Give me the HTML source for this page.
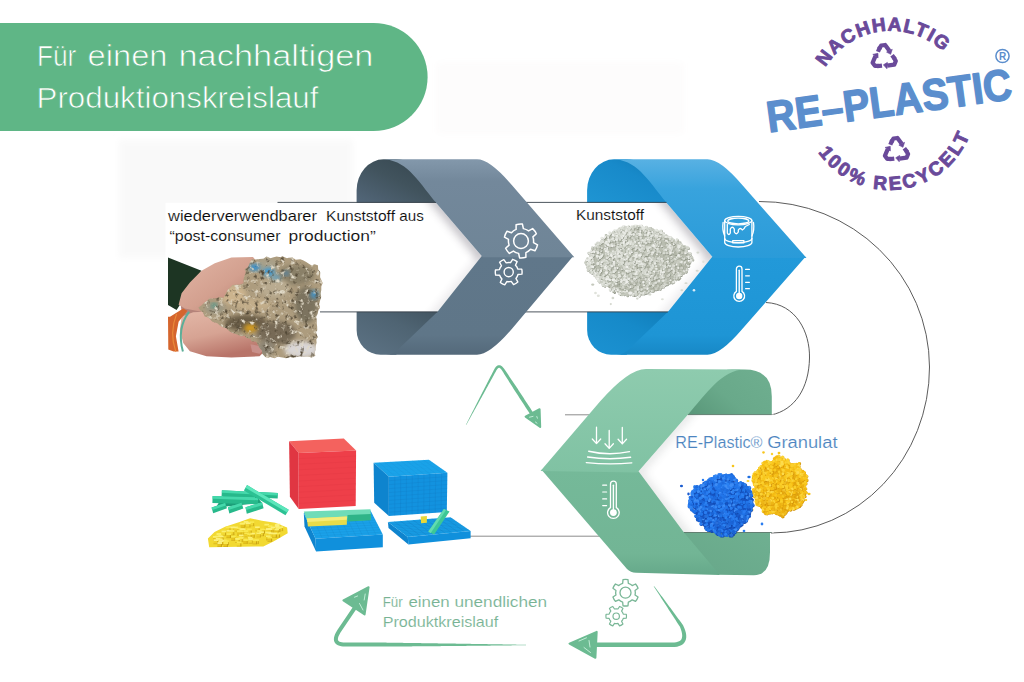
<!DOCTYPE html>
<html><head><meta charset="utf-8"><title>RE-Plastic Produktionskreislauf</title>
<style>
html,body{margin:0;padding:0;background:#fff;}
body{width:1024px;height:682px;overflow:hidden;font-family:"Liberation Sans",sans-serif;}
svg{display:block;font-family:"Liberation Sans",sans-serif;}
</style></head><body>
<svg width="1024" height="682" viewBox="0 0 1024 682">
<rect width="1024" height="682" fill="#fff"/>

<defs>
  <linearGradient id="gUp" x1="0" y1="0" x2="0" y2="1">
    <stop offset="0" stop-color="#8398ab"/><stop offset="0.22" stop-color="#73889b"/><stop offset="1" stop-color="#6f8597"/>
  </linearGradient>
  <linearGradient id="gLo" x1="0" y1="0" x2="0" y2="1">
    <stop offset="0" stop-color="#60778a"/><stop offset="0.8" stop-color="#5f7688"/><stop offset="1" stop-color="#54697a"/>
  </linearGradient>
  <linearGradient id="gBackU" x1="0" y1="1" x2="1" y2="0">
    <stop offset="0" stop-color="#53677a"/><stop offset="0.5" stop-color="#41535d"/><stop offset="1" stop-color="#33434c"/>
  </linearGradient>
  <linearGradient id="gBackL" x1="0" y1="1" x2="1" y2="0">
    <stop offset="0" stop-color="#5d7385"/><stop offset="0.6" stop-color="#4f6473"/><stop offset="1" stop-color="#41535f"/>
  </linearGradient>

  <linearGradient id="bUp" x1="0" y1="0" x2="0" y2="1">
    <stop offset="0" stop-color="#58b1e3"/><stop offset="0.3" stop-color="#38a3dd"/><stop offset="1" stop-color="#2a9bd9"/>
  </linearGradient>
  <linearGradient id="bLo" x1="0" y1="0" x2="0" y2="1">
    <stop offset="0" stop-color="#2299d9"/><stop offset="0.8" stop-color="#1e95d5"/><stop offset="1" stop-color="#1788c6"/>
  </linearGradient>
  <linearGradient id="bBackU" x1="0" y1="1" x2="1" y2="0">
    <stop offset="0" stop-color="#1f95d3"/><stop offset="0.6" stop-color="#188aca"/><stop offset="1" stop-color="#0f78b2"/>
  </linearGradient>
  <linearGradient id="bBackL" x1="0" y1="1" x2="1" y2="0">
    <stop offset="0" stop-color="#1c92d2"/><stop offset="0.6" stop-color="#168ac9"/><stop offset="1" stop-color="#107cb8"/>
  </linearGradient>

  <linearGradient id="nUp" x1="0" y1="0" x2="0" y2="1">
    <stop offset="0" stop-color="#8ecbae"/><stop offset="1" stop-color="#80c2a3"/>
  </linearGradient>
  <linearGradient id="nLo" x1="0" y1="0" x2="0" y2="1">
    <stop offset="0" stop-color="#75b999"/><stop offset="0.8" stop-color="#72b595"/><stop offset="1" stop-color="#66a98a"/>
  </linearGradient>
  <linearGradient id="nBackU" x1="1" y1="0.2" x2="0" y2="0.8">
    <stop offset="0" stop-color="#6eae8f"/><stop offset="0.55" stop-color="#69a98a"/><stop offset="1" stop-color="#5a987a"/>
  </linearGradient>
  <linearGradient id="nBackL" x1="1" y1="0" x2="0" y2="1">
    <stop offset="0" stop-color="#6fb091"/><stop offset="1" stop-color="#67a789"/>
  </linearGradient>

  <linearGradient id="shadR" x1="0" y1="0" x2="1" y2="0">
    <stop offset="0" stop-color="#000" stop-opacity="0"/><stop offset="1" stop-color="#2a2030" stop-opacity="0.55"/>
  </linearGradient>
  <filter id="blur3" x="-30%" y="-30%" width="160%" height="160%"><feGaussianBlur stdDeviation="5"/></filter>
  <filter id="blurG" filterUnits="userSpaceOnUse" x="0" y="0" width="1024" height="682"><feGaussianBlur stdDeviation="3.5"/></filter>
  <filter id="blur1" x="-30%" y="-30%" width="160%" height="160%"><feGaussianBlur stdDeviation="1.2"/></filter>
</defs>

<path d="M0,23 H373.6 A54,54 0 0 1 373.6,131 H0 Z" fill="#5fb686"/>
<text x="37" y="66" font-size="29.5" fill="#fff" stroke="#5fb686" stroke-width="0.7" textLength="39.3" lengthAdjust="spacingAndGlyphs">Für</text>
<text x="87.5" y="66" font-size="29.5" fill="#fff" stroke="#5fb686" stroke-width="0.7" textLength="80" lengthAdjust="spacingAndGlyphs">einen</text>
<text x="178.5" y="66" font-size="29.5" fill="#fff" stroke="#5fb686" stroke-width="0.7" textLength="195" lengthAdjust="spacingAndGlyphs">nachhaltigen</text>
<text x="36.5" y="107.5" font-size="30" fill="#fff" stroke="#5fb686" stroke-width="0.7" textLength="282" lengthAdjust="spacingAndGlyphs">Produktionskreislauf</text>
<rect x="119" y="140" width="234" height="118" fill="#f9f9f9" filter="url(#blurG)"/><rect x="436" y="62" width="248" height="72" fill="#fdfcfc" filter="url(#blurG)"/>
<path d="M759,201.5 A169.5,166 0 0 1 929.5,367 A158.5,166 0 0 1 771,533" fill="none" stroke="#4a4a4a" stroke-width="0.9"/>
<path d="M766,302.5 C796,304 810,332 809.5,358 C809,388 795,410 771,415" fill="none" stroke="#4a4a4a" stroke-width="0.9"/>
<path d="M565,414.8 H600" fill="none" stroke="#707070" stroke-width="0.8"/>
<path d="M470,536.2 H600" fill="none" stroke="#707070" stroke-width="0.8"/>
<path d="M587.1,203.3 V190.3 A27,31 0 0 1 614.1,159.3 H626.5 C646.5,159.3 652.5,178.3 671.5,203.3 Z" fill="url(#bBackU)"/>
<path d="M587.1,311.3 V329.7 A24,25 0 0 0 611.1,354.7 H626.5 L673.5,311.3 Z" fill="url(#bBackL)"/>
<path d="M520,202.8 H666.5 L713.3,257.90000000000003 L668.0,311.8 H520 Z" fill="#fff"/>
<clipPath id="clipband230.5"><path d="M546.5,202.8 H666.5 L713.3,257.90000000000003 L668.0,311.8 H546.5 Z"/></clipPath>
<g clip-path="url(#clipband230.5)"><path d="M657.5,190.8 L714.3,258.90000000000003" fill="none" stroke="#40384a" stroke-width="9" opacity="0.36" filter="url(#blur3)"/><path d="M713.3,257.90000000000003 L660.0,321.8" fill="none" stroke="#40384a" stroke-width="6" opacity="0.16" filter="url(#blur3)"/></g>
<path d="M712.3,256.70000000000005 H805.5 L742.5,328.7 Q720.4,354.7 707.5,354.7 H616.5 Q624.5,354.7 631.5,346.7 L668.0,311.8 Z" fill="url(#bLo)"/>
<path d="M611.5,159.3 H707.5 Q720.4,159.3 742.5,185.3 L806.5,257.90000000000003 H713.3 L666.5,202.8 C646.5,178.3 636.5,159.3 611.5,159.3 Z" fill="url(#bUp)"/>
<path d="M520,202.4 H666.5" stroke="#39434c" stroke-width="0.9" fill="none"/>
<path d="M520,311.90000000000003 H668.0" stroke="#39434c" stroke-width="0.9" fill="none"/>
<path d="M356.6,203.3 V190.3 A27,31 0 0 1 383.6,159.3 H396 C416,159.3 422,178.3 441,203.3 Z" fill="url(#gBackU)"/>
<path d="M356.6,311.3 V329.7 A24,25 0 0 0 380.6,354.7 H396 L443,311.3 Z" fill="url(#gBackL)"/>
<path d="M165.5,202.8 H436 L482.8,257.3 L437.5,311.8 H165.5 Z" fill="#fff"/>
<clipPath id="clipband0"><path d="M316,202.8 H436 L482.8,257.3 L437.5,311.8 H316 Z"/></clipPath>
<g clip-path="url(#clipband0)"><path d="M427,190.8 L483.8,258.3" fill="none" stroke="#40384a" stroke-width="9" opacity="0.36" filter="url(#blur3)"/><path d="M482.8,257.3 L429.5,321.8" fill="none" stroke="#40384a" stroke-width="6" opacity="0.16" filter="url(#blur3)"/></g>
<path d="M481.8,256.1 H573.3 L512,328.7 Q489.9,354.7 477,354.7 H386 Q394,354.7 401,346.7 L437.5,311.8 Z" fill="url(#gLo)"/>
<path d="M381,159.3 H477 Q489.9,159.3 512,185.3 L574.3,257.3 H482.8 L436,202.8 C416,178.3 406,159.3 381,159.3 Z" fill="url(#gUp)"/>
<path d="M277.5,202.4 H436" stroke="#39434c" stroke-width="0.9" fill="none"/>
<path d="M277.5,311.90000000000003 H437.5" stroke="#39434c" stroke-width="0.9" fill="none"/>
<rect x="270" y="310" width="50" height="4" fill="#fff"/>
<path d="M771.8,415.1 V396.6 Q771.8,369.6 744.8,369.6 H731.8 C709.8,369.6 699.8,391.6 683,415.1 Z" fill="url(#nBackU)"/>
<path d="M770.0,532.0 V552.5 Q770.0,575.3 753.8,575.3 L717.8,574.8 L679,532.0 Z" fill="url(#nBackL)"/>
<path d="M773.8,414.6 H688 L637.5,472.5 L684,532.5 H773.8 Z" fill="#fff"/>
<clipPath id="clipbandN"><path d="M773.8,414.6 H688 L637.5,472.5 L684,532.5 H773.8 Z"/></clipPath>
<g clip-path="url(#clipbandN)"><path d="M696,404.6 L637.5,472.5 L692,542.5" fill="none" stroke="#40484a" stroke-width="7" opacity="0.17" filter="url(#blur3)"/></g>
<path d="M541.5,469.7 L638.5,471.3 L684,532.5 L719.8,575.0 L636,572.7 Q630.5,572.5 627,569.0 Z" fill="url(#nLo)"/>
<path d="M744.8,369.6 C721.8,369.6 705.8,394.6 688,414.6 L637.5,472.5 L540.5,470.9 L600,401.6 Q628.5,369.0 646,369.0 Z" fill="url(#nUp)"/>
<path d="M688,414.6 H771.8" stroke="#4c6a5c" stroke-width="0.8" fill="none"/>
<path d="M684,532.5 H771.8" stroke="#4c6a5c" stroke-width="0.8" fill="none"/>
<text x="168" y="220.5" font-size="14" fill="#0a0a0a" stroke="#fff" stroke-width="0.12" textLength="149" lengthAdjust="spacingAndGlyphs">wiederverwendbarer</text>
<text x="326" y="220.5" font-size="14" fill="#0a0a0a" stroke="#fff" stroke-width="0.12" textLength="69" lengthAdjust="spacingAndGlyphs">Kunststoff</text>
<text x="399.3" y="220.5" font-size="14" fill="#0a0a0a" stroke="#fff" stroke-width="0.12" textLength="24.5" lengthAdjust="spacingAndGlyphs">aus</text>
<text x="169.5" y="241.2" font-size="14" fill="#0a0a0a" stroke="#fff" stroke-width="0.12" textLength="111" lengthAdjust="spacingAndGlyphs">“post-consumer</text>
<text x="288.5" y="241.2" font-size="14" fill="#0a0a0a" stroke="#fff" stroke-width="0.12" textLength="87.2" lengthAdjust="spacingAndGlyphs">production”</text>
<text x="576" y="220" font-size="14.5" fill="#0a0a0a" stroke="#fff" stroke-width="0.12" textLength="68" lengthAdjust="spacingAndGlyphs">Kunststoff</text>
<text x="675.3" y="448.4" font-size="16" fill="#4d85c0" stroke="#fff" stroke-width="0.15" textLength="87.2" lengthAdjust="spacingAndGlyphs">RE-Plastic®</text>
<text x="767.2" y="448.4" font-size="16" fill="#4d85c0" stroke="#fff" stroke-width="0.15" textLength="70.3" lengthAdjust="spacingAndGlyphs">Granulat</text>
<text x="382.7" y="606.6" font-size="14.5" fill="#78b394" stroke="#fff" stroke-width="0.12" textLength="20" lengthAdjust="spacingAndGlyphs">Für</text>
<text x="408.4" y="606.6" font-size="14.5" fill="#78b394" stroke="#fff" stroke-width="0.12" textLength="41.3" lengthAdjust="spacingAndGlyphs">einen</text>
<text x="454.4" y="606.6" font-size="14.5" fill="#78b394" stroke="#fff" stroke-width="0.12" textLength="92.8" lengthAdjust="spacingAndGlyphs">unendlichen</text>
<text x="382.7" y="627.2" font-size="14.5" fill="#78b394" stroke="#fff" stroke-width="0.12" textLength="115.6" lengthAdjust="spacingAndGlyphs">Produktkreislauf</text>
<path d="M533.50,242.58L537.55,244.88A17.00,17.00 0 0 1 534.96,250.70L530.54,249.23A12.60,12.60 0 0 1 525.88,252.62L525.91,257.27A17.00,17.00 0 0 1 519.58,257.94L518.64,253.38A12.60,12.60 0 0 1 513.38,251.04L509.36,253.39A17.00,17.00 0 0 1 505.62,248.24L509.10,245.14A12.60,12.60 0 0 1 508.50,239.42L504.45,237.12A17.00,17.00 0 0 1 507.04,231.30L511.46,232.77A12.60,12.60 0 0 1 516.12,229.38L516.09,224.73A17.00,17.00 0 0 1 522.42,224.06L523.36,228.62A12.60,12.60 0 0 1 528.62,230.96L532.64,228.61A17.00,17.00 0 0 1 536.38,233.76L532.90,236.86A12.60,12.60 0 0 1 533.50,242.58Z" fill="none" stroke="#ffffff" stroke-width="1.5" stroke-linejoin="round"/><circle cx="521" cy="241" r="7.4" fill="none" stroke="#ffffff" stroke-width="1.5"/>
<path d="M517.79,269.01L521.77,269.13A13.40,13.40 0 0 1 521.94,274.15L517.98,274.55A9.60,9.60 0 0 1 515.92,278.42L517.80,281.93A13.40,13.40 0 0 1 513.55,284.59L511.22,281.36A9.60,9.60 0 0 1 506.84,281.52L504.74,284.90A13.40,13.40 0 0 1 500.30,282.54L501.94,278.91A9.60,9.60 0 0 1 499.61,275.19L495.63,275.07A13.40,13.40 0 0 1 495.46,270.05L499.42,269.65A9.60,9.60 0 0 1 501.48,265.78L499.60,262.27A13.40,13.40 0 0 1 503.85,259.61L506.18,262.84A9.60,9.60 0 0 1 510.56,262.68L512.66,259.30A13.40,13.40 0 0 1 517.10,261.66L515.46,265.29A9.60,9.60 0 0 1 517.79,269.01Z" fill="none" stroke="#ffffff" stroke-width="1.4" stroke-linejoin="round"/><circle cx="508.7" cy="272.1" r="4.6" fill="none" stroke="#ffffff" stroke-width="1.4"/>
<g fill="none" stroke="#ffffff" stroke-width="1.3" stroke-linejoin="round" stroke-linecap="round"><ellipse cx="738.3" cy="220.6" rx="13.6" ry="4.2"/><ellipse cx="738.3" cy="221" rx="10.6" ry="2.8"/><path d="M724.6999999999999,220.6 V242.6 A13.6,4.4 0 0 0 751.9,242.6 V220.6"/><path d="M724.6999999999999,238.4 A13.6,4.2 0 0 0 751.9,238.4"/><path d="M727.3,224.5 V233 Q728.8,236 730.3,233 V229 Q732.3,225.5 734.3,229 V232 Q736.3,235.5 738.3,232 V230 Q740.3,227 742.3,230 Q744.3,229 745.3,226.5 L749.3,224.5"/><path d="M723.0999999999999,222.5 Q722.0,230 724.6999999999999,236"/><path d="M753.5,222.5 Q754.5999999999999,230 751.9,236"/><rect x="732.6999999999999" y="240.6" width="11.2" height="2.2"/></g>
<path d="M736.4000000000001,291.38 V269.0 A2.8,2.8 0 0 1 742.0,269.0 V291.38 A5.4,5.4 0 1 1 736.4000000000001,291.38 Z" fill="none" stroke="#ffffff" stroke-width="1.3"/><circle cx="739.2" cy="296" r="3.2" fill="#ffffff"/><path d="M739.2,296 V270.2" stroke="#ffffff" stroke-width="1.4" stroke-linecap="round"/>
<path d="M745.6,269.4 H749.4" stroke="#ffffff" stroke-width="1.2" stroke-linecap="round"/><path d="M745.6,275.8 H749.4" stroke="#ffffff" stroke-width="1.2" stroke-linecap="round"/><path d="M745.6,282.3 H749.4" stroke="#ffffff" stroke-width="1.2" stroke-linecap="round"/><path d="M745.6,288.7 H749.4" stroke="#ffffff" stroke-width="1.2" stroke-linecap="round"/>
<path d="M610.5,507.58 V484.09999999999997 A2.9,2.9 0 0 1 616.3,484.09999999999997 V507.58 A5.8,5.8 0 1 1 610.5,507.58 Z" fill="none" stroke="#ffffff" stroke-width="1.3"/><circle cx="613.4" cy="512.6" r="3.4" fill="#ffffff"/><path d="M613.4,512.6 V485.2" stroke="#ffffff" stroke-width="1.4" stroke-linecap="round"/>
<path d="M602.7,485.2 H606.6" stroke="#ffffff" stroke-width="1.2" stroke-linecap="round"/><path d="M602.7,492 H606.6" stroke="#ffffff" stroke-width="1.2" stroke-linecap="round"/><path d="M602.7,498.9 H606.6" stroke="#ffffff" stroke-width="1.2" stroke-linecap="round"/><path d="M602.7,505.6 H606.6" stroke="#ffffff" stroke-width="1.2" stroke-linecap="round"/>
<path d="M596.5,427.2 V443.6 M592.3,439.0 L596.5,443.6 L600.7,439.0" fill="none" stroke="#ffffff" stroke-width="1.3" stroke-linecap="round" stroke-linejoin="round"/>
<path d="M609.2,430.4 V448.4 M605.0,443.79999999999995 L609.2,448.4 L613.4000000000001,443.79999999999995" fill="none" stroke="#ffffff" stroke-width="1.3" stroke-linecap="round" stroke-linejoin="round"/>
<path d="M622.3,427.4 V443.9 M618.0999999999999,439.29999999999995 L622.3,443.9 L626.5,439.29999999999995" fill="none" stroke="#ffffff" stroke-width="1.3" stroke-linecap="round" stroke-linejoin="round"/>
<g fill="none" stroke="#ffffff" stroke-width="1.4" stroke-linecap="round"><path d="M588.7,451.2 Q609,456 629.5,451.6"/><path d="M587.6,457 Q609,460.2 630.6,457.3"/><path d="M586.3,462.6 Q609,464.9 631.8,462.9"/></g>
<path d="M622.67,583.32L623.01,579.64A13.30,13.30 0 0 1 627.99,579.64L628.33,583.32A9.80,9.80 0 0 1 632.21,585.56L635.57,584.01A13.30,13.30 0 0 1 638.06,588.33L635.04,590.46A9.80,9.80 0 0 1 635.04,594.94L638.06,597.07A13.30,13.30 0 0 1 635.57,601.39L632.21,599.84A9.80,9.80 0 0 1 628.33,602.08L627.99,605.76A13.30,13.30 0 0 1 623.01,605.76L622.67,602.08A9.80,9.80 0 0 1 618.79,599.84L615.43,601.39A13.30,13.30 0 0 1 612.94,597.07L615.96,594.94A9.80,9.80 0 0 1 615.96,590.46L612.94,588.33A13.30,13.30 0 0 1 615.43,584.01L618.79,585.56A9.80,9.80 0 0 1 622.67,583.32Z" fill="none" stroke="#7ab797" stroke-width="1.3" stroke-linejoin="round"/><circle cx="625.5" cy="592.7" r="5.5" fill="none" stroke="#7ab797" stroke-width="1.3"/>
<path d="M623.28,614.06L626.32,614.27A10.30,10.30 0 0 1 626.32,618.13L623.28,618.34A7.40,7.40 0 0 1 621.59,621.27L622.93,624.00A10.30,10.30 0 0 1 619.59,625.93L617.89,623.40A7.40,7.40 0 0 1 614.51,623.40L612.81,625.93A10.30,10.30 0 0 1 609.47,624.00L610.81,621.27A7.40,7.40 0 0 1 609.12,618.34L606.08,618.13A10.30,10.30 0 0 1 606.08,614.27L609.12,614.06A7.40,7.40 0 0 1 610.81,611.13L609.47,608.40A10.30,10.30 0 0 1 612.81,606.47L614.51,609.00A7.40,7.40 0 0 1 617.89,609.00L619.59,606.47A10.30,10.30 0 0 1 622.93,608.40L621.59,611.13A7.40,7.40 0 0 1 623.28,614.06Z" fill="none" stroke="#7ab797" stroke-width="1.2" stroke-linejoin="round"/><circle cx="616.2" cy="616.2" r="3.2" fill="none" stroke="#7ab797" stroke-width="1.2"/>
<path d="M466.13,425.07L466.89,423.74L467.64,422.40L468.39,421.06L469.14,419.73L469.89,418.39L470.63,417.05L471.38,415.71L472.12,414.37L472.87,413.03L473.61,411.69L474.36,410.34L475.10,409.00L475.84,407.66L476.58,406.32L477.33,404.98L478.07,403.64L478.81,402.30L479.55,400.95L480.29,399.61L481.04,398.27L481.78,396.93L482.52,395.59L483.26,394.24L484.00,392.90L484.74,391.56L485.48,390.22L486.22,388.87L486.96,387.53L487.70,386.19L488.44,384.85L489.18,383.50L489.92,382.16L490.66,380.82L491.40,379.47L492.14,378.13L492.88,376.79L493.62,375.45L494.36,374.10L495.10,372.76L495.84,371.42L496.56,370.10L497.02,369.40L497.47,368.83L497.89,368.39L498.27,368.09L498.60,367.90L498.88,367.81L499.12,367.79L499.38,367.83L499.67,367.94L500.03,368.15L500.43,368.47L500.88,368.93L501.36,369.53L501.87,370.26L502.68,371.54L503.50,372.84L504.32,374.13L505.14,375.43L505.96,376.72L506.78,378.02L507.60,379.31L508.42,380.61L509.24,381.90L510.06,383.20L510.88,384.50L511.70,385.79L512.52,387.09L513.34,388.38L514.16,389.68L514.98,390.97L515.82,392.25L516.66,393.54L517.50,394.82L518.33,396.10L519.17,397.39L520.01,398.67L520.85,399.96L521.68,401.24L522.52,402.52L523.36,403.81L524.20,405.09L525.04,406.38L525.87,407.66L526.71,408.94L527.55,410.23L528.39,411.51L529.23,412.79L530.06,414.08L530.90,415.36L531.74,416.65L532.58,417.93L535.42,416.07L534.59,414.79L533.75,413.50L532.91,412.22L532.07,410.94L531.23,409.65L530.40,408.37L529.56,407.08L528.72,405.80L527.88,404.52L527.05,403.23L526.21,401.95L525.37,400.67L524.53,399.38L523.69,398.10L522.86,396.81L522.02,395.53L521.18,394.25L520.34,392.96L519.50,391.68L518.67,390.40L517.83,389.11L516.98,387.84L516.12,386.57L515.27,385.29L514.41,384.02L513.55,382.75L512.70,381.48L511.84,380.20L510.99,378.93L510.13,377.66L509.28,376.39L508.42,375.11L507.57,373.84L506.71,372.57L505.85,371.30L505.00,370.03L504.13,368.74L503.50,367.88L502.85,367.13L502.18,366.48L501.48,365.96L500.74,365.55L499.95,365.29L499.13,365.21L498.30,365.31L497.53,365.59L496.81,366.02L496.16,366.57L495.55,367.23L494.99,368.01L494.44,368.90L493.72,370.29L493.02,371.66L492.32,373.02L491.62,374.38L490.92,375.75L490.22,377.11L489.52,378.48L488.83,379.84L488.13,381.21L487.43,382.57L486.73,383.93L486.03,385.30L485.33,386.66L484.63,388.03L483.93,389.39L483.23,390.76L482.54,392.12L481.84,393.49L481.14,394.85L480.44,396.22L479.74,397.58L479.05,398.95L478.35,400.31L477.65,401.68L476.96,403.05L476.26,404.41L475.56,405.78L474.87,407.14L474.17,408.51L473.47,409.88L472.78,411.24L472.08,412.61L471.39,413.98L470.69,415.34L470.00,416.71L469.31,418.08L468.61,419.45L467.92,420.81L467.23,422.18L466.55,423.55L465.87,424.93Z" fill="#6cbb92"/>
<path d="M525.6,416.6 L539.6,409.2 L540.2,427 Z" fill="#6cbb92" stroke="#6cbb92" stroke-width="2" stroke-linejoin="round"/>
<path d="M529.5,417.2 L533,416.4 M536.8,416.5 L537.4,418.2 M535.4,422 L537,423.2" stroke="#c9f0dc" stroke-width="0.9" stroke-linecap="round" fill="none"/>
<path d="M653.68,586.09L654.47,587.38L655.28,588.67L656.10,589.96L656.91,591.24L657.73,592.52L658.55,593.80L659.38,595.09L660.20,596.37L661.02,597.64L661.84,598.92L662.67,600.20L663.49,601.48L664.32,602.76L665.14,604.04L665.97,605.31L666.80,606.59L667.62,607.87L668.45,609.14L669.28,610.42L670.11,611.70L670.94,612.97L671.76,614.25L672.59,615.52L673.42,616.80L674.25,618.07L675.08,619.35L675.91,620.62L676.74,621.90L677.57,623.17L678.40,624.45L679.23,625.72L679.94,626.79L680.87,629.24L681.57,631.52L682.00,633.56L682.18,635.35L682.13,636.87L681.88,638.12L681.46,639.13L680.87,639.95L680.10,640.65L679.08,641.25L677.78,641.75L676.18,642.16L674.25,642.41L671.94,642.50L670.49,642.50L668.98,642.50L667.47,642.50L665.96,642.50L664.45,642.50L662.94,642.50L661.43,642.50L659.92,642.50L658.41,642.50L656.90,642.50L655.39,642.50L653.88,642.50L652.37,642.50L650.86,642.50L649.35,642.50L647.84,642.50L646.33,642.50L644.82,642.50L643.31,642.50L641.80,642.50L640.29,642.50L638.78,642.50L637.27,642.50L635.76,642.50L634.25,642.50L632.75,642.50L631.24,642.50L629.73,642.50L628.22,642.50L626.71,642.50L625.20,642.50L623.69,642.50L622.18,642.50L620.67,642.50L619.16,642.50L617.65,642.50L616.14,642.50L614.63,642.50L613.12,642.50L611.61,642.50L610.10,642.50L608.59,642.50L607.08,642.50L605.57,642.50L604.06,642.50L602.55,642.50L601.04,642.50L599.53,642.50L598.02,642.50L596.51,642.50L595.00,642.50L595.00,647.10L596.51,647.10L598.02,647.10L599.53,647.10L601.04,647.10L602.55,647.10L604.06,647.10L605.57,647.10L607.08,647.10L608.59,647.10L610.10,647.10L611.61,647.10L613.12,647.10L614.63,647.10L616.14,647.10L617.65,647.10L619.16,647.10L620.67,647.10L622.18,647.10L623.69,647.10L625.20,647.10L626.71,647.10L628.22,647.10L629.73,647.10L631.24,647.10L632.75,647.10L634.25,647.10L635.76,647.10L637.27,647.10L638.78,647.10L640.29,647.10L641.80,647.10L643.31,647.10L644.82,647.10L646.33,647.10L647.84,647.10L649.35,647.10L650.86,647.10L652.37,647.10L653.88,647.10L655.39,647.10L656.90,647.10L658.41,647.10L659.92,647.10L661.43,647.10L662.94,647.10L664.45,647.10L665.96,647.10L667.47,647.10L668.98,647.10L670.49,647.10L672.06,647.10L674.63,647.00L677.03,646.68L679.21,646.12L681.16,645.29L682.86,644.15L684.25,642.74L685.29,641.07L685.96,639.20L686.25,637.19L686.20,635.07L685.85,632.83L685.21,630.46L684.29,627.94L683.06,625.21L682.04,623.78L681.14,622.55L680.23,621.33L679.33,620.10L678.43,618.88L677.53,617.65L676.63,616.43L675.73,615.20L674.83,613.98L673.92,612.75L673.02,611.53L672.12,610.30L671.21,609.08L670.31,607.86L669.41,606.63L668.50,605.41L667.60,604.19L666.69,602.96L665.79,601.74L664.88,600.52L663.98,599.30L663.07,598.08L662.16,596.86L661.25,595.63L660.34,594.41L659.43,593.20L658.52,591.98L657.61,590.76L656.70,589.54L655.78,588.33L654.86,587.12L653.92,585.91Z" fill="#6cbb92"/>
<path d="M569.5,643.6 L596.7,631.8 L595.4,657.8 Z" fill="#6cbb92" stroke="#6cbb92" stroke-width="2" stroke-linejoin="round"/>
<path d="M579,641 L586.5,637.8 M589,640.5 L590,647 M584,647.5 L590.5,652.5" stroke="#c9f0dc" stroke-width="0.9" stroke-linecap="round" fill="none"/>
<path d="M526.00,644.85L524.49,644.81L522.98,644.77L521.48,644.74L519.97,644.71L518.46,644.68L516.95,644.65L515.44,644.62L513.93,644.59L512.43,644.56L510.92,644.53L509.41,644.50L507.90,644.48L506.39,644.45L504.88,644.42L503.38,644.40L501.87,644.37L500.36,644.35L498.85,644.32L497.34,644.29L495.84,644.27L494.33,644.24L492.82,644.22L491.31,644.19L489.80,644.17L488.29,644.14L486.79,644.12L485.28,644.09L483.77,644.07L482.26,644.05L480.75,644.02L479.24,644.00L477.74,643.97L476.23,643.95L474.72,643.93L473.21,643.90L471.70,643.88L470.19,643.86L468.69,643.83L467.18,643.81L465.67,643.79L464.16,643.76L462.65,643.74L461.14,643.72L459.64,643.69L458.13,643.67L456.62,643.65L455.11,643.62L453.60,643.60L452.10,643.58L450.59,643.56L449.08,643.53L447.57,643.51L446.06,643.49L444.55,643.47L443.05,643.44L441.54,643.42L440.03,643.40L438.52,643.38L437.01,643.36L435.50,643.33L434.00,643.31L432.49,643.29L430.98,643.27L429.47,643.25L427.96,643.22L426.45,643.20L424.95,643.18L423.44,643.16L421.93,643.14L420.42,643.11L418.91,643.09L417.40,643.07L415.90,643.05L414.39,643.03L412.88,643.01L411.37,642.98L409.86,642.96L408.35,642.94L406.85,642.92L405.34,642.90L403.83,642.88L402.32,642.86L400.81,642.84L399.31,642.81L397.80,642.79L396.29,642.77L394.78,642.75L393.27,642.73L391.76,642.71L390.26,642.69L388.75,642.67L387.24,642.65L385.73,642.62L384.22,642.61L382.71,642.60L381.21,642.60L379.70,642.60L378.19,642.59L376.68,642.59L375.17,642.58L373.66,642.58L372.16,642.58L370.65,642.57L369.14,642.57L367.63,642.56L366.12,642.56L364.61,642.55L363.11,642.55L361.60,642.55L360.09,642.54L358.58,642.54L357.07,642.53L355.56,642.53L354.06,642.53L352.55,642.52L351.04,642.52L349.53,642.51L348.02,642.51L346.51,642.50L345.04,642.50L343.25,642.44L341.76,642.27L340.54,642.00L339.58,641.66L338.90,641.27L338.44,640.87L338.15,640.45L337.97,639.95L337.88,639.29L337.95,638.42L338.19,637.35L338.64,636.08L339.32,634.64L340.21,633.04L341.01,631.86L341.86,630.59L342.70,629.33L343.55,628.07L344.40,626.81L345.25,625.55L346.09,624.29L346.94,623.03L347.79,621.77L348.64,620.51L349.49,619.25L350.33,617.99L351.18,616.72L352.03,615.46L352.88,614.20L353.72,612.94L354.57,611.68L355.42,610.42L356.27,609.16L357.12,607.90L357.96,606.64L358.81,605.38L359.66,604.12L356.34,601.88L355.49,603.14L354.64,604.41L353.80,605.67L352.95,606.93L352.10,608.19L351.25,609.45L350.41,610.71L349.56,611.97L348.71,613.23L347.86,614.49L347.01,615.75L346.17,617.01L345.32,618.28L344.47,619.54L343.62,620.80L342.78,622.06L341.93,623.32L341.08,624.58L340.23,625.84L339.38,627.10L338.54,628.36L337.69,629.62L336.79,630.96L335.76,632.81L334.95,634.55L334.35,636.22L333.99,637.82L333.89,639.38L334.08,640.89L334.60,642.30L335.46,643.54L336.59,644.54L337.93,645.30L339.44,645.85L341.12,646.22L342.97,646.43L344.96,646.50L346.50,646.50L348.01,646.51L349.52,646.51L351.03,646.52L352.54,646.52L354.04,646.52L355.55,646.53L357.06,646.53L358.57,646.54L360.08,646.54L361.59,646.55L363.09,646.55L364.60,646.55L366.11,646.56L367.62,646.56L369.13,646.57L370.64,646.57L372.14,646.57L373.65,646.58L375.16,646.58L376.67,646.59L378.18,646.59L379.69,646.60L381.19,646.60L382.70,646.60L384.21,646.61L385.72,646.60L387.23,646.59L388.74,646.58L390.24,646.56L391.75,646.55L393.26,646.54L394.77,646.52L396.28,646.51L397.79,646.50L399.29,646.49L400.80,646.47L402.31,646.46L403.82,646.45L405.33,646.43L406.84,646.42L408.35,646.41L409.85,646.39L411.36,646.38L412.87,646.37L414.38,646.36L415.89,646.34L417.40,646.33L418.90,646.32L420.41,646.30L421.92,646.29L423.43,646.28L424.94,646.26L426.45,646.25L427.95,646.23L429.46,646.22L430.97,646.21L432.48,646.19L433.99,646.18L435.50,646.17L437.00,646.15L438.51,646.14L440.02,646.13L441.53,646.11L443.04,646.10L444.55,646.08L446.05,646.07L447.56,646.05L449.07,646.04L450.58,646.03L452.09,646.01L453.60,646.00L455.11,645.98L456.61,645.97L458.12,645.95L459.63,645.94L461.14,645.93L462.65,645.91L464.16,645.90L465.66,645.88L467.17,645.87L468.68,645.85L470.19,645.84L471.70,645.82L473.21,645.81L474.71,645.79L476.22,645.77L477.73,645.76L479.24,645.74L480.75,645.73L482.26,645.71L483.76,645.70L485.27,645.68L486.78,645.66L488.29,645.65L489.80,645.63L491.31,645.61L492.81,645.60L494.32,645.58L495.83,645.56L497.34,645.55L498.85,645.53L500.36,645.51L501.87,645.50L503.37,645.48L504.88,645.46L506.39,645.44L507.90,645.42L509.41,645.40L510.92,645.38L512.42,645.37L513.93,645.35L515.44,645.32L516.95,645.30L518.46,645.28L519.97,645.26L521.47,645.24L522.98,645.21L524.49,645.18L526.00,645.15Z" fill="#6cbb92"/>
<path d="M343.4,600.4 L368.6,587.2 L364.6,614.4 Z" fill="#6cbb92" stroke="#6cbb92" stroke-width="2" stroke-linejoin="round"/>
<path d="M354.5,597.2 L357.6,596 M365.2,594 L364.2,600 M359.5,603.5 L363,610" stroke="#c9f0dc" stroke-width="0.9" stroke-linecap="round" fill="none"/>
<path id="arcTop" d="M813.86,110.65 A76.9,76.9 0 0 1 965.86,91.45" fill="none"/>
<path id="arcBot" d="M805.15,121.92 A86.2,86.2 0 0 0 975.54,100.39" fill="none"/>
<text font-size="19" font-weight="bold" fill="#6a4a9a" stroke="#6a4a9a" stroke-width="0.9" stroke-linejoin="round" letter-spacing="1.3" text-anchor="middle"><textPath href="#arcTop" startOffset="50%">NACHHALTIG</textPath></text>
<text font-size="19" font-weight="bold" fill="#6a4a9a" stroke="#6a4a9a" stroke-width="0.9" stroke-linejoin="round" letter-spacing="2.6" text-anchor="middle"><textPath href="#arcBot" startOffset="50%">100% RECYCELT</textPath></text>
<g transform="translate(768.75,132.5) rotate(-7.8)"><text x="0" y="0" font-size="44" font-weight="bold" fill="#5b8ecd" stroke="#5b8ecd" stroke-width="1.4" stroke-linejoin="round" textLength="247" lengthAdjust="spacingAndGlyphs">RE–PLASTIC</text></g>
<circle cx="1002.5" cy="56" r="6.6" fill="none" stroke="#5b8ecd" stroke-width="1.5"/><text x="1002.5" y="59.6" font-size="10" font-weight="bold" fill="#5b8ecd" text-anchor="middle">R</text>
<g transform="translate(884,57.5) rotate(-7.5)" fill="none" stroke="#6a4a9a" stroke-width="4.25" stroke-linejoin="round"><g transform="rotate(0)"><path d="M-3.75,-9.00 L-1.25,-12.25 L2.75,-12.25 L6.25,-6.00"/><path d="M3.25,-5.00 L7.00,-2.25 L9.25,-7.00 Z" fill="#6a4a9a" stroke-width="0.6"/><path d="M8.25,-1.25 L10.75,3.12"/></g><g transform="rotate(120)"><path d="M-3.75,-9.00 L-1.25,-12.25 L2.75,-12.25 L6.25,-6.00"/><path d="M3.25,-5.00 L7.00,-2.25 L9.25,-7.00 Z" fill="#6a4a9a" stroke-width="0.6"/><path d="M8.25,-1.25 L10.75,3.12"/></g><g transform="rotate(240)"><path d="M-3.75,-9.00 L-1.25,-12.25 L2.75,-12.25 L6.25,-6.00"/><path d="M3.25,-5.00 L7.00,-2.25 L9.25,-7.00 Z" fill="#6a4a9a" stroke-width="0.6"/><path d="M8.25,-1.25 L10.75,3.12"/></g></g>
<g transform="translate(896.3,150.5) rotate(-7.5)" fill="none" stroke="#6a4a9a" stroke-width="4.25" stroke-linejoin="round"><g transform="rotate(0)"><path d="M-3.75,-9.00 L-1.25,-12.25 L2.75,-12.25 L6.25,-6.00"/><path d="M3.25,-5.00 L7.00,-2.25 L9.25,-7.00 Z" fill="#6a4a9a" stroke-width="0.6"/><path d="M8.25,-1.25 L10.75,3.12"/></g><g transform="rotate(120)"><path d="M-3.75,-9.00 L-1.25,-12.25 L2.75,-12.25 L6.25,-6.00"/><path d="M3.25,-5.00 L7.00,-2.25 L9.25,-7.00 Z" fill="#6a4a9a" stroke-width="0.6"/><path d="M8.25,-1.25 L10.75,3.12"/></g><g transform="rotate(240)"><path d="M-3.75,-9.00 L-1.25,-12.25 L2.75,-12.25 L6.25,-6.00"/><path d="M3.25,-5.00 L7.00,-2.25 L9.25,-7.00 Z" fill="#6a4a9a" stroke-width="0.6"/><path d="M8.25,-1.25 L10.75,3.12"/></g></g>
<g stroke-linecap="round" fill="none"><polygon points="588.3,262.2 594.2,249.2 605.9,237.4 621.7,229.5 641.3,227.6 658.3,232.1 674.0,241.3 684.5,249.2 689.1,258.3 683.2,270.1 671.4,280.6 655.7,288.4 636.1,293.7 619.0,291.1 605.9,283.2 594.2,274.0" fill="#b9bdb0" />
<path d="M640.3 226.2h0M641.9 226.3h0M635.4 226.3h0M637.1 226.4h0M635.7 226.8h0M638.7 226.8h0M623.8 226.8h0M628.9 226.9h0M637.7 227h0M634.8 227h0M636.3 227.2h0M632.3 227.3h0M633.8 227.4h0M632.2 227.4h0M647 227.6h0M626.1 227.6h0M646.3 227.9h0M643.2 227.9h0M634.1 228.2h0M627.3 228.2h0M622.8 228.3h0M621 228.4h0M631 228.5h0M651.2 228.7h0M637.9 228.7h0M646.5 228.8h0M643.3 228.8h0M650.6 228.8h0M649.9 228.8h0M629.7 228.9h0M643.5 229h0M619.6 229h0M626.4 229h0M624.9 229.1h0M629.6 229.2h0M644.8 229.2h0M623.8 229.2h0M629 229.2h0M621.7 229.3h0M633.2 229.4h0M628.2 229.5h0M648 229.6h0M624.1 229.6h0M628.5 229.6h0M641.2 229.9h0M619.4 229.9h0M653 230h0M651.2 230.1h0M629.6 230.2h0M618.4 230.2h0M633.3 230.2h0M648.7 230.4h0M651.6 230.5h0M657 230.8h0M657.3 230.9h0M616.9 230.9h0M626.8 230.9h0M626 231h0M621.9 231h0M654.3 231h0M629.1 231.1h0M654.2 231.2h0M654.5 231.2h0M615.1 231.3h0M661.7 231.3h0M659.7 231.3h0M644.3 231.4h0M628.2 231.4h0M632.3 231.5h0M649.4 231.5h0M633.2 231.6h0M616.7 231.6h0M655.8 231.6h0M619.5 231.7h0M615 231.7h0M656.5 231.7h0M657.5 231.8h0M660.2 231.8h0M626.7 231.8h0M640.9 231.9h0M620.2 232h0M646.2 232h0M632.4 232h0M623.3 232h0M617 232h0M615.9 232h0M630.4 232h0M626.4 232.1h0M645.1 232.1h0M629.2 232.2h0" stroke="#8f9486" stroke-width="2.40"/>
<path d="M639.8 225.7h0M635.8 226.6h0M630.5 227.9h0M621.2 228.8h0M650.8 229.6h0" stroke="#dcdfd7" stroke-width="2.11"/>
<path d="M641.4 225.7h0M635 225.8h0M636.6 225.9h0M623.4 226.3h0M626.9 227.7h0M642.8 228.3h0M629.3 228.4h0M628.5 228.7h0M627.7 229h0M629.2 229.6h0M616.4 230.4h0" stroke="#eeefeb" stroke-width="2.69"/>
<path d="M635.3 226.2h0M642.7 227.4h0M646.1 228.2h0M619 229.3h0M614.6 231.1h0M659.8 231.3h0M628.8 231.6h0" stroke="#e9ebe5" stroke-width="2.69"/>
<path d="M638.3 226.2h0M620.5 227.8h0M621.4 230.5h0M653.7 230.6h0M643.8 230.8h0M615.4 231.5h0" stroke="#e6e8e2" stroke-width="2.11"/>
<path d="M628.5 226.3h0M626 228.5h0M632.7 228.9h0M617.9 229.7h0M616.3 231h0M656.1 231.2h0M622.9 231.5h0" stroke="#dee0d9" stroke-width="2.11"/>
<path d="M637.2 226.4h0M650.8 228.1h0M653.9 230.5h0M632 231.4h0M644.6 231.6h0" stroke="#c6cabe" stroke-width="2.11"/>
<path d="M634.3 226.5h0M637.4 228.2h0M619.2 228.5h0M624.5 228.6h0M632.9 229.7h0M648.2 229.8h0M651.2 229.9h0M654 230.6h0" stroke="#d2d5cc" stroke-width="2.11"/>
<path d="M631.9 226.7h0M631.8 230.9h0M655.3 231.1h0M626.3 231.3h0" stroke="#d3d6cd" stroke-width="2.11"/>
<path d="M633.4 226.8h0M645.9 227.3h0M650.1 228.3h0M623.3 228.7h0M652.6 229.5h0M625.5 230.5h0M632.8 231h0M629.9 231.5h0" stroke="#c6cabe" stroke-width="2.69"/>
<path d="M631.8 226.9h0M646.5 227h0M619.1 231.1h0" stroke="#dee0d9" stroke-width="2.69"/>
<path d="M625.6 227.1h0M647.5 229h0M640.7 229.3h0M628.7 230.6h0M627.8 230.9h0M657.1 231.2h0M619.8 231.4h0M616.5 231.5h0" stroke="#d3d6cd" stroke-width="2.69"/>
<path d="M633.6 227.6h0M649.5 228.3h0M623.7 229.1h0M628 229.1h0" stroke="#d2d5cc" stroke-width="2.69"/>
<path d="M622.4 227.7h0M629.1 228.6h0M656.9 230.4h0M661.2 230.8h0" stroke="#dcdfd7" stroke-width="2.69"/>
<path d="M643.1 228.4h0M644.3 228.6h0M656.5 230.2h0M626.3 230.4h0M614.6 230.7h0M625.9 231.5h0" stroke="#e6e8e2" stroke-width="2.69"/>
<path d="M659.2 230.8h0M645.8 231.4h0" stroke="#e9ebe5" stroke-width="2.11"/>
<path d="M648.9 231h0M640.4 231.4h0" stroke="#eeefeb" stroke-width="2.11"/>
<path d="M652.8 232.2h0M613.8 232.3h0M648.7 232.3h0M635.9 232.4h0M660.2 232.8h0M652.8 232.8h0M655.6 232.8h0M623.9 232.9h0M623.7 233h0M661 233.1h0M610 233.1h0M645.4 233.1h0M631 233.2h0M623.6 233.2h0M650.5 233.3h0M630.7 233.3h0M649.1 233.4h0M613.7 233.4h0M662 233.5h0M663.8 233.8h0M654.1 233.8h0M640.9 233.9h0M625.4 233.9h0M614.3 233.9h0M613.2 234h0M617 234h0M611.1 234h0M618.6 234.1h0M619.8 234.1h0M624.8 234.3h0M630.2 234.3h0M613.2 234.3h0M623 234.3h0M618.8 234.4h0M615.5 234.4h0M637.4 234.5h0M640.5 234.5h0M657.2 234.5h0M648.6 234.6h0M663.9 234.6h0M658 234.7h0M654 234.7h0M639.5 234.9h0M650.4 235h0M622.3 235.1h0M634.1 235.1h0M639.7 235.1h0M664.6 235.1h0M628.4 235.1h0M610 235.2h0M634 235.2h0M664 235.2h0M638.8 235.2h0M629.6 235.3h0M631.7 235.3h0M641 235.4h0M653.2 235.5h0M645.7 235.5h0M606.2 235.5h0M666.3 235.6h0M656 235.6h0M613.6 235.7h0M623.5 235.8h0M624.5 235.8h0M648.2 235.9h0M657 235.9h0M642.4 235.9h0M657.3 236.1h0M640.8 236.1h0M615.1 236.1h0M621.5 236.1h0M664.5 236.2h0M608.9 236.2h0M617.2 236.4h0M607.5 236.4h0M620.9 236.4h0M617.3 236.6h0M627.3 236.6h0M623.5 236.6h0M635.9 236.6h0M614.7 236.6h0M608.9 236.7h0M651.9 236.8h0M618.3 236.9h0M659.2 236.9h0M664 236.9h0M662.3 237h0M607.5 237h0M666.8 237h0M651.5 237.1h0" stroke="#8f9486" stroke-width="2.40"/>
<path d="M652.4 231.7h0M663.3 233.2h0M610.6 233.5h0M612.8 233.8h0M663.4 234.1h0M627.9 234.6h0M656.5 235.4h0" stroke="#dee0d9" stroke-width="2.11"/>
<path d="M613.3 231.7h0M623.5 232.3h0M613.9 233.4h0M612.7 233.4h0M615 233.9h0M665.8 235h0M664 235.6h0" stroke="#dcdfd7" stroke-width="2.11"/>
<path d="M648.3 231.7h0M645 232.6h0M650.1 232.7h0M626.9 236h0M614.3 236.1h0" stroke="#d2d5cc" stroke-width="2.11"/>
<path d="M635.5 231.8h0M648.1 234h0M629.2 234.7h0M645.3 234.9h0" stroke="#dee0d9" stroke-width="2.69"/>
<path d="M659.7 232.2h0M605.7 235h0M623.1 235.3h0" stroke="#c6cabe" stroke-width="2.11"/>
<path d="M652.4 232.3h0M640.1 233.9h0M656.9 235.5h0M608.5 235.7h0" stroke="#eeefeb" stroke-width="2.11"/>
<path d="M655.1 232.3h0M637 233.9h0M621.9 234.5h0M639.2 234.5h0M663.5 234.7h0M624 235.3h0M640.3 235.5h0M614.7 235.5h0M663.5 236.4h0" stroke="#d3d6cd" stroke-width="2.69"/>
<path d="M623.3 232.4h0M630.5 232.6h0M641.9 235.4h0M635.5 236.1h0M617.8 236.4h0" stroke="#c6cabe" stroke-width="2.69"/>
<path d="M660.5 232.5h0M630.3 232.7h0M661.5 232.9h0M625 233.4h0M619.3 233.5h0M629.8 233.7h0M633.6 234.6h0M655.6 235.1h0M647.7 235.3h0M651.5 236.3h0M651.1 236.5h0" stroke="#e6e8e2" stroke-width="2.69"/>
<path d="M609.6 232.5h0M618.4 233.9h0M652.8 234.9h0M616.8 236h0" stroke="#e9ebe5" stroke-width="2.69"/>
<path d="M623.2 232.7h0M648.7 232.8h0M657.6 234.1h0M639 234.4h0M613.1 235.2h0M623.1 236.1h0" stroke="#eeefeb" stroke-width="2.69"/>
<path d="M613.2 232.9h0M618.1 233.5h0M622.6 233.8h0M656.8 233.9h0M653.6 234.2h0M620.4 235.9h0M607.1 236.4h0" stroke="#d2d5cc" stroke-width="2.69"/>
<path d="M653.6 233.2h0M650 234.5h0M638.3 234.7h0M607.1 235.9h0M608.5 236.1h0M661.8 236.4h0" stroke="#d3d6cd" stroke-width="2.11"/>
<path d="M640.4 233.4h0M624.3 233.7h0M609.6 234.6h0M631.3 234.8h0M640.6 234.8h0M616.7 235.8h0M658.8 236.4h0" stroke="#e9ebe5" stroke-width="2.11"/>
<path d="M616.5 233.4h0M633.6 234.5h0M664.2 234.6h0" stroke="#e6e8e2" stroke-width="2.11"/>
<path d="M621 235.6h0" stroke="#dcdfd7" stroke-width="2.69"/>
<path d="M666.4 236.5h0" stroke="#b0b4a6" stroke-width="2.69"/>
<path d="M667.4 237.1h0M630.2 237.2h0M626.2 237.2h0M665.2 237.3h0M656.8 237.3h0M655 237.3h0M660.8 237.3h0M657.5 237.4h0M605.7 237.4h0M666.4 237.4h0M668.6 237.5h0M622.2 237.7h0M637.1 237.7h0M670.7 237.7h0M649.4 237.8h0M608.7 238h0M636.2 238.1h0M619.2 238.1h0M663.3 238.2h0M671.3 238.2h0M622.7 238.2h0M617 238.3h0M648.8 238.4h0M641.4 238.4h0M660.2 238.4h0M620.9 238.4h0M633.1 238.5h0M637.6 238.5h0M641.1 238.5h0M626.2 238.5h0M646.8 238.5h0M604.7 238.6h0M656.4 238.6h0M620.8 238.6h0M622.4 238.7h0M669.6 238.7h0M602.2 238.8h0M625.5 238.8h0M651.5 238.9h0M613.5 239h0M646.6 239h0M612.9 239.2h0M646.4 239.3h0M659.9 239.3h0M620.3 239.4h0M617.7 239.4h0M620.5 239.5h0M668.1 239.6h0M670.3 239.7h0M658.6 239.8h0M663.8 239.8h0M672.3 239.9h0M612.3 240h0M658.9 240h0M624.8 240.1h0M673.7 240.1h0M672.1 240.2h0M677.5 240.2h0M648.3 240.2h0M634.4 240.3h0M609 240.3h0M650.1 240.4h0M616.7 240.4h0M641.1 240.5h0M654.1 240.5h0M638.2 240.6h0M651.9 240.6h0M642.3 240.6h0M674.1 240.7h0M656.1 240.7h0M620.3 240.7h0M645.8 240.7h0M623.5 240.8h0M673.7 240.8h0M645.4 240.9h0M629.6 240.9h0M602.8 241h0M611.6 241h0M641.4 241h0M613.9 241h0M625 241h0M638.1 241.1h0M624.7 241.1h0M624.5 241.2h0M617.6 241.2h0M643.2 241.3h0M612.2 241.3h0M611.7 241.3h0M626.6 241.3h0M642.8 241.4h0" stroke="#8f9486" stroke-width="2.40"/>
<path d="M666.9 236.6h0M664.7 236.7h0M620.3 238.1h0M663.4 239.3h0M634 239.7h0M673.7 240.1h0M611.3 240.8h0" stroke="#d3d6cd" stroke-width="2.69"/>
<path d="M629.7 236.6h0M622.3 237.6h0M671.8 239.4h0M624.3 239.5h0M611.1 240.5h0" stroke="#dcdfd7" stroke-width="2.11"/>
<path d="M625.8 236.6h0M605.2 236.9h0M666 236.9h0M658.5 239.5h0M637.7 240.5h0" stroke="#e9ebe5" stroke-width="2.11"/>
<path d="M656.3 236.7h0M660.3 236.8h0M636.6 237.1h0M611.8 239.5h0M608.5 239.7h0" stroke="#eeefeb" stroke-width="2.69"/>
<path d="M654.5 236.7h0M618.7 237.6h0M612.4 238.7h0M637.7 240.1h0M629.2 240.4h0M617.1 240.6h0" stroke="#d3d6cd" stroke-width="2.11"/>
<path d="M657 236.9h0M668.2 236.9h0M617.2 238.8h0M649.7 239.9h0M645.3 240.2h0M624.5 240.5h0" stroke="#dee0d9" stroke-width="2.69"/>
<path d="M621.7 237.1h0M670.2 237.2h0M608.2 237.4h0M640.9 237.8h0M669.2 238.1h0M625 238.3h0M619.9 238.8h0M658.1 239.3h0" stroke="#e6e8e2" stroke-width="2.11"/>
<path d="M649 237.3h0M662.9 237.6h0M637.1 237.9h0M646.4 238h0M602.4 240.4h0M624.2 240.6h0M611.8 240.7h0M642.3 240.8h0" stroke="#c6cabe" stroke-width="2.11"/>
<path d="M635.7 237.5h0M671.7 239.6h0M640.6 240h0M651.4 240.1h0M641.9 240.1h0M655.6 240.1h0M619.9 240.1h0" stroke="#c6cabe" stroke-width="2.69"/>
<path d="M670.8 237.6h0M604.2 238h0M621.9 238.1h0M647.9 239.7h0M623.1 240.2h0" stroke="#eeefeb" stroke-width="2.11"/>
<path d="M616.5 237.8h0M648.4 237.8h0M625.8 238h0M620 238.9h0M669.9 239.2h0M677 239.7h0M644.9 240.3h0" stroke="#dcdfd7" stroke-width="2.69"/>
<path d="M659.8 237.9h0" stroke="#b0b4a6" stroke-width="2.11"/>
<path d="M620.5 237.9h0M656 238h0M646.2 238.5h0M673.3 239.5h0M653.7 240h0M640.9 240.5h0M613.4 240.5h0" stroke="#d2d5cc" stroke-width="2.11"/>
<path d="M632.6 237.9h0M673.2 240.2h0" stroke="#d2d5cc" stroke-width="2.69"/>
<path d="M640.7 237.9h0M651 238.4h0M645.9 238.7h0M659.5 238.8h0M624 240.6h0M626.1 240.8h0" stroke="#dee0d9" stroke-width="2.11"/>
<path d="M601.7 238.2h0" stroke="#e9ebe5" stroke-width="2.69"/>
<path d="M613.1 238.5h0M616.2 239.9h0M642.7 240.7h0" stroke="#e6e8e2" stroke-width="2.69"/>
<path d="M667.6 239h0" stroke="#b0b4a6" stroke-width="2.69"/>
<path d="M614.7 241.4h0M603 241.5h0M672.6 241.6h0M671.9 241.6h0M609.5 241.7h0M660 241.7h0M666.5 241.8h0M601.5 241.9h0M666.9 242h0M674.4 242.1h0M603 242.1h0M624.6 242.1h0M609.8 242.1h0M649.1 242.2h0M667.6 242.2h0M631.5 242.2h0M603.1 242.3h0M655 242.3h0M660.8 242.3h0M677.4 242.4h0M680.2 242.4h0M629.7 242.4h0M635.5 242.4h0M678.6 242.5h0M602.8 242.5h0M608.8 242.6h0M644.8 242.6h0M674.3 242.6h0M676.2 242.6h0M679.1 242.7h0M606.8 242.7h0M601.3 242.7h0M641.9 242.8h0M631.5 242.8h0M657.7 242.9h0M650.3 243.1h0M618 243.1h0M676.1 243.2h0M657.4 243.2h0M669.7 243.2h0M598.7 243.2h0M623.9 243.3h0M660.3 243.3h0M609.2 243.3h0M666.4 243.3h0M628.8 243.3h0M598.2 243.3h0M647.3 243.3h0M633.8 243.3h0M678.1 243.4h0M601.2 243.4h0M669.8 243.5h0M605.9 243.5h0M639.6 243.6h0M646.4 243.6h0M622.2 243.7h0M615.3 243.7h0M606.3 243.8h0M601.6 243.8h0M627.3 243.9h0M621.4 243.9h0M628.3 243.9h0M598.3 244h0M597.9 244.1h0M624.1 244.1h0M658.4 244.3h0M596 244.3h0M634.7 244.3h0M598.3 244.4h0M600.1 244.4h0M606.4 244.5h0M680.6 244.5h0M633.2 244.5h0M655.5 244.6h0M680.2 244.6h0M630.9 244.7h0M674.2 244.8h0M641.9 244.8h0M627.3 244.8h0M633.6 244.9h0M659.6 244.9h0M678 245h0M598.8 245h0M608.3 245h0M681.8 245h0M612.5 245h0M618.5 245h0M607.3 245h0M635.6 245.1h0M624 245.1h0" stroke="#8f9486" stroke-width="2.40"/>
<path d="M614.2 240.8h0M672.1 241h0M666.5 241.5h0M624.1 241.5h0M623.7 243.6h0M633.2 244.3h0" stroke="#e6e8e2" stroke-width="2.11"/>
<path d="M602.5 241h0M667.1 241.7h0M631 241.7h0M602.7 241.7h0M644.3 242h0M597.7 242.8h0M669.3 242.9h0M599.7 243.9h0" stroke="#dcdfd7" stroke-width="2.69"/>
<path d="M671.4 241h0M598.2 242.7h0M621 243.4h0M657.9 243.7h0M634.2 243.8h0" stroke="#d3d6cd" stroke-width="2.11"/>
<path d="M609 241.1h0M673.8 242.1h0M678.6 242.1h0M657.3 242.3h0M673.7 244.2h0" stroke="#eeefeb" stroke-width="2.11"/>
<path d="M659.5 241.2h0M656.9 242.6h0M669.2 242.7h0M646.9 242.8h0M614.8 243.2h0M623.6 244.5h0" stroke="#c6cabe" stroke-width="2.11"/>
<path d="M666.1 241.3h0M676.9 241.8h0M602.3 242h0M606.3 242.2h0M623.5 242.7h0" stroke="#eeefeb" stroke-width="2.69"/>
<path d="M601.1 241.4h0M602.5 241.5h0M631.1 242.3h0M645.9 243.1h0M607.9 244.4h0" stroke="#dee0d9" stroke-width="2.69"/>
<path d="M674 241.5h0" stroke="#bbbfb2" stroke-width="2.69"/>
<path d="M609.4 241.5h0M654.6 241.8h0M601.1 243.3h0M595.6 243.8h0M606 243.9h0" stroke="#e9ebe5" stroke-width="2.11"/>
<path d="M648.6 241.6h0M617.5 242.5h0M600.8 242.8h0M627.9 243.4h0M597.8 243.5h0M677.6 244.4h0" stroke="#d2d5cc" stroke-width="2.69"/>
<path d="M660.3 241.8h0M605.4 243h0M659.2 244.4h0M598.3 244.4h0M635.2 244.5h0" stroke="#c6cabe" stroke-width="2.69"/>
<path d="M679.8 241.8h0M600.8 242.2h0M641.5 242.3h0M649.8 242.5h0M659.8 242.7h0M626.9 243.3h0M655.1 244h0M679.8 244.1h0M618 244.5h0" stroke="#dee0d9" stroke-width="2.11"/>
<path d="M629.2 241.8h0M675.7 242.1h0M621.7 243.1h0M632.8 244h0M641.5 244.2h0M606.9 244.5h0" stroke="#dcdfd7" stroke-width="2.11"/>
<path d="M635.1 241.9h0M639.1 243.1h0M605.8 243.2h0M630.5 244.2h0M626.8 244.3h0" stroke="#e6e8e2" stroke-width="2.69"/>
<path d="M678.2 241.9h0M665.9 242.8h0" stroke="#b0b4a6" stroke-width="2.69"/>
<path d="M608.4 242h0M628.4 242.8h0M597.8 243.8h0" stroke="#e9ebe5" stroke-width="2.69"/>
<path d="M675.7 242.6h0M633.3 242.8h0M597.4 243.5h0M680.1 243.9h0M612.1 244.4h0" stroke="#d3d6cd" stroke-width="2.69"/>
<path d="M608.7 242.8h0" stroke="#d2d5cc" stroke-width="2.11"/>
<path d="M677.6 242.8h0" stroke="#c1c4b9" stroke-width="2.69"/>
<path d="M681.3 244.4h0" stroke="#cccfc5" stroke-width="2.11"/>
<path d="M640.6 245.2h0M633.3 245.2h0M671.9 245.2h0M608.7 245.3h0M653.8 245.3h0M620.7 245.4h0M657.8 245.4h0M667.5 245.4h0M680.4 245.5h0M624.8 245.6h0M682.2 245.6h0M611.9 245.6h0M670.3 245.7h0M605.3 245.8h0M667.7 245.9h0M654.3 245.9h0M614.7 246h0M624.7 246.1h0M625.1 246.1h0M640.5 246.1h0M679.1 246.1h0M626.2 246.2h0M682.4 246.3h0M610.1 246.3h0M656.6 246.3h0M654.2 246.4h0M643.1 246.4h0M652.8 246.4h0M641.3 246.4h0M637.2 246.4h0M612.6 246.4h0M597.1 246.5h0M597.8 246.5h0M644.4 246.5h0M680.3 246.6h0M635.7 246.6h0M672.7 246.7h0M671.9 246.8h0M621.3 246.8h0M662.4 246.8h0M685.2 246.8h0M679 247h0M669.4 247h0M610.8 247h0M632.8 247h0M658.9 247h0M598.2 247.1h0M665 247.1h0M684.6 247.1h0M606 247.1h0M670.3 247.1h0M620.8 247.1h0M597.8 247.1h0M617.9 247.1h0M599.7 247.2h0M664.9 247.2h0M623.8 247.3h0M595.9 247.3h0M678.6 247.3h0M595.6 247.3h0M598.1 247.4h0M671.9 247.5h0M655.2 247.5h0M633.7 247.6h0M681.9 247.6h0M687.5 247.7h0M683.5 247.7h0M622 247.7h0M592.6 247.7h0M680.5 247.8h0M681.9 247.8h0M674.7 247.9h0M600.2 247.9h0M627.5 247.9h0M623.8 247.9h0M636.3 247.9h0M650.1 248h0M620.7 248h0M668.7 248h0M685.6 248h0M655.4 248.1h0M629.7 248.2h0M619.1 248.2h0M648.5 248.2h0M623.7 248.2h0M646.6 248.2h0M648 248.3h0M679 248.3h0M636.6 248.3h0M630.6 248.3h0" stroke="#8f9486" stroke-width="2.40"/>
<path d="M640.1 244.6h0M624.7 245.6h0M625.7 245.6h0M596.6 245.9h0M672.3 246.2h0M617.4 246.6h0M595.4 246.7h0M595.1 246.8h0" stroke="#dcdfd7" stroke-width="2.11"/>
<path d="M632.8 244.7h0M624.3 245h0M678.6 245.6h0M609.7 245.8h0M652.4 245.8h0M620.9 246.2h0M664.5 246.7h0M683 247.2h0M648.1 247.6h0M646.2 247.7h0" stroke="#dcdfd7" stroke-width="2.69"/>
<path d="M671.4 244.7h0M664.5 246.5h0M681.5 247.3h0" stroke="#b0b4a6" stroke-width="2.69"/>
<path d="M608.2 244.8h0M612.2 245.9h0M597.4 245.9h0M654.8 247h0" stroke="#eeefeb" stroke-width="2.69"/>
<path d="M653.3 244.8h0M642.7 245.8h0M597.4 246.6h0M674.3 247.3h0M627 247.4h0M654.9 247.5h0" stroke="#dee0d9" stroke-width="2.11"/>
<path d="M620.3 244.8h0M611.4 245.1h0M644 246h0M671.4 246.2h0M661.9 246.3h0M658.5 246.5h0M605.5 246.5h0M592.1 247.2h0M623.4 247.4h0" stroke="#e6e8e2" stroke-width="2.11"/>
<path d="M657.3 244.9h0M610.3 246.5h0M678.1 246.8h0M621.5 247.2h0M623.3 247.7h0M630.2 247.8h0" stroke="#d3d6cd" stroke-width="2.11"/>
<path d="M667 244.9h0M604.9 245.2h0M669.9 246.5h0M633.3 247h0M599.7 247.4h0M649.6 247.4h0" stroke="#d2d5cc" stroke-width="2.11"/>
<path d="M680 245h0M597.8 246.5h0M623.3 246.7h0M636.2 247.8h0" stroke="#c6cabe" stroke-width="2.69"/>
<path d="M681.7 245h0M614.3 245.5h0M624.3 245.5h0M635.3 246.1h0M684.8 246.3h0M687 247.1h0" stroke="#dee0d9" stroke-width="2.69"/>
<path d="M669.9 245.1h0M653.7 245.8h0M679.9 246h0M678.6 246.4h0M618.7 247.6h0M678.5 247.7h0" stroke="#e6e8e2" stroke-width="2.69"/>
<path d="M667.2 245.4h0M656.2 245.8h0M640.9 245.9h0M632.3 246.5h0M597.7 246.8h0" stroke="#d3d6cd" stroke-width="2.69"/>
<path d="M653.8 245.4h0M640.1 245.6h0M636.8 245.9h0" stroke="#eeefeb" stroke-width="2.11"/>
<path d="M681.9 245.7h0M599.3 246.7h0M620.2 247.5h0" stroke="#c6cabe" stroke-width="2.11"/>
<path d="M668.9 246.4h0M680 247.3h0" stroke="#e9ebe5" stroke-width="2.11"/>
<path d="M684.1 246.5h0" stroke="#b0b4a6" stroke-width="2.11"/>
<path d="M620.4 246.6h0M635.8 247.4h0M668.3 247.5h0M629.3 247.6h0M647.6 247.7h0" stroke="#d2d5cc" stroke-width="2.69"/>
<path d="M671.5 246.9h0M681.4 247.1h0" stroke="#cccfc5" stroke-width="2.11"/>
<path d="M685.2 247.5h0" stroke="#c1c5b9" stroke-width="2.69"/>
<path d="M644.9 248.4h0M668.7 248.4h0M650.9 248.4h0M638.7 248.5h0M670.3 248.5h0M683.1 248.6h0M681.7 248.6h0M672.8 248.6h0M687.4 248.6h0M628.8 248.6h0M602.3 248.6h0M607.6 248.7h0M592.9 248.7h0M655.9 248.8h0M688.7 248.8h0M617.6 248.8h0M642.5 248.9h0M673.1 249h0M648.7 249.1h0M643.1 249.1h0M674.7 249.1h0M631.8 249.1h0M623.5 249.1h0M595.2 249.2h0M592.6 249.2h0M636.8 249.2h0M668 249.3h0M676.9 249.4h0M644.6 249.4h0M668.5 249.4h0M629.2 249.6h0M657.8 249.6h0M628.5 249.7h0M651.5 249.8h0M629.7 249.8h0M664.1 249.8h0M605.4 249.9h0M663.9 249.9h0M658.5 250h0M648.2 250h0M677.2 250h0M598.8 250h0M595.5 250h0M683.4 250h0M598.4 250h0M640.1 250.2h0M675.6 250.2h0M641.7 250.2h0M636 250.4h0M621.3 250.4h0M624.3 250.4h0M666.7 250.4h0M678.1 250.4h0M686.7 250.4h0M643.2 250.5h0M618.1 250.5h0M624.4 250.5h0M606 250.7h0M607.5 250.7h0M664.9 250.7h0M592 250.7h0M599.2 250.8h0M671.5 250.9h0M630.7 250.9h0M670.8 250.9h0M653.9 250.9h0M686.9 251h0M624.6 251h0M607.6 251h0M654.1 251.1h0M641.8 251.1h0M664.8 251.1h0M659.8 251.2h0M670.5 251.2h0M653.1 251.3h0M679.2 251.3h0M685.9 251.3h0M627.1 251.3h0M679.8 251.3h0M618.6 251.3h0M631.2 251.4h0M648.6 251.4h0M630.2 251.5h0M613.3 251.5h0M618.8 251.5h0M659 251.6h0M641.2 251.6h0M627.5 251.6h0M601.8 251.7h0M618 251.8h0" stroke="#8f9486" stroke-width="2.40"/>
<path d="M644.4 247.8h0" stroke="#c6c9be" stroke-width="2.69"/>
<path d="M668.2 247.8h0M607 250.1h0M671 250.3h0M648.2 250.9h0M658.5 251h0" stroke="#eeefeb" stroke-width="2.69"/>
<path d="M650.4 247.9h0M657.4 249.1h0M605 249.3h0M678.7 250.7h0M679.3 250.8h0" stroke="#e9ebe5" stroke-width="2.69"/>
<path d="M638.3 247.9h0M672.6 248.5h0M629.3 249.2h0M664.4 250.2h0M617.5 251.2h0" stroke="#d2d5cc" stroke-width="2.69"/>
<path d="M669.9 248h0M639.7 249.6h0M666.2 249.8h0M617.6 250h0M686.4 250.4h0M653.7 250.5h0M618.1 250.8h0" stroke="#e6e8e2" stroke-width="2.69"/>
<path d="M682.6 248h0M642 248.3h0M648.2 248.5h0M641.2 249.7h0M635.5 249.8h0" stroke="#e9ebe5" stroke-width="2.11"/>
<path d="M681.3 248h0M675.1 249.7h0" stroke="#c1c5b9" stroke-width="2.69"/>
<path d="M672.4 248.1h0M617.1 248.3h0M628.1 249.1h0M607.1 250.5h0M627 251.1h0" stroke="#dcdfd7" stroke-width="2.69"/>
<path d="M686.9 248.1h0M631.3 248.5h0M667.6 248.7h0M626.6 250.8h0" stroke="#d3d6cd" stroke-width="2.11"/>
<path d="M628.3 248.1h0M651 249.2h0" stroke="#c6cabe" stroke-width="2.69"/>
<path d="M601.9 248.1h0M655.5 248.2h0M636.3 248.6h0M658 249.4h0M623.9 250h0" stroke="#dee0d9" stroke-width="2.11"/>
<path d="M607.2 248.1h0M628.8 249h0M630.8 250.9h0" stroke="#eeefeb" stroke-width="2.11"/>
<path d="M592.5 248.2h0M663.7 249.3h0M598.3 249.5h0M620.8 249.8h0M591.5 250.2h0M664.3 250.6h0M640.8 251.1h0" stroke="#e6e8e2" stroke-width="2.11"/>
<path d="M688.2 248.2h0M595 249.5h0M623.9 249.8h0M677.6 249.9h0M641.4 250.5h0M629.8 250.9h0M612.9 251h0" stroke="#d3d6cd" stroke-width="2.69"/>
<path d="M642.6 248.5h0M647.7 249.4h0M670 250.7h0" stroke="#dee0d9" stroke-width="2.69"/>
<path d="M674.2 248.5h0" stroke="#b0b4a6" stroke-width="2.69"/>
<path d="M623 248.6h0M601.3 251.2h0" stroke="#dcdfd7" stroke-width="2.11"/>
<path d="M594.8 248.6h0M592.1 248.6h0M663.5 249.4h0M598 249.5h0M598.7 250.2h0M624.1 250.4h0M685.5 250.7h0" stroke="#c6cabe" stroke-width="2.11"/>
<path d="M676.5 248.8h0" stroke="#cfd1c8" stroke-width="2.11"/>
<path d="M644.2 248.9h0M686.2 249.9h0M605.5 250.1h0M630.2 250.3h0M670.4 250.3h0M618.3 251h0" stroke="#d2d5cc" stroke-width="2.11"/>
<path d="M668.1 248.9h0" stroke="#c7cabf" stroke-width="2.69"/>
<path d="M676.7 249.5h0" stroke="#cbcec4" stroke-width="2.69"/>
<path d="M682.9 249.5h0M652.7 250.7h0" stroke="#b0b4a6" stroke-width="2.11"/>
<path d="M642.7 249.9h0" stroke="#cccfc5" stroke-width="2.11"/>
<path d="M653.5 250.3h0" stroke="#c7cabf" stroke-width="2.11"/>
<path d="M659.4 250.6h0" stroke="#bbbfb2" stroke-width="2.69"/>
<path d="M606.4 251.8h0M674.4 251.9h0M619.5 251.9h0M649.6 251.9h0M597.3 252h0M643.3 252h0M655.2 252.1h0M660.1 252.2h0M608.2 252.3h0M609.6 252.3h0M658.2 252.3h0M619.1 252.3h0M614 252.3h0M594.8 252.4h0M664.8 252.4h0M610.4 252.5h0M616.2 252.6h0M613.6 252.6h0M593.1 252.6h0M618 252.6h0M608.4 252.6h0M620.2 252.7h0M686.9 252.7h0M632.3 252.7h0M624.7 252.8h0M598.5 252.8h0M679.8 252.9h0M645.9 252.9h0M591.9 253h0M590.5 253h0M671 253h0M676.9 253.1h0M671.4 253.1h0M678.1 253.1h0M650 253.1h0M687.5 253.1h0M660.7 253.1h0M676 253.1h0M598.9 253.2h0M635.6 253.2h0M637 253.2h0M685.6 253.3h0M653.3 253.3h0M652.5 253.3h0M598.4 253.3h0M673.5 253.4h0M621.3 253.4h0M646.9 253.4h0M629.8 253.4h0M611.5 253.4h0M614.4 253.5h0M670.9 253.5h0M667.2 253.5h0M588.9 253.5h0M664.8 253.5h0M613.8 253.6h0M612.2 253.7h0M682.4 253.7h0M618.3 253.8h0M638.1 253.8h0M690.4 253.8h0M668.2 253.8h0M686 254.1h0M648.2 254.1h0M664.4 254.1h0M627.6 254.1h0M615.5 254.1h0M622.9 254.2h0M616.3 254.2h0M635.1 254.2h0M630.5 254.3h0M641.6 254.3h0M589.8 254.3h0M600.9 254.4h0M671 254.4h0M677.2 254.5h0M613.8 254.5h0M629.3 254.5h0M618.5 254.7h0M606.3 254.7h0M609.1 254.7h0M675.6 254.7h0M653.4 254.7h0M628.9 254.8h0M677.2 254.8h0M623.1 254.8h0M612.9 254.8h0M670.4 254.8h0M625.7 254.9h0M609.2 254.9h0" stroke="#8f9486" stroke-width="2.40"/>
<path d="M606 251.3h0M594.3 251.8h0M622.4 253.6h0M613.3 253.9h0M625.2 254.3h0" stroke="#eeefeb" stroke-width="2.69"/>
<path d="M674 251.3h0" stroke="#c1c4b9" stroke-width="2.11"/>
<path d="M619 251.4h0M670.6 252.5h0M676.5 252.5h0M671 252.5h0M620.9 252.9h0M612.5 254.2h0" stroke="#dee0d9" stroke-width="2.69"/>
<path d="M649.2 251.4h0M615.7 252h0M619.8 252.1h0M645.4 252.4h0M687 252.6h0M660.3 252.6h0M635.2 252.7h0M652.1 252.8h0M629.4 252.9h0M605.9 254.1h0" stroke="#dee0d9" stroke-width="2.11"/>
<path d="M596.9 251.4h0M617.5 252.1h0M598 252.3h0M636.6 252.7h0M673.1 252.8h0M611 252.9h0M617.8 253.2h0M637.6 253.2h0M600.5 253.8h0" stroke="#dcdfd7" stroke-width="2.11"/>
<path d="M642.8 251.5h0M657.8 251.7h0M613.6 251.8h0M686.4 252.1h0M649.5 252.5h0M685.2 252.7h0M666.7 252.9h0" stroke="#d3d6cd" stroke-width="2.69"/>
<path d="M654.7 251.6h0M590 252.5h0M664.4 253h0M667.7 253.3h0M615.8 253.7h0M628.8 254h0M669.9 254.3h0" stroke="#d3d6cd" stroke-width="2.11"/>
<path d="M659.6 251.6h0M588.4 252.9h0M670.5 253.9h0M676.8 253.9h0" stroke="#d2d5cc" stroke-width="2.11"/>
<path d="M607.7 251.7h0M631.9 252.2h0M591.5 252.4h0M670.4 252.9h0M685.5 253.5h0M647.8 253.5h0M615 253.6h0" stroke="#eeefeb" stroke-width="2.11"/>
<path d="M609.1 251.7h0M610 252h0M634.6 253.7h0M622.6 254.2h0" stroke="#c6cabe" stroke-width="2.11"/>
<path d="M618.7 251.8h0M613.4 253h0M589.3 253.8h0" stroke="#e6e8e2" stroke-width="2.11"/>
<path d="M664.3 251.8h0M624.2 252.2h0M677.7 252.5h0M646.4 252.9h0M641.1 253.8h0" stroke="#c6cabe" stroke-width="2.69"/>
<path d="M613.1 252h0M607.9 252.1h0M627.1 253.5h0M618 254.1h0" stroke="#e6e8e2" stroke-width="2.69"/>
<path d="M592.6 252h0M598.5 252.6h0" stroke="#e9ebe5" stroke-width="2.11"/>
<path d="M679.4 252.3h0M628.5 254.2h0M676.8 254.2h0" stroke="#b0b4a6" stroke-width="2.11"/>
<path d="M675.5 252.6h0M675.1 254.2h0M652.9 254.2h0" stroke="#b0b4a6" stroke-width="2.69"/>
<path d="M652.8 252.7h0M597.9 252.8h0M630 253.7h0" stroke="#e9ebe5" stroke-width="2.69"/>
<path d="M614 252.9h0M611.8 253.1h0M608.6 254.2h0" stroke="#d2d5cc" stroke-width="2.69"/>
<path d="M682 253.2h0" stroke="#c7cabf" stroke-width="2.69"/>
<path d="M690 253.3h0M663.9 253.5h0M608.8 254.3h0" stroke="#dcdfd7" stroke-width="2.69"/>
<path d="M652.4 254.9h0M635.9 254.9h0M609.1 255h0M647.6 255.1h0M612 255.1h0M657.5 255.2h0M637.4 255.2h0M616.4 255.3h0M603.1 255.3h0M618.3 255.3h0M636.8 255.4h0M640.6 255.4h0M593.9 255.4h0M590.9 255.4h0M664.5 255.4h0M592.4 255.5h0M654.8 255.5h0M647.9 255.5h0M646.4 255.6h0M611.6 255.6h0M622.3 255.6h0M641.8 255.6h0M689.2 255.7h0M690.6 255.7h0M687.6 255.8h0M679 255.8h0M646 255.9h0M616.4 255.9h0M629 255.9h0M679.1 255.9h0M639.5 256h0M630 256.1h0M634.4 256.1h0M621.6 256.1h0M636.3 256.1h0M594 256.2h0M602.6 256.2h0M606.8 256.3h0M601.9 256.3h0M621.1 256.4h0M612.1 256.5h0M658.4 256.5h0M627.1 256.6h0M644.1 256.6h0M640.3 256.6h0M619.5 256.6h0M597.5 256.6h0M609.7 256.7h0M597.5 256.7h0M643.7 256.7h0M618.7 256.9h0M679.1 256.9h0M590.8 256.9h0M622.1 256.9h0M636.4 256.9h0M634.6 257h0M656.3 257.1h0M666.2 257.1h0M616 257.2h0M668.1 257.3h0M681.3 257.3h0M628.2 257.3h0M652.2 257.3h0M598.6 257.3h0M688.9 257.3h0M636.8 257.4h0M635 257.4h0M659.5 257.4h0M636.9 257.4h0M591.1 257.5h0M616.4 257.6h0M679.7 257.7h0M600.3 257.7h0M621.2 257.7h0M592.2 257.7h0M692.1 257.7h0M615.4 257.8h0M619.2 257.8h0M608.6 257.8h0M656 257.9h0M599.4 257.9h0M687.3 257.9h0M601.3 257.9h0M672.1 257.9h0M600.1 258h0M629.2 258h0M616.6 258h0M683.1 258.1h0M677.8 258.1h0M678.5 258.1h0" stroke="#8f9486" stroke-width="2.40"/>
<path d="M652 254.4h0" stroke="#dee0d9" stroke-width="2.69"/>
<path d="M635.4 254.4h0M637 254.6h0M590.4 254.8h0M628.5 255.3h0M621.6 256.4h0M598.1 256.8h0M618.7 257.2h0M616.2 257.5h0" stroke="#d3d6cd" stroke-width="2.69"/>
<path d="M608.6 254.5h0M611.5 254.6h0M602.7 254.7h0M621.9 255.1h0M621.2 255.6h0M635.9 255.6h0M597.1 256.1h0M635.9 256.4h0M599 257.3h0" stroke="#e6e8e2" stroke-width="2.11"/>
<path d="M647.1 254.5h0M591.9 254.9h0M602.1 255.7h0M620.6 255.8h0M680.9 256.7h0M659 256.8h0" stroke="#dee0d9" stroke-width="2.11"/>
<path d="M657.1 254.6h0M636.3 254.8h0M643.7 256h0M634.6 256.8h0M599.9 257.1h0M608.1 257.2h0M686.9 257.4h0M600.9 257.4h0" stroke="#eeefeb" stroke-width="2.11"/>
<path d="M616 254.7h0M690.1 255.2h0M633.9 255.6h0M626.7 256h0M609.2 256.1h0M616 257.1h0" stroke="#d3d6cd" stroke-width="2.11"/>
<path d="M617.8 254.8h0M678.5 255.3h0M593.5 255.6h0M618.3 256.3h0M615.5 256.7h0" stroke="#e9ebe5" stroke-width="2.11"/>
<path d="M640.2 254.8h0M611.2 255.1h0M678.6 255.3h0M601.5 255.8h0M597.1 256.1h0M636.4 256.8h0" stroke="#e9ebe5" stroke-width="2.69"/>
<path d="M593.4 254.8h0M641.3 255.1h0M620.8 257.1h0" stroke="#dcdfd7" stroke-width="2.11"/>
<path d="M664.1 254.9h0M687.1 255.2h0M682.6 257.5h0" stroke="#b0b4a6" stroke-width="2.11"/>
<path d="M654.4 254.9h0M657.9 256h0M679.2 257.1h0M655.6 257.3h0" stroke="#b0b4a6" stroke-width="2.69"/>
<path d="M647.5 255h0M645.9 255h0M590.7 257h0" stroke="#d2d5cc" stroke-width="2.11"/>
<path d="M688.8 255.1h0" stroke="#bbbfb2" stroke-width="2.69"/>
<path d="M645.6 255.3h0M655.8 256.5h0M651.8 256.7h0M628.7 257.5h0" stroke="#c6cabe" stroke-width="2.11"/>
<path d="M616 255.3h0M590.4 256.4h0" stroke="#d2d5cc" stroke-width="2.69"/>
<path d="M639.1 255.4h0M619.1 256h0M634.1 256.5h0M627.8 256.7h0M688.5 256.8h0M636.4 256.9h0M615 257.2h0M671.6 257.4h0M599.6 257.4h0M677.3 257.5h0" stroke="#e6e8e2" stroke-width="2.69"/>
<path d="M629.5 255.5h0M606.3 255.8h0M591.8 257.1h0" stroke="#c6cabe" stroke-width="2.69"/>
<path d="M611.6 256h0M639.8 256h0M678.6 256.4h0" stroke="#eeefeb" stroke-width="2.69"/>
<path d="M643.2 256.2h0" stroke="#c1c4b9" stroke-width="2.11"/>
<path d="M665.8 256.6h0" stroke="#c1c5b9" stroke-width="2.69"/>
<path d="M667.7 256.7h0" stroke="#c1c5b9" stroke-width="2.11"/>
<path d="M691.6 257.2h0" stroke="#cccfc5" stroke-width="2.69"/>
<path d="M678 257.5h0" stroke="#c6c9be" stroke-width="2.11"/>
<path d="M633.2 258.3h0M592.2 258.3h0M597.7 258.3h0M589.1 258.3h0M640 258.3h0M643.5 258.5h0M671.6 258.5h0M607.3 258.5h0M592 258.5h0M653.2 258.5h0M590.7 258.5h0M624.2 258.6h0M632.5 258.6h0M649.9 258.6h0M686.8 258.6h0M633.9 258.6h0M613.3 258.6h0M659.9 258.8h0M590.5 258.8h0M591.1 258.8h0M632.3 258.9h0M600.3 258.9h0M689.3 258.9h0M668.5 258.9h0M671.7 259h0M622.1 259h0M587.8 259h0M658.4 259h0M683.1 259.1h0M655.4 259.1h0M682.3 259.1h0M656.1 259.1h0M684.9 259.1h0M662.4 259.2h0M593.2 259.3h0M635.1 259.3h0M627.1 259.4h0M660.3 259.4h0M646 259.4h0M617.1 259.5h0M675.2 259.6h0M631.2 259.8h0M666.6 259.8h0M623.6 259.8h0M588.9 259.9h0M610.4 259.9h0M609.9 259.9h0M611.4 259.9h0M654 259.9h0M680.5 260h0M651.1 260h0M684.2 260h0M646 260.1h0M643.9 260.2h0M693.1 260.3h0M598.8 260.3h0M630.9 260.3h0M676.1 260.3h0M612.5 260.3h0M649.9 260.4h0M635.4 260.4h0M673.9 260.4h0M590 260.4h0M587.7 260.4h0M651.5 260.5h0M652.2 260.5h0M619.3 260.5h0M654 260.6h0M662.1 260.6h0M602.6 260.7h0M641.2 260.7h0M622.4 260.7h0M647.1 260.7h0M625 260.8h0M621.8 260.8h0M654.8 260.8h0M631.6 260.8h0M604.6 260.8h0M604.4 260.8h0M668.5 260.8h0M631.3 260.9h0M593.2 260.9h0M628.5 261h0M622.3 261h0M659.3 261.1h0M647.7 261.1h0M587 261.1h0M611.5 261.1h0M617.7 261.1h0M680.3 261.2h0" stroke="#8f9486" stroke-width="2.40"/>
<path d="M632.8 257.7h0M591.7 257.7h0M645.5 258.9h0M622 260.2h0M603.9 260.3h0" stroke="#e9ebe5" stroke-width="2.69"/>
<path d="M597.2 257.7h0M631.1 260.2h0M617.2 260.6h0" stroke="#dee0d9" stroke-width="2.11"/>
<path d="M588.6 257.8h0M612.9 258.1h0M661.9 258.7h0M609.5 259.4h0" stroke="#eeefeb" stroke-width="2.11"/>
<path d="M639.6 257.8h0M659.5 258.3h0M623.2 259.2h0M589.6 259.9h0M621.3 260.2h0M658.9 260.5h0" stroke="#d2d5cc" stroke-width="2.69"/>
<path d="M643 257.9h0M652.7 258h0M631.8 258.3h0M659.8 258.9h0M616.6 258.9h0M675.6 259.8h0M653.6 260h0M586.5 260.5h0" stroke="#d3d6cd" stroke-width="2.69"/>
<path d="M671.1 258h0M681.9 258.6h0M680 259.4h0M628 260.5h0" stroke="#b0b4a6" stroke-width="2.11"/>
<path d="M606.9 258h0M650.6 259.4h0M651.7 260h0M661.6 260h0M604.2 260.2h0" stroke="#dee0d9" stroke-width="2.69"/>
<path d="M591.6 258h0M590.2 258h0M590.7 258.3h0M599.9 258.3h0M588.5 259.3h0M610 259.3h0M645.6 259.5h0M611 260.6h0" stroke="#e9ebe5" stroke-width="2.11"/>
<path d="M623.8 258h0M684.4 258.6h0M630.7 259.2h0M612 259.8h0M630.8 260.4h0" stroke="#dcdfd7" stroke-width="2.11"/>
<path d="M632.1 258h0M682.7 258.5h0M655.6 258.6h0M592.8 258.8h0M683.8 259.5h0M598.3 259.7h0M621.9 260.5h0" stroke="#d3d6cd" stroke-width="2.11"/>
<path d="M649.5 258.1h0M634.7 258.8h0M626.7 258.8h0M651 259.9h0" stroke="#e6e8e2" stroke-width="2.69"/>
<path d="M686.3 258.1h0" stroke="#bbbfb2" stroke-width="2.11"/>
<path d="M633.4 258.1h0M668 260.3h0" stroke="#b0b4a6" stroke-width="2.69"/>
<path d="M590 258.3h0M587.2 259.9h0M624.5 260.2h0" stroke="#eeefeb" stroke-width="2.69"/>
<path d="M688.8 258.3h0M668.1 258.4h0M621.7 258.4h0M674.8 259.1h0M646.6 260.2h0M592.8 260.4h0M647.3 260.5h0" stroke="#e6e8e2" stroke-width="2.11"/>
<path d="M671.2 258.4h0" stroke="#cbcec4" stroke-width="2.11"/>
<path d="M587.3 258.4h0M643.5 259.7h0" stroke="#d2d5cc" stroke-width="2.11"/>
<path d="M658 258.5h0M630.4 259.7h0M635 259.9h0" stroke="#dcdfd7" stroke-width="2.69"/>
<path d="M655 258.5h0M666.1 259.2h0M653.6 259.4h0M618.8 260h0" stroke="#c6cabe" stroke-width="2.11"/>
<path d="M610.9 259.4h0M673.4 259.9h0M602.2 260.1h0M640.8 260.2h0" stroke="#c6cabe" stroke-width="2.69"/>
<path d="M692.7 259.7h0" stroke="#c6c9be" stroke-width="2.69"/>
<path d="M649.4 259.8h0" stroke="#c1c4b9" stroke-width="2.69"/>
<path d="M654.4 260.2h0" stroke="#c6c9be" stroke-width="2.11"/>
<path d="M679.8 260.6h0" stroke="#bbbfb2" stroke-width="2.69"/>
<path d="M658.4 261.2h0M633.1 261.2h0M589.4 261.3h0M657.3 261.4h0M606.5 261.4h0M623.8 261.4h0M643 261.4h0M637.7 261.4h0M589.7 261.4h0M672.3 261.4h0M655.9 261.4h0M659.9 261.5h0M643.8 261.6h0M663.2 261.6h0M645.7 261.6h0M639.7 261.6h0M612.7 261.7h0M644.5 261.7h0M607.6 261.7h0M656.6 261.8h0M690.3 261.8h0M678.3 261.9h0M655.2 261.9h0M637.4 261.9h0M651 261.9h0M627.7 262h0M676.1 262h0M668.4 262.1h0M679.1 262.1h0M605.6 262.1h0M603.1 262.2h0M618.7 262.2h0M641.1 262.2h0M591.3 262.2h0M643.8 262.2h0M676 262.2h0M643.2 262.3h0M622.3 262.3h0M678.7 262.3h0M658.4 262.3h0M679.7 262.3h0M682.1 262.4h0M639.6 262.5h0M600.4 262.5h0M614.4 262.5h0M687.4 262.6h0M660.3 262.6h0M620.9 262.6h0M619.8 262.6h0M690.2 262.6h0M667.6 262.7h0M634.4 262.7h0M643.1 262.7h0M654.9 262.8h0M620.3 262.8h0M637.9 262.8h0M585.9 262.9h0M640.7 262.9h0M585.8 262.9h0M614.6 262.9h0M602 263h0M609.2 263h0M623.6 263.1h0M662.4 263.1h0M676.1 263.1h0M681.6 263.1h0M593.7 263.1h0M685.8 263.1h0M632.7 263.2h0M627.3 263.2h0M687.2 263.3h0M606.3 263.3h0M622.3 263.3h0M667.1 263.3h0M631.8 263.4h0M687.9 263.4h0M661.7 263.4h0M665.7 263.5h0M637.5 263.5h0M611.3 263.5h0M660.7 263.5h0M598.2 263.5h0M665.8 263.6h0M664.2 263.6h0M666.5 263.6h0M606.9 263.6h0M677.6 263.7h0M623.2 263.7h0M630 263.7h0M593.8 263.7h0" stroke="#8f9486" stroke-width="2.40"/>
<path d="M657.9 260.7h0" stroke="#c1c4b9" stroke-width="2.11"/>
<path d="M632.6 260.7h0M665.4 263h0" stroke="#c6cabe" stroke-width="2.69"/>
<path d="M589 260.8h0M606 260.8h0M667.9 261.5h0" stroke="#e9ebe5" stroke-width="2.11"/>
<path d="M656.8 260.8h0M659.5 260.9h0M639.3 261.1h0M612.3 261.1h0M658 261.7h0M623.2 262.5h0" stroke="#d3d6cd" stroke-width="2.11"/>
<path d="M623.4 260.8h0M671.9 260.9h0M642.7 261.7h0M599.9 261.9h0M659.8 262h0M640.3 262.4h0M660.3 263h0" stroke="#d2d5cc" stroke-width="2.11"/>
<path d="M642.5 260.8h0" stroke="#c1c5b9" stroke-width="2.11"/>
<path d="M637.2 260.9h0M607.2 261.2h0M656.1 261.3h0M621.8 261.7h0M608.8 262.5h0" stroke="#dee0d9" stroke-width="2.11"/>
<path d="M589.2 260.9h0M681.6 261.9h0M667.1 262.1h0M666.7 262.8h0M637 262.9h0" stroke="#e9ebe5" stroke-width="2.69"/>
<path d="M655.4 260.9h0M605.2 261.6h0M590.9 261.7h0M654.5 262.2h0" stroke="#d2d5cc" stroke-width="2.69"/>
<path d="M643.3 261h0M618.3 261.6h0M642.7 262.2h0M662 262.5h0M681.1 262.5h0M593.2 262.5h0M685.3 262.6h0" stroke="#e6e8e2" stroke-width="2.69"/>
<path d="M662.7 261h0M645.2 261h0M650.5 261.4h0M602.7 261.6h0M640.7 261.6h0M637.4 262.3h0M626.8 262.7h0M597.7 263h0" stroke="#dee0d9" stroke-width="2.69"/>
<path d="M644 261.2h0M621.9 262.8h0" stroke="#dcdfd7" stroke-width="2.11"/>
<path d="M689.9 261.3h0M639.1 261.9h0M614.1 262.4h0" stroke="#eeefeb" stroke-width="2.69"/>
<path d="M677.9 261.3h0M632.3 262.6h0" stroke="#cbcec4" stroke-width="2.11"/>
<path d="M654.8 261.4h0M678.7 261.5h0M679.2 261.8h0M620.5 262.1h0M619.3 262.1h0M619.8 262.3h0M631.3 262.8h0" stroke="#d3d6cd" stroke-width="2.69"/>
<path d="M636.9 261.4h0M585.4 262.3h0M677.1 263.1h0M593.4 263.2h0" stroke="#e6e8e2" stroke-width="2.11"/>
<path d="M627.2 261.4h0M689.8 262.1h0" stroke="#cccfc5" stroke-width="2.11"/>
<path d="M675.7 261.5h0M643.3 261.7h0M687.5 262.9h0M666 263.1h0" stroke="#b0b4a6" stroke-width="2.69"/>
<path d="M675.6 261.7h0M678.2 261.7h0M661.2 262.9h0" stroke="#c7cabf" stroke-width="2.69"/>
<path d="M614 262h0M634 262.1h0M601.6 262.4h0M606.4 263.1h0" stroke="#eeefeb" stroke-width="2.11"/>
<path d="M687 262h0" stroke="#bbbfb2" stroke-width="2.11"/>
<path d="M585.4 262.4h0M605.9 262.8h0M610.8 262.9h0" stroke="#c6cabe" stroke-width="2.11"/>
<path d="M675.7 262.5h0" stroke="#c1c4b9" stroke-width="2.69"/>
<path d="M686.8 262.7h0M663.8 263h0" stroke="#b0b4a6" stroke-width="2.11"/>
<path d="M665.3 262.9h0" stroke="#cfd1c8" stroke-width="2.11"/>
<path d="M622.7 263.1h0M629.5 263.2h0" stroke="#dcdfd7" stroke-width="2.69"/>
<path d="M608.5 263.7h0M617.1 263.8h0M638.4 263.8h0M598.8 263.8h0M590.7 263.8h0M669.3 263.9h0M588.4 263.9h0M592.6 263.9h0M614 263.9h0M640.6 263.9h0M642 264h0M633.7 264h0M684.5 264.1h0M620.7 264.1h0M678.9 264.1h0M629.5 264.1h0M650.3 264.1h0M677.8 264.1h0M655.4 264.2h0M590.1 264.2h0M631 264.3h0M620.5 264.3h0M683.6 264.3h0M646.7 264.3h0M689.3 264.3h0M644.1 264.4h0M587.8 264.4h0M586.6 264.4h0M622.2 264.5h0M614.6 264.5h0M642.1 264.5h0M679.3 264.5h0M620.4 264.6h0M589.5 264.6h0M598.2 264.6h0M605.2 264.6h0M628.5 264.7h0M645.9 264.7h0M680 264.7h0M632.8 264.7h0M629.1 264.8h0M659.5 264.8h0M674.5 264.9h0M626.3 264.9h0M688.5 264.9h0M678.5 264.9h0M665.8 265h0M601.3 265h0M681 265.2h0M632.8 265.2h0M677 265.3h0M643.1 265.3h0M661.1 265.3h0M634 265.4h0M640.9 265.4h0M683.9 265.4h0M619.6 265.4h0M635.4 265.4h0M675.2 265.6h0M640.8 265.6h0M589.8 265.6h0M589.6 265.8h0M653.1 265.8h0M639.7 265.8h0M589.1 265.8h0M632.1 265.8h0M664.2 265.8h0M673.6 265.9h0M606.6 265.9h0M630.9 266h0M669 266h0M614.5 266h0M611.1 266h0M665.2 266h0M626.9 266.1h0M683.7 266.1h0M620.1 266.1h0M613 266.1h0M592.9 266.1h0M645.1 266.1h0M685.2 266.2h0M619.7 266.2h0M595.1 266.2h0M663.9 266.3h0M605.8 266.3h0M648.1 266.4h0M639.8 266.4h0M678.6 266.4h0M644.5 266.4h0M674.9 266.4h0" stroke="#8f9486" stroke-width="2.40"/>
<path d="M608.1 263.2h0M640.1 263.4h0M643.6 263.8h0" stroke="#d3d6cd" stroke-width="2.69"/>
<path d="M616.7 263.2h0M587.4 263.8h0M659.1 264.3h0M674 264.3h0M612.5 265.5h0" stroke="#c6cabe" stroke-width="2.69"/>
<path d="M638 263.2h0M633.2 263.4h0M640.4 265h0M673.1 265.3h0M594.7 265.7h0" stroke="#dcdfd7" stroke-width="2.11"/>
<path d="M598.3 263.3h0M655 263.6h0M683.4 264.9h0M619.1 264.9h0" stroke="#e9ebe5" stroke-width="2.69"/>
<path d="M590.3 263.3h0M639.3 265.3h0M588.6 265.3h0M663.4 265.7h0" stroke="#eeefeb" stroke-width="2.69"/>
<path d="M668.9 263.3h0M629.1 263.6h0M630.5 263.7h0M678 264.4h0M589.2 265.2h0M630.5 265.4h0M592.4 265.6h0" stroke="#d2d5cc" stroke-width="2.11"/>
<path d="M588 263.3h0M684.1 263.5h0M668.6 265.4h0" stroke="#e6e8e2" stroke-width="2.11"/>
<path d="M592.1 263.3h0M677.3 263.6h0M586.1 263.8h0M641.7 264h0" stroke="#d3d6cd" stroke-width="2.11"/>
<path d="M613.6 263.4h0M676.5 264.7h0M640.4 264.9h0M619.7 265.5h0" stroke="#eeefeb" stroke-width="2.11"/>
<path d="M641.6 263.4h0M620.3 263.5h0M620.1 263.7h0M678.8 264h0M645.4 264.1h0M633.6 264.8h0" stroke="#e9ebe5" stroke-width="2.11"/>
<path d="M678.5 263.5h0" stroke="#c7cabf" stroke-width="2.69"/>
<path d="M649.9 263.6h0M621.7 263.9h0M628.7 264.2h0M660.6 264.8h0M610.6 265.5h0M644 265.9h0" stroke="#dcdfd7" stroke-width="2.69"/>
<path d="M589.7 263.6h0M614.1 264h0M597.7 264.1h0M600.8 264.5h0M642.6 264.7h0M664.8 265.5h0" stroke="#e6e8e2" stroke-width="2.69"/>
<path d="M683.2 263.8h0M678.1 265.8h0" stroke="#c1c4b9" stroke-width="2.69"/>
<path d="M646.3 263.8h0M688.9 263.8h0M688 264.4h0M674.7 265h0M663.7 265.3h0" stroke="#b0b4a6" stroke-width="2.11"/>
<path d="M619.9 264h0M604.7 264.1h0M589.4 265.1h0M626.5 265.5h0M605.4 265.8h0" stroke="#d2d5cc" stroke-width="2.69"/>
<path d="M589.1 264.1h0M632.3 264.2h0M625.9 264.3h0M652.7 265.3h0M614 265.5h0M639.3 265.8h0" stroke="#dee0d9" stroke-width="2.69"/>
<path d="M628.1 264.1h0M635 264.9h0M606.1 265.4h0M644.7 265.6h0M674.4 265.9h0" stroke="#dee0d9" stroke-width="2.11"/>
<path d="M679.5 264.1h0" stroke="#c1c5b9" stroke-width="2.69"/>
<path d="M665.3 264.4h0M632.4 264.6h0M631.6 265.3h0M619.3 265.7h0M647.7 265.8h0" stroke="#c6cabe" stroke-width="2.11"/>
<path d="M680.5 264.6h0M683.2 265.5h0" stroke="#b0b4a6" stroke-width="2.69"/>
<path d="M684.8 265.7h0" stroke="#cbcec4" stroke-width="2.11"/>
<path d="M600.7 266.5h0M612.4 266.6h0M650.1 266.6h0M689.1 266.6h0M628.5 266.6h0M685.8 266.6h0M621.4 266.7h0M640.6 266.7h0M670.7 266.7h0M642.7 266.7h0M603.8 266.8h0M623.2 266.8h0M602.6 266.9h0M664.3 266.9h0M591.7 266.9h0M687.8 266.9h0M602.2 266.9h0M591.7 267h0M612.3 267h0M591.9 267h0M643.5 267h0M608.3 267h0M649.6 267.2h0M656.4 267.2h0M605.7 267.3h0M593.6 267.3h0M653.7 267.3h0M665.3 267.4h0M592.6 267.4h0M590 267.5h0M632.5 267.5h0M665.7 267.5h0M667.9 267.6h0M673.5 267.6h0M643.8 267.6h0M686.7 267.6h0M644.3 267.6h0M625.9 267.6h0M587.6 267.6h0M626 267.6h0M629.8 267.7h0M627.5 267.8h0M661.9 267.8h0M685.7 267.8h0M607.4 267.8h0M621.8 267.8h0M633.9 267.8h0M590.1 267.8h0M653.5 267.9h0M626.5 267.9h0M673.6 267.9h0M644.3 267.9h0M637.1 267.9h0M632 268h0M593.7 268h0M625.5 268.2h0M652.2 268.3h0M664.1 268.3h0M630.8 268.3h0M673.2 268.3h0M654.5 268.4h0M673.3 268.4h0M665.1 268.5h0M609 268.5h0M678.6 268.5h0M605.2 268.5h0M682.9 268.5h0M626.9 268.6h0M624.3 268.6h0M686.1 268.6h0M615.5 268.7h0M617.9 268.7h0M590 268.7h0M682.3 268.8h0M655.3 268.8h0M656.3 268.8h0M678.5 268.8h0M652.9 268.9h0M610 268.9h0M606.7 269h0M658.4 269h0M674 269h0M605.6 269h0M610.6 269h0M659.3 269h0M629.1 269.1h0M643.7 269.1h0M677.8 269.2h0M588.5 269.2h0M635.4 269.3h0" stroke="#8f9486" stroke-width="2.40"/>
<path d="M600.3 266h0M620.9 266.1h0M625.5 267.1h0M608.6 267.9h0M682.4 268h0M609.5 268.4h0M605.1 268.5h0" stroke="#c6cabe" stroke-width="2.11"/>
<path d="M612 266h0M687.4 266.4h0M591.2 266.4h0M664.9 266.8h0M685.7 268.1h0M615.1 268.1h0M678.1 268.3h0" stroke="#dee0d9" stroke-width="2.69"/>
<path d="M649.6 266h0M656 266.6h0M633.5 267.3h0M625 267.7h0M604.8 267.9h0" stroke="#e6e8e2" stroke-width="2.69"/>
<path d="M688.7 266h0M607.9 266.5h0M630.3 267.7h0M623.9 268h0" stroke="#dee0d9" stroke-width="2.11"/>
<path d="M628.1 266.1h0M602.2 266.3h0M643.3 267h0M643.8 267h0M587.2 267.1h0M606.9 267.3h0M653.1 267.3h0" stroke="#d3d6cd" stroke-width="2.11"/>
<path d="M685.3 266.1h0M649.1 266.6h0M686.2 267h0M631.5 267.4h0M672.9 267.9h0M655.9 268.3h0M658.9 268.5h0M677.4 268.6h0" stroke="#b0b4a6" stroke-width="2.69"/>
<path d="M640.2 266.1h0M591.5 266.4h0M643.1 266.5h0M589.6 266.9h0M589.7 267.3h0M654.1 267.9h0" stroke="#c6cabe" stroke-width="2.69"/>
<path d="M670.2 266.1h0M591.2 266.3h0M665.2 267h0M626 267.3h0M673.1 267.4h0M651.7 267.7h0M672.7 267.8h0M589.6 268.2h0M628.6 268.5h0" stroke="#dcdfd7" stroke-width="2.69"/>
<path d="M642.3 266.2h0M601.8 266.4h0M593.2 267.5h0" stroke="#e6e8e2" stroke-width="2.11"/>
<path d="M603.4 266.2h0M625.5 267h0" stroke="#d3d6cd" stroke-width="2.69"/>
<path d="M622.8 266.3h0M673 267h0M610.1 268.5h0M588 268.6h0M634.9 268.7h0" stroke="#d2d5cc" stroke-width="2.69"/>
<path d="M663.9 266.3h0M611.9 266.4h0M678.2 267.9h0" stroke="#e9ebe5" stroke-width="2.11"/>
<path d="M605.3 266.7h0M593.1 266.7h0M592.2 266.9h0M664.6 267.9h0M617.5 268.1h0" stroke="#eeefeb" stroke-width="2.11"/>
<path d="M653.3 266.8h0M652.4 268.3h0M643.3 268.5h0" stroke="#dcdfd7" stroke-width="2.11"/>
<path d="M632.1 267h0M667.5 267h0M626.5 268h0" stroke="#d2d5cc" stroke-width="2.11"/>
<path d="M629.4 267.1h0" stroke="#c6c9be" stroke-width="2.69"/>
<path d="M627 267.2h0" stroke="#eeefeb" stroke-width="2.69"/>
<path d="M661.4 267.2h0M621.4 267.3h0M654.9 268.2h0" stroke="#bbbfb2" stroke-width="2.69"/>
<path d="M685.3 267.2h0M636.7 267.4h0M657.9 268.4h0" stroke="#b0b4a6" stroke-width="2.11"/>
<path d="M643.8 267.4h0" stroke="#cccfc5" stroke-width="2.11"/>
<path d="M663.6 267.7h0" stroke="#cccfc5" stroke-width="2.69"/>
<path d="M681.8 268.2h0" stroke="#cfd1c8" stroke-width="2.69"/>
<path d="M606.2 268.4h0" stroke="#e9ebe5" stroke-width="2.69"/>
<path d="M673.5 268.5h0" stroke="#c1c4b9" stroke-width="2.69"/>
<path d="M635.8 269.3h0M655.6 269.3h0M672.4 269.4h0M661.9 269.5h0M659.1 269.5h0M596.1 269.5h0M626.8 269.6h0M687 269.6h0M656.8 269.7h0M687.2 269.7h0M685.5 269.7h0M589.8 269.7h0M625 269.8h0M676.2 269.8h0M650.7 269.8h0M622.4 269.8h0M631.1 269.8h0M609.4 269.9h0M674.6 269.9h0M646.9 270h0M664.3 270h0M668.7 270h0M601.8 270.1h0M607 270.2h0M626.7 270.2h0M667.3 270.2h0M677.3 270.2h0M592.2 270.2h0M651.7 270.2h0M642.4 270.3h0M638.9 270.3h0M682.2 270.4h0M675.8 270.5h0M654.1 270.5h0M598.4 270.6h0M638.7 270.6h0M610.3 270.6h0M669.4 270.6h0M670.3 270.6h0M635.2 270.7h0M616.3 270.8h0M633.6 270.8h0M588.5 270.9h0M635.9 271h0M604.6 271h0M627.2 271h0M665.6 271h0M641.2 271h0M607 271h0M631.1 271h0M637.2 271.1h0M645 271.1h0M615.9 271.1h0M643.5 271.1h0M591.4 271.1h0M615.5 271.3h0M656.1 271.3h0M686.9 271.4h0M682 271.4h0M594.6 271.4h0M646 271.4h0M666.8 271.4h0M615.5 271.6h0M667.1 271.6h0M628.6 271.6h0M675.6 271.6h0M647.2 271.6h0M626.8 271.6h0M661.3 271.6h0M601.5 271.6h0M646.3 271.7h0M601.4 271.7h0M674.4 271.7h0M668.9 271.8h0M613.9 271.8h0M659.6 271.9h0M639.8 271.9h0M629.7 272h0M677.6 272h0M643.9 272h0M657.2 272h0M640.1 272h0M647.7 272h0M630 272.1h0M660.9 272.2h0M650 272.2h0M590.5 272.2h0M606.8 272.3h0M667.7 272.4h0M654.5 272.4h0" stroke="#8f9486" stroke-width="2.40"/>
<path d="M635.4 268.7h0" stroke="#cfd1c8" stroke-width="2.69"/>
<path d="M655.1 268.8h0M630.6 270.5h0" stroke="#c6c9be" stroke-width="2.69"/>
<path d="M671.9 268.9h0M674.1 269.4h0M663.9 269.4h0M633.1 270.3h0M591 270.6h0M613.4 271.3h0" stroke="#e9ebe5" stroke-width="2.11"/>
<path d="M661.4 268.9h0M624.6 269.2h0M675.3 269.9h0M588 270.4h0M615.4 270.6h0M668.5 271.2h0M677.2 271.4h0" stroke="#d2d5cc" stroke-width="2.69"/>
<path d="M658.7 268.9h0M675.7 269.2h0M668.3 269.5h0M666.8 269.6h0M653.7 270h0M634.7 270.1h0M666.3 270.9h0M645.9 271.1h0M660.5 271.6h0" stroke="#b0b4a6" stroke-width="2.69"/>
<path d="M595.6 269h0M636.8 270.5h0" stroke="#c6cabe" stroke-width="2.11"/>
<path d="M626.3 269.1h0M589.4 269.2h0M650.2 269.2h0M646.5 269.4h0M597.9 270h0M638.3 270h0M643.4 271.4h0M649.6 271.7h0" stroke="#d3d6cd" stroke-width="2.69"/>
<path d="M686.5 269.1h0M606.6 269.6h0" stroke="#e6e8e2" stroke-width="2.11"/>
<path d="M656.4 269.1h0M626.8 270.5h0M628.1 271h0M646.7 271h0M660.8 271.1h0M606.4 271.7h0" stroke="#e9ebe5" stroke-width="2.69"/>
<path d="M686.8 269.1h0M669 270.1h0M669.9 270.1h0M615.9 270.2h0M606.6 270.5h0M615 271h0M629.2 271.4h0M656.8 271.4h0" stroke="#d2d5cc" stroke-width="2.11"/>
<path d="M685 269.1h0M681.8 269.9h0M640.7 270.5h0M666.7 271h0M675.2 271h0M647.3 271.5h0" stroke="#b0b4a6" stroke-width="2.11"/>
<path d="M621.9 269.3h0M609 269.3h0M601.4 269.6h0M591.7 269.7h0M609.9 270h0M600.9 271.1h0" stroke="#dee0d9" stroke-width="2.11"/>
<path d="M630.7 269.3h0M651.3 269.7h0M635.5 270.4h0M615 270.7h0M594.2 270.8h0M673.9 271.2h0M659.2 271.4h0" stroke="#dcdfd7" stroke-width="2.69"/>
<path d="M626.2 269.6h0M604.2 270.5h0M655.6 270.8h0M681.5 270.8h0" stroke="#c6cabe" stroke-width="2.69"/>
<path d="M676.9 269.7h0M639.6 271.4h0M667.2 271.8h0" stroke="#c6c9be" stroke-width="2.11"/>
<path d="M642 269.7h0M644.6 270.5h0" stroke="#dee0d9" stroke-width="2.69"/>
<path d="M638.4 269.8h0M639.3 271.4h0" stroke="#dcdfd7" stroke-width="2.11"/>
<path d="M665.1 270.5h0" stroke="#c1c5b9" stroke-width="2.69"/>
<path d="M643.1 270.6h0M645.5 270.9h0M590.1 271.7h0" stroke="#d3d6cd" stroke-width="2.11"/>
<path d="M686.5 270.8h0M629.6 271.5h0" stroke="#e6e8e2" stroke-width="2.69"/>
<path d="M626.3 271.1h0M654 271.9h0" stroke="#eeefeb" stroke-width="2.69"/>
<path d="M601 271.1h0" stroke="#eeefeb" stroke-width="2.11"/>
<path d="M649.3 272.5h0M628.3 272.5h0M658.9 272.5h0M614.2 272.5h0M607.7 272.6h0M664.2 272.6h0M686.3 272.6h0M611.1 272.8h0M612.5 272.8h0M592.4 272.9h0M600.6 273h0M680.9 273h0M679.1 273h0M637.3 273h0M597.9 273h0M681.5 273h0M645.6 273.1h0M663 273.1h0M625.9 273.1h0M607.5 273.1h0M667.1 273.1h0M682.8 273.2h0M619.4 273.2h0M673.7 273.4h0M683.9 273.4h0M643.3 273.5h0M651 273.5h0M606.8 273.5h0M595.2 273.5h0M592.3 273.5h0M683.3 273.5h0M661.2 273.6h0M678.1 273.6h0M644.9 273.6h0M638.2 273.7h0M605.3 273.7h0M650.7 273.7h0M653.2 273.7h0M599.5 273.8h0M610 273.8h0M644.1 273.8h0M667.7 273.8h0M674.2 273.9h0M611.9 273.9h0M659.8 273.9h0M604.6 273.9h0M643.4 273.9h0M678.5 273.9h0M637.7 274h0M672 274h0M672.4 274h0M624.9 274h0M681 274.1h0M623.2 274.2h0M649.7 274.2h0M639.4 274.2h0M655 274.3h0M660.1 274.3h0M598.7 274.3h0M644.9 274.3h0M595.9 274.3h0M639.7 274.4h0M645.8 274.4h0M680.1 274.4h0M640.7 274.4h0M635.3 274.4h0M636.1 274.4h0M633.8 274.5h0M594.7 274.6h0M658.8 274.6h0M677.6 274.7h0M663.3 274.7h0M654.3 274.7h0M606.2 274.8h0M636.8 274.8h0M636.1 274.8h0M645.7 274.8h0M625.6 274.9h0M631.1 274.9h0M648.8 275h0M631.5 275h0M620.7 275h0M599.6 275.1h0M610.2 275.1h0M660.9 275.2h0M669.6 275.2h0M604.2 275.2h0M597.2 275.2h0M598.5 275.3h0M654.4 275.3h0" stroke="#8f9486" stroke-width="2.40"/>
<path d="M648.8 271.9h0M600.1 272.4h0M609.7 274.6h0" stroke="#e9ebe5" stroke-width="2.11"/>
<path d="M627.9 271.9h0M682.4 272.6h0M618.9 272.6h0M594.8 272.9h0M662.9 274.2h0M605.7 274.2h0" stroke="#e6e8e2" stroke-width="2.11"/>
<path d="M658.4 272h0M597.4 272.5h0M642.9 272.9h0M604.9 273.1h0M679.7 273.9h0" stroke="#dee0d9" stroke-width="2.11"/>
<path d="M613.8 272h0M663.8 272.1h0" stroke="#e6e8e2" stroke-width="2.69"/>
<path d="M607.3 272.1h0M681 272.5h0M611.4 273.3h0M637.3 273.4h0M639 273.7h0M659.6 273.7h0M634.8 273.9h0M653.9 274.2h0M620.2 274.5h0M599.1 274.5h0" stroke="#c6cabe" stroke-width="2.69"/>
<path d="M685.8 272.1h0" stroke="#c1c4b9" stroke-width="2.69"/>
<path d="M610.7 272.2h0M599.1 273.2h0M642.9 273.4h0M645.2 274.3h0" stroke="#dcdfd7" stroke-width="2.11"/>
<path d="M612.1 272.3h0M650.5 272.9h0M644.5 273.8h0" stroke="#d3d6cd" stroke-width="2.11"/>
<path d="M592 272.4h0M591.8 273h0M622.8 273.6h0M596.8 274.7h0" stroke="#dcdfd7" stroke-width="2.69"/>
<path d="M680.4 272.4h0M678.7 272.4h0M644.5 273.1h0M667.3 273.3h0M673.8 273.3h0" stroke="#b0b4a6" stroke-width="2.69"/>
<path d="M636.9 272.4h0M606.3 272.9h0M595.4 273.8h0M636.4 274.2h0" stroke="#eeefeb" stroke-width="2.69"/>
<path d="M645.2 272.5h0M673.2 272.8h0M650.2 273.2h0M645.3 273.8h0M640.3 273.9h0M625.1 274.4h0M630.7 274.4h0" stroke="#dee0d9" stroke-width="2.69"/>
<path d="M662.6 272.5h0M607 272.5h0M660.7 273h0M660.5 274.6h0" stroke="#eeefeb" stroke-width="2.11"/>
<path d="M625.5 272.5h0M652.7 273.2h0M609.6 273.3h0M604.2 273.4h0M598.2 273.8h0M631.1 274.4h0" stroke="#c6cabe" stroke-width="2.11"/>
<path d="M666.6 272.6h0M659.3 273.4h0M672 273.5h0" stroke="#b0b4a6" stroke-width="2.11"/>
<path d="M683.4 272.9h0" stroke="#c6c9be" stroke-width="2.69"/>
<path d="M682.9 273h0M639.3 273.8h0" stroke="#bbbfb2" stroke-width="2.69"/>
<path d="M677.6 273.1h0" stroke="#cfd1c8" stroke-width="2.11"/>
<path d="M637.8 273.1h0M624.5 273.5h0M633.3 273.9h0M594.2 274h0M669.2 274.6h0M603.7 274.7h0" stroke="#d2d5cc" stroke-width="2.11"/>
<path d="M643.6 273.3h0M635.7 274.2h0" stroke="#d2d5cc" stroke-width="2.69"/>
<path d="M678.1 273.4h0M635.6 273.9h0M648.3 274.4h0" stroke="#e9ebe5" stroke-width="2.69"/>
<path d="M671.5 273.5h0" stroke="#bbbfb2" stroke-width="2.11"/>
<path d="M680.5 273.5h0M649.3 273.6h0M598 274.7h0M653.9 274.8h0" stroke="#d3d6cd" stroke-width="2.69"/>
<path d="M654.5 273.7h0" stroke="#c6c9be" stroke-width="2.11"/>
<path d="M658.4 274.1h0" stroke="#cccfc5" stroke-width="2.69"/>
<path d="M677.2 274.2h0" stroke="#cbcec4" stroke-width="2.69"/>
<path d="M676.2 275.3h0M646.7 275.4h0M613.4 275.4h0M595.9 275.6h0M612.5 275.6h0M679.8 275.6h0M605 275.6h0M681.5 275.7h0M642 275.8h0M604.5 275.8h0M658.2 275.8h0M672.9 275.9h0M619.6 275.9h0M614.1 275.9h0M594.9 275.9h0M641.7 275.9h0M647.9 276h0M678 276h0M653.8 276h0M679.1 276h0M650.9 276h0M668.7 276.1h0M648.8 276.1h0M664.3 276.1h0M615.6 276.1h0M669.2 276.1h0M631.8 276.2h0M640.5 276.3h0M598.6 276.3h0M611.5 276.3h0M657.6 276.4h0M614.4 276.4h0M648.3 276.4h0M658.4 276.4h0M658.8 276.5h0M619.7 276.5h0M668.3 276.5h0M648.9 276.5h0M680.1 276.6h0M623 276.7h0M678.2 276.7h0M675.1 276.7h0M598 276.7h0M603.3 276.7h0M662.3 276.7h0M625.1 276.8h0M620.8 276.8h0M647.9 276.9h0M646 276.9h0M616 276.9h0M619.9 276.9h0M652 276.9h0M627.7 276.9h0M674.9 277h0M677.6 277h0M596.1 277h0M652.9 277h0M613.7 277.1h0M620.8 277.1h0M598.9 277.1h0M652.3 277.1h0M660.2 277.2h0M636.9 277.3h0M638.4 277.3h0M643.7 277.3h0M637.2 277.4h0M608 277.4h0M607.9 277.4h0M616.2 277.4h0M624.6 277.5h0M631.9 277.7h0M637.5 277.8h0M659.7 277.8h0M644.2 277.8h0M611.3 277.8h0M664.2 277.8h0M607.9 277.9h0M637.9 277.9h0M611.3 277.9h0M641.2 277.9h0M651.5 278h0M634.2 278h0M642.4 278h0M652.7 278h0M601.8 278.1h0M601.2 278.1h0M614.4 278.1h0M657.2 278.2h0M599.6 278.2h0M602.4 278.2h0" stroke="#8f9486" stroke-width="2.40"/>
<path d="M675.8 274.8h0M652.4 276.5h0" stroke="#cbcec4" stroke-width="2.11"/>
<path d="M646.2 274.8h0M594.5 275.4h0M641.2 275.4h0M624.2 277h0M663.7 277.3h0M601.3 277.5h0" stroke="#dcdfd7" stroke-width="2.69"/>
<path d="M613 274.8h0M657.7 275.3h0M650.4 275.5h0M658.4 275.9h0M636.4 276.7h0M636.8 276.8h0M607.5 277.3h0" stroke="#b0b4a6" stroke-width="2.69"/>
<path d="M595.4 275h0M604.1 275.2h0M602.9 276.2h0M620.4 276.5h0" stroke="#e6e8e2" stroke-width="2.11"/>
<path d="M612 275h0M604.5 275.1h0M653.3 275.5h0M615.1 275.6h0M679.7 276h0M674.6 276.2h0M597.5 276.2h0M633.7 277.4h0" stroke="#d3d6cd" stroke-width="2.11"/>
<path d="M679.4 275.1h0M681 275.2h0M613.3 276.5h0M643.8 277.2h0M651 277.4h0" stroke="#dee0d9" stroke-width="2.11"/>
<path d="M641.5 275.2h0M631.4 275.6h0M611.1 275.8h0M674.5 276.4h0M637.5 277.3h0" stroke="#d2d5cc" stroke-width="2.11"/>
<path d="M672.5 275.3h0M640.1 275.7h0M648.5 276h0M677.7 276.1h0M615.5 276.3h0M637.9 276.8h0M656.8 277.6h0M602 277.6h0" stroke="#c6cabe" stroke-width="2.69"/>
<path d="M619.1 275.3h0M647.4 275.4h0M651.6 276.4h0M613.9 277.6h0" stroke="#e9ebe5" stroke-width="2.69"/>
<path d="M613.6 275.4h0M648.4 275.5h0M668.8 275.6h0M651.9 276.6h0M659.2 277.2h0" stroke="#eeefeb" stroke-width="2.11"/>
<path d="M677.6 275.5h0M627.3 276.4h0M600.7 277.6h0" stroke="#d3d6cd" stroke-width="2.69"/>
<path d="M678.7 275.5h0M620.4 276.3h0" stroke="#e9ebe5" stroke-width="2.11"/>
<path d="M668.2 275.5h0" stroke="#cccfc5" stroke-width="2.11"/>
<path d="M663.8 275.6h0M643.2 276.8h0" stroke="#c1c4b9" stroke-width="2.69"/>
<path d="M598.1 275.7h0M637.1 277.2h0" stroke="#c6cabe" stroke-width="2.11"/>
<path d="M657.1 275.8h0M659.7 276.6h0" stroke="#cccfc5" stroke-width="2.69"/>
<path d="M614 275.8h0M607.5 276.9h0M615.7 276.9h0M610.8 277.3h0M641.9 277.5h0" stroke="#dcdfd7" stroke-width="2.11"/>
<path d="M647.9 275.9h0" stroke="#cfd1c8" stroke-width="2.11"/>
<path d="M658 275.9h0M619.3 276h0M622.6 276.1h0M640.7 277.4h0" stroke="#b0b4a6" stroke-width="2.11"/>
<path d="M667.9 276h0M647.4 276.3h0" stroke="#cfd1c8" stroke-width="2.69"/>
<path d="M661.9 276.2h0M595.7 276.5h0M599.1 277.6h0" stroke="#dee0d9" stroke-width="2.69"/>
<path d="M624.7 276.3h0" stroke="#eeefeb" stroke-width="2.69"/>
<path d="M645.5 276.3h0" stroke="#c1c5b9" stroke-width="2.69"/>
<path d="M619.4 276.4h0M598.5 276.6h0M607.5 276.8h0" stroke="#e6e8e2" stroke-width="2.69"/>
<path d="M677.1 276.5h0M631.4 277.1h0" stroke="#d2d5cc" stroke-width="2.69"/>
<path d="M610.9 277.3h0" stroke="#c1c4b9" stroke-width="2.11"/>
<path d="M652.2 277.5h0" stroke="#c7cabf" stroke-width="2.69"/>
<path d="M655.9 278.2h0M597 278.3h0M636.9 278.3h0M603.6 278.3h0M604.1 278.3h0M608.4 278.3h0M623.1 278.4h0M625.1 278.4h0M663.3 278.4h0M680.1 278.4h0M657.7 278.5h0M619.3 278.5h0M600 278.6h0M625.2 278.7h0M661.6 278.7h0M669.9 278.8h0M635 278.8h0M607.3 278.8h0M627.8 278.9h0M649.6 278.9h0M605.7 278.9h0M607.2 279h0M614.4 279h0M677.4 279.1h0M600.7 279.1h0M603.7 279.2h0M600.3 279.2h0M675.1 279.2h0M600.5 279.2h0M675.5 279.3h0M618.3 279.3h0M663.2 279.3h0M598.1 279.3h0M623.3 279.4h0M629.4 279.4h0M649.2 279.4h0M618.7 279.5h0M606.6 279.5h0M678.8 279.6h0M655.3 279.7h0M649.1 279.7h0M618.3 279.7h0M635.1 279.8h0M645.9 279.9h0M627 279.9h0M643.4 279.9h0M624.6 279.9h0M676.2 280h0M607.2 280h0M652.4 280.1h0M673 280.1h0M652.8 280.1h0M604.9 280.1h0M676.1 280.1h0M609.7 280.2h0M624.6 280.2h0M621.7 280.2h0M618.2 280.2h0M635.1 280.2h0M664.2 280.2h0M642.4 280.3h0M614.6 280.3h0M653.1 280.3h0M639.2 280.3h0M666.2 280.3h0M613.2 280.3h0M618.7 280.5h0M627.5 280.5h0M610.7 280.6h0M651.6 280.7h0M649.8 280.7h0M626.8 280.8h0M624.9 280.8h0M632 280.8h0M598.7 280.9h0M600.1 280.9h0M664.2 280.9h0M619.3 281.1h0M670.8 281.1h0M655.9 281.2h0M643.3 281.3h0M663.9 281.3h0M662.9 281.4h0M644.1 281.4h0M616.3 281.4h0M642.7 281.5h0M630.8 281.5h0M600 281.5h0M623 281.5h0M663 281.6h0" stroke="#8f9486" stroke-width="2.40"/>
<path d="M655.4 277.7h0M596.6 277.7h0M617.9 278.7h0M645.5 279.4h0M618.2 280h0" stroke="#dee0d9" stroke-width="2.69"/>
<path d="M636.5 277.7h0M624.4 280.2h0" stroke="#dcdfd7" stroke-width="2.69"/>
<path d="M603.1 277.8h0M613.9 278.5h0M604.4 279.6h0M638.8 279.8h0M662.6 281.1h0" stroke="#c6cabe" stroke-width="2.69"/>
<path d="M603.7 277.8h0M676.9 278.5h0M654.8 279.1h0M642.8 280.7h0" stroke="#dcdfd7" stroke-width="2.11"/>
<path d="M607.9 277.8h0M628.9 278.8h0M606.1 279h0M675.7 279.6h0M614.1 279.8h0M670.4 280.6h0" stroke="#e9ebe5" stroke-width="2.69"/>
<path d="M622.6 277.8h0M606.7 278.4h0M675.1 278.7h0M651.9 279.5h0M618.9 280.6h0M599.6 281h0" stroke="#c6cabe" stroke-width="2.11"/>
<path d="M624.6 277.8h0M599.5 278h0M661.1 278.2h0M605.2 278.3h0M674.7 278.7h0" stroke="#d2d5cc" stroke-width="2.69"/>
<path d="M662.9 277.8h0M621.2 279.6h0M627 280h0M649.4 280.2h0M599.7 280.4h0M622.5 281h0" stroke="#eeefeb" stroke-width="2.11"/>
<path d="M679.6 277.9h0M599.9 278.6h0M651.2 280.1h0M662.4 280.8h0" stroke="#d3d6cd" stroke-width="2.11"/>
<path d="M657.2 278h0" stroke="#cbcec4" stroke-width="2.69"/>
<path d="M618.8 278h0M648.7 278.9h0M648.6 279.2h0M615.9 280.9h0" stroke="#e9ebe5" stroke-width="2.11"/>
<path d="M624.8 278.2h0M649.1 278.3h0M600.3 278.5h0M603.2 278.6h0M624.1 279.4h0" stroke="#dee0d9" stroke-width="2.11"/>
<path d="M669.4 278.2h0" stroke="#c1c4b9" stroke-width="2.11"/>
<path d="M634.6 278.2h0" stroke="#c1c5b9" stroke-width="2.69"/>
<path d="M606.9 278.3h0M627.4 278.3h0M610.3 280.1h0" stroke="#e6e8e2" stroke-width="2.11"/>
<path d="M600.1 278.7h0M617.7 279.7h0M630.4 280.9h0" stroke="#d3d6cd" stroke-width="2.69"/>
<path d="M662.7 278.8h0M631.5 280.2h0" stroke="#cbcec4" stroke-width="2.11"/>
<path d="M597.7 278.8h0M617.9 279.2h0M634.6 279.2h0M606.7 279.5h0M609.3 279.6h0M612.8 279.8h0" stroke="#eeefeb" stroke-width="2.69"/>
<path d="M622.9 278.8h0" stroke="#c6c9be" stroke-width="2.69"/>
<path d="M618.2 278.9h0M678.4 279h0M626.5 279.4h0M675.7 279.5h0M672.6 279.5h0M663.8 279.7h0M663.7 280.4h0M655.4 280.7h0" stroke="#b0b4a6" stroke-width="2.11"/>
<path d="M642.9 279.4h0M652.6 279.8h0" stroke="#cfd1c8" stroke-width="2.11"/>
<path d="M652.3 279.5h0" stroke="#c6c9be" stroke-width="2.11"/>
<path d="M624.1 279.6h0M626.3 280.2h0M598.3 280.3h0M663.5 280.8h0" stroke="#e6e8e2" stroke-width="2.69"/>
<path d="M634.6 279.7h0" stroke="#d2d5cc" stroke-width="2.11"/>
<path d="M641.9 279.7h0" stroke="#cccfc5" stroke-width="2.11"/>
<path d="M665.8 279.8h0" stroke="#cccfc5" stroke-width="2.69"/>
<path d="M643.7 280.9h0M642.2 280.9h0" stroke="#b0b4a6" stroke-width="2.69"/>
<path d="M659.4 281.7h0M617.1 281.8h0M665.4 281.8h0M606.7 281.9h0M639.9 282h0M648.2 282h0M636.7 282h0M647.8 282h0M669.1 282h0M659 282.1h0M604.3 282.1h0M672.9 282.1h0M599.7 282.2h0M632.3 282.2h0M621.7 282.2h0M665.4 282.3h0M639.6 282.3h0M628.5 282.3h0M605.7 282.3h0M631.5 282.3h0M667.9 282.4h0M674 282.4h0M625.9 282.5h0M632.5 282.5h0M614.8 282.5h0M605.9 282.5h0M607 282.6h0M627.2 282.6h0M671.1 282.6h0M603.7 282.7h0M650.8 282.7h0M666.6 282.7h0M601.9 282.8h0M632.9 282.8h0M639.9 282.8h0M643.9 282.9h0M649.9 283h0M665.2 283h0M602 283h0M636.7 283h0M612.1 283.2h0M656.7 283.2h0M672.5 283.2h0M670 283.3h0M604.4 283.3h0M632 283.4h0M661.3 283.4h0M667.7 283.4h0M630.8 283.4h0M626.1 283.4h0M634 283.5h0M668 283.5h0M607.8 283.6h0M652 283.7h0M623.9 283.7h0M627.3 283.8h0M652.2 283.9h0M655.1 283.9h0M660.5 283.9h0M647.3 283.9h0M650.2 284h0M634.8 284h0M613.7 284h0M653.4 284h0M629.5 284.1h0M651.6 284.2h0M619.1 284.2h0M602.6 284.3h0M610.6 284.3h0M624.1 284.4h0M638.8 284.4h0M659.6 284.4h0M610.5 284.4h0M623.7 284.5h0M609 284.5h0M668.1 284.6h0M635 284.7h0M616.4 284.7h0M634.7 284.9h0M667.3 285h0M665.1 285h0M665.7 285.1h0M610.6 285.1h0M612.5 285.1h0M622.1 285.3h0M611.7 285.4h0M639.7 285.5h0M627 285.5h0M650.4 285.5h0M626 285.6h0" stroke="#8f9486" stroke-width="2.40"/>
<path d="M659 281.2h0M621.3 281.7h0M651.7 283.4h0M610.1 283.9h0M615.9 284.2h0" stroke="#e9ebe5" stroke-width="2.69"/>
<path d="M616.6 281.2h0M605.4 282h0M650.3 282.1h0" stroke="#e9ebe5" stroke-width="2.11"/>
<path d="M664.9 281.3h0M606.2 281.3h0M636.3 281.5h0M610.2 283.8h0M608.5 284h0M634.6 284.2h0" stroke="#e6e8e2" stroke-width="2.11"/>
<path d="M639.5 281.4h0M601.5 282.5h0M672.1 282.7h0M626.8 283.3h0M652.9 283.5h0M634.2 284.4h0M639.3 284.9h0" stroke="#d2d5cc" stroke-width="2.11"/>
<path d="M647.8 281.4h0M669.6 282.7h0M667.3 282.8h0M625.6 282.9h0M660.1 283.4h0M629.1 283.6h0M666.8 284.4h0" stroke="#eeefeb" stroke-width="2.11"/>
<path d="M647.3 281.5h0M639.2 281.8h0M654.7 283.4h0" stroke="#d3d6cd" stroke-width="2.69"/>
<path d="M668.6 281.5h0" stroke="#c6c9be" stroke-width="2.11"/>
<path d="M658.5 281.5h0M634.3 283.4h0M610.1 284.5h0" stroke="#dee0d9" stroke-width="2.11"/>
<path d="M603.9 281.6h0M603.2 282.1h0M665.3 284.5h0" stroke="#d2d5cc" stroke-width="2.69"/>
<path d="M672.4 281.6h0M631.1 281.8h0M670.6 282.1h0M639.5 282.3h0M631.5 282.8h0M618.7 283.6h0M649.9 285h0" stroke="#b0b4a6" stroke-width="2.11"/>
<path d="M599.3 281.6h0M614.4 282h0M623.2 283.9h0" stroke="#dcdfd7" stroke-width="2.69"/>
<path d="M631.9 281.6h0M649.4 282.4h0" stroke="#cccfc5" stroke-width="2.69"/>
<path d="M665 281.8h0M625.5 281.9h0M667.7 284.1h0" stroke="#d3d6cd" stroke-width="2.11"/>
<path d="M628 281.8h0M606.6 282h0M607.3 283.1h0" stroke="#dcdfd7" stroke-width="2.11"/>
<path d="M605.2 281.8h0M664.8 282.4h0M613.3 283.5h0M612.1 284.6h0M621.7 284.8h0M611.3 284.8h0" stroke="#c6cabe" stroke-width="2.69"/>
<path d="M667.5 281.8h0M638.4 283.8h0" stroke="#c1c5b9" stroke-width="2.69"/>
<path d="M673.5 281.9h0M602.2 283.7h0" stroke="#e6e8e2" stroke-width="2.69"/>
<path d="M632 281.9h0M632.4 282.3h0M656.2 282.6h0M604 282.7h0M623.6 283.8h0M664.6 284.5h0M625.5 285h0" stroke="#dee0d9" stroke-width="2.69"/>
<path d="M626.8 282.1h0M643.4 282.3h0M649.8 283.4h0" stroke="#eeefeb" stroke-width="2.69"/>
<path d="M666.1 282.2h0" stroke="#c6c9be" stroke-width="2.69"/>
<path d="M601.5 282.2h0" stroke="#cbcec4" stroke-width="2.69"/>
<path d="M636.3 282.5h0M630.3 282.9h0M667.6 283h0M651.6 283.2h0M659.1 283.9h0" stroke="#b0b4a6" stroke-width="2.69"/>
<path d="M611.6 282.6h0" stroke="#c6cabe" stroke-width="2.11"/>
<path d="M660.9 282.8h0M626.5 285h0" stroke="#bbbfb2" stroke-width="2.69"/>
<path d="M633.5 282.9h0" stroke="#c1c4b9" stroke-width="2.69"/>
<path d="M623.4 283.2h0" stroke="#cfd1c8" stroke-width="2.11"/>
<path d="M646.9 283.4h0M651.2 283.6h0" stroke="#c7cabf" stroke-width="2.11"/>
<path d="M665.4 285.6h0M663.6 285.7h0M644.2 285.7h0M608.5 285.7h0M607.8 285.8h0M603.3 285.9h0M627.8 286h0M648.4 286h0M613.1 286h0M611.1 286h0M644.5 286h0M653.8 286.2h0M656.5 286.2h0M616.7 286.3h0M605.1 286.5h0M664.1 286.6h0M611.9 286.7h0M658.3 286.7h0M633 286.8h0M609.5 286.8h0M623.8 286.9h0M631.7 286.9h0M647.1 286.9h0M628.6 287h0M638.5 287.1h0M632.6 287.2h0M660.7 287.2h0M641.2 287.3h0M663.9 287.3h0M663 287.3h0M623.3 287.3h0M618.9 287.4h0M655.5 287.4h0M653 287.6h0M659.2 287.7h0M630.6 287.8h0M660 287.9h0M620.7 288h0M657.6 288h0M661.4 288h0M625 288.1h0M623.7 288.2h0M636.3 288.2h0M655.6 288.4h0M619 288.4h0M638.3 288.4h0M611.3 288.6h0M644.9 288.6h0M622.7 288.7h0M617.4 288.8h0M613.9 288.8h0M629.3 288.9h0M645.6 288.9h0M614.6 289h0M637.7 289h0M629.2 289.1h0M635.1 289.1h0M648 289.3h0M658.4 289.5h0M656.5 289.6h0M660.5 289.6h0M614.6 289.6h0M651.3 289.7h0M614.1 289.8h0M653.2 289.9h0M656.6 290.1h0M655 290.1h0M638.4 290.1h0M625.3 290.2h0M642 290.2h0M610.4 290.2h0M640.7 290.5h0M653.5 290.6h0M618.3 290.7h0M627.3 290.8h0M619.3 290.9h0M636.1 291.1h0M650.3 291.1h0M617.8 291.2h0M636.5 291.2h0M647 291.2h0M635.1 291.3h0M652.2 291.5h0M652.9 291.5h0M653.6 291.6h0M613.5 291.7h0M619.4 291.7h0M627.3 292.1h0M649 292.2h0M620.8 292.5h0" stroke="#8f9486" stroke-width="2.40"/>
<path d="M665 285h0M623.4 286.4h0M631.3 286.4h0M616.9 288.2h0M614.2 289.1h0" stroke="#dee0d9" stroke-width="2.11"/>
<path d="M663.1 285.1h0M610.9 288h0" stroke="#c1c4b9" stroke-width="2.69"/>
<path d="M643.7 285.2h0M608 285.2h0M611.4 286.1h0M638.1 286.6h0M624.8 289.6h0" stroke="#dcdfd7" stroke-width="2.11"/>
<path d="M607.4 285.3h0M612.6 285.4h0M653.3 285.6h0M641.6 289.6h0" stroke="#dee0d9" stroke-width="2.69"/>
<path d="M602.9 285.3h0M648.5 291.7h0" stroke="#dcdfd7" stroke-width="2.69"/>
<path d="M627.4 285.4h0M628.2 286.5h0M655.2 287.8h0M628.8 288.3h0M660.1 289.1h0M653.1 290.1h0M626.9 290.2h0" stroke="#d2d5cc" stroke-width="2.11"/>
<path d="M647.9 285.4h0M646.7 286.4h0" stroke="#d2d5cc" stroke-width="2.69"/>
<path d="M610.7 285.4h0M624.5 287.5h0M634.7 290.7h0" stroke="#bbbfb2" stroke-width="2.69"/>
<path d="M644.1 285.5h0M618.5 287.8h0M637.9 287.9h0" stroke="#e9ebe5" stroke-width="2.11"/>
<path d="M656 285.7h0M609 286.3h0M618.4 286.8h0M655.1 286.8h0M652.7 289.4h0" stroke="#b0b4a6" stroke-width="2.11"/>
<path d="M616.2 285.8h0M632.6 286.2h0M660.3 286.6h0M640.7 286.7h0M658.8 287.2h0M659.5 287.3h0M657.9 288.9h0M650.8 289.1h0M654.6 289.5h0M646.6 290.7h0" stroke="#b0b4a6" stroke-width="2.69"/>
<path d="M604.7 285.9h0M635.9 287.6h0M644.4 288.1h0M613.6 289.2h0" stroke="#d3d6cd" stroke-width="2.69"/>
<path d="M663.6 286h0" stroke="#cccfc5" stroke-width="2.11"/>
<path d="M657.9 286.1h0M618.8 290.3h0" stroke="#c6cabe" stroke-width="2.69"/>
<path d="M632.1 286.6h0M622.3 288.2h0M656.1 289h0M619 291.1h0" stroke="#c7cabf" stroke-width="2.69"/>
<path d="M663.4 286.7h0M614.2 288.5h0M647.5 288.7h0" stroke="#eeefeb" stroke-width="2.69"/>
<path d="M662.5 286.8h0" stroke="#c6c9be" stroke-width="2.69"/>
<path d="M622.9 286.8h0M623.3 287.6h0M613.5 288.3h0M645.1 288.4h0M634.6 288.5h0M635.6 290.6h0" stroke="#d3d6cd" stroke-width="2.11"/>
<path d="M652.5 287.1h0M620.2 287.5h0M649.9 290.6h0M617.3 290.6h0M636 290.7h0M651.7 290.9h0" stroke="#c6cabe" stroke-width="2.11"/>
<path d="M630.1 287.3h0M617.8 290.1h0" stroke="#eeefeb" stroke-width="2.11"/>
<path d="M657.1 287.5h0M640.2 289.9h0" stroke="#c6c9be" stroke-width="2.11"/>
<path d="M661 287.5h0" stroke="#cccfc5" stroke-width="2.69"/>
<path d="M637.2 288.5h0" stroke="#cfd1c8" stroke-width="2.69"/>
<path d="M628.8 288.5h0" stroke="#c1c5b9" stroke-width="2.69"/>
<path d="M656.1 289.5h0" stroke="#cbcec4" stroke-width="2.11"/>
<path d="M638 289.6h0M610 289.7h0M652.5 291h0" stroke="#e6e8e2" stroke-width="2.69"/>
<path d="M653.2 291.1h0" stroke="#c1c4b9" stroke-width="2.11"/>
<path d="M613.1 291.1h0" stroke="#e6e8e2" stroke-width="2.11"/>
<path d="M626.9 291.6h0M620.4 291.9h0" stroke="#e9ebe5" stroke-width="2.69"/>
<path d="M636.2 292.5h0M636.2 292.6h0M624 292.6h0M614.8 292.7h0M624.1 292.9h0M639.7 292.9h0M631.1 293h0M622.3 293h0M625.6 293.2h0M623.4 293.2h0M647.5 293.2h0M641.2 293.5h0M645.9 293.5h0M620.7 293.5h0M645.8 293.6h0M629.1 293.6h0M641.1 293.6h0M645.9 293.7h0M630.2 293.8h0M631.8 293.8h0M642.7 293.8h0M626.8 294h0M619.7 294.1h0M627 294.1h0M624.1 294.2h0M626.9 294.2h0M644.4 294.3h0M636.1 294.3h0M636.7 294.4h0M638 294.5h0M638 294.9h0M621.1 294.9h0M640.6 294.9h0M630.5 295.1h0M624.6 295.1h0M636.4 295.2h0M633.1 295.4h0M635.2 295.5h0M634.7 295.7h0M627.8 296h0M639.6 296.3h0" stroke="#8f9486" stroke-width="2.40"/>
<path d="M635.8 292h0M640.1 294.4h0M630.1 294.5h0" stroke="#cfd1c8" stroke-width="2.69"/>
<path d="M635.7 292.1h0" stroke="#dcdfd7" stroke-width="2.69"/>
<path d="M623.5 292.1h0M626.4 293.7h0M634.8 295h0" stroke="#e9ebe5" stroke-width="2.11"/>
<path d="M614.4 292.1h0M620.3 293h0M636.3 293.9h0M634.3 295.2h0" stroke="#b0b4a6" stroke-width="2.11"/>
<path d="M623.6 292.3h0M625.2 292.6h0M639.1 295.7h0" stroke="#e9ebe5" stroke-width="2.69"/>
<path d="M639.3 292.4h0M623 292.7h0" stroke="#eeefeb" stroke-width="2.11"/>
<path d="M630.6 292.4h0M643.9 293.7h0" stroke="#e6e8e2" stroke-width="2.11"/>
<path d="M621.9 292.5h0" stroke="#cfd1c8" stroke-width="2.11"/>
<path d="M647.1 292.7h0M645.4 293.1h0M637.5 294h0M620.6 294.3h0" stroke="#dee0d9" stroke-width="2.11"/>
<path d="M640.7 292.9h0M623.6 293.6h0" stroke="#b0b4a6" stroke-width="2.69"/>
<path d="M645.5 293h0M637.6 294.3h0" stroke="#bbbfb2" stroke-width="2.69"/>
<path d="M645.4 293h0" stroke="#cccfc5" stroke-width="2.11"/>
<path d="M628.7 293.1h0" stroke="#d2d5cc" stroke-width="2.11"/>
<path d="M640.6 293.1h0M642.2 293.3h0" stroke="#dcdfd7" stroke-width="2.11"/>
<path d="M629.7 293.2h0M631.4 293.2h0" stroke="#eeefeb" stroke-width="2.69"/>
<path d="M626.3 293.5h0M624.1 294.5h0" stroke="#c6cabe" stroke-width="2.69"/>
<path d="M619.2 293.6h0" stroke="#e6e8e2" stroke-width="2.69"/>
<path d="M626.6 293.6h0" stroke="#c6c9be" stroke-width="2.69"/>
<path d="M635.7 293.7h0" stroke="#d3d6cd" stroke-width="2.11"/>
<path d="M636 294.7h0" stroke="#d2d5cc" stroke-width="2.69"/>
<path d="M632.7 294.9h0" stroke="#dee0d9" stroke-width="2.69"/>
<path d="M627.4 295.4h0" stroke="#c1c4b9" stroke-width="2.69"/></g>
<ellipse cx="595.5" cy="293.0" rx="1.36" ry="1.20" fill="#e0e2db"/><ellipse cx="598.3" cy="295.8" rx="1.53" ry="1.20" fill="#e0e2db"/><ellipse cx="610.8" cy="304.1" rx="1.06" ry="1.09" fill="#d5d8cf"/><ellipse cx="612.9" cy="297.9" rx="1.38" ry="1.26" fill="#d5d8cf"/><ellipse cx="622.0" cy="295.1" rx="1.23" ry="1.25" fill="#c4c8bc"/><ellipse cx="637.3" cy="298.6" rx="1.32" ry="1.13" fill="#d5d8cf"/><ellipse cx="642.9" cy="295.1" rx="1.42" ry="1.07" fill="#d5d8cf"/><ellipse cx="649.8" cy="294.4" rx="1.52" ry="1.21" fill="#d5d8cf"/><ellipse cx="662.4" cy="299.3" rx="1.44" ry="0.94" fill="#e0e2db"/><ellipse cx="681.8" cy="290.2" rx="1.36" ry="0.96" fill="#d5d8cf"/><ellipse cx="686.0" cy="283.2" rx="1.55" ry="0.91" fill="#d5d8cf"/><ellipse cx="697.2" cy="270.7" rx="1.54" ry="0.97" fill="#d5d8cf"/><ellipse cx="703.4" cy="261.7" rx="1.19" ry="1.28" fill="#e0e2db"/><ellipse cx="697.9" cy="252.6" rx="1.50" ry="1.15" fill="#d5d8cf"/><ellipse cx="592.7" cy="284.6" rx="1.53" ry="1.18" fill="#c4c8bc"/>
<circle cx="694" cy="290.2" r="1.3" fill="#d8ecf8"/>
<g stroke-linecap="round" fill="none"><polygon points="803.3,486.5 804.3,492.1 801.9,497.1 800.3,502.6 796.8,506.9 791.1,507.7 786.7,509.5 782.5,515.0 777.3,511.9 772.4,510.6 766.0,512.0 763.2,506.3 758.2,503.3 757.1,497.4 754.7,492.2 756.6,486.5 754.7,480.8 755.3,474.8 759.5,470.7 762.3,465.6 766.9,462.5 772.7,463.3 777.0,458.5 782.4,459.4 787.1,462.0 791.0,465.5 797.6,465.1 799.8,470.9 803.5,475.1 805.9,480.5" fill="#e9ad10" />
<path d="M779.1 456.7h0M777.3 457.5h0M783 457.7h0M776.1 458.3h0M776.2 458.5h0M778.8 459.2h0M774.8 459.2h0M781 459.3h0M780.8 459.6h0M784.6 459.8h0M780.3 460.2h0M777.3 460.3h0M781.1 460.4h0M788.2 460.4h0M780.6 460.6h0M778.4 460.7h0M783.8 460.7h0M778.8 461.1h0M773.9 461.4h0M774.3 461.5h0M786 461.7h0M785.6 461.8h0M787.4 461.9h0M767.4 462h0M768.7 462.1h0M776.1 462.1h0M781.7 462.6h0M765.6 462.6h0M782.4 462.6h0M764.8 462.7h0M767.2 462.8h0M772.6 462.8h0M788.7 462.9h0M786.2 463h0M789.1 463.1h0M770.5 463.1h0M784 463.2h0M771.1 463.2h0M783.7 463.3h0M777.7 463.4h0M772.2 463.5h0M785.6 463.5h0M767.5 463.5h0M763.1 463.7h0M799.7 463.7h0M778.7 463.7h0M764.8 463.9h0M773.2 463.9h0M769.5 464.2h0M782.7 464.2h0M769.9 464.4h0M768.9 464.4h0M766.1 464.5h0M782.6 464.5h0M797.3 464.6h0M781.5 464.6h0M792.8 464.7h0M795.5 464.8h0M790.2 464.8h0M782.9 464.9h0M766.4 465.1h0M792.7 465.2h0M798.3 465.3h0M781.5 465.3h0M791.8 465.3h0M787.3 465.4h0M792.8 465.5h0M797.9 465.5h0M776.8 465.5h0M798.7 465.6h0M764 465.6h0M793.1 466h0M766.3 466h0M786.4 466.2h0M798.3 466.3h0M762.8 466.3h0M782.7 466.4h0M792.3 466.4h0M799.2 466.4h0M798.5 466.5h0M771.4 466.6h0M780.6 466.6h0M761.9 466.8h0M767.9 466.9h0M796.8 467h0M796.3 467h0M770.9 467h0M787.6 467.1h0M794.2 467.2h0M761.2 467.3h0" stroke="#cf8f08" stroke-width="2.90"/>
<path d="M778.7 456.1h0M782.6 457.1h0M773.9 460.9h0M778.3 463.2h0M795 464.3h0M797.9 464.7h0M792.7 465.4h0M767.4 466.3h0" stroke="#fbd234" stroke-width="3.25"/>
<path d="M776.8 456.9h0M774.4 458.7h0M780.4 459.1h0M785.5 461.2h0M772.2 462.3h0M769 463.6h0M782.2 464h0M791.4 464.8h0M786.9 464.8h0" stroke="#f5bb12" stroke-width="3.25"/>
<path d="M775.6 457.8h0M783.4 460.1h0M785.2 461.2h0M783.3 462.8h0M777.3 462.9h0M785.2 463h0M772.7 463.4h0M797.8 465.7h0M770.9 466.1h0" stroke="#f7c118" stroke-width="3.25"/>
<path d="M775.7 458h0M780.6 459.8h0M778.4 460.5h0M765.2 462.1h0M783.5 462.6h0M764.4 463.3h0M792.4 464.2h0M792.3 464.6h0M763.5 465.1h0M762.4 465.8h0M782.2 465.9h0M761.4 466.2h0" stroke="#f5bb12" stroke-width="2.55"/>
<path d="M778.4 458.6h0M787 461.3h0M799.2 463.2h0M768.5 463.9h0M765.6 464h0M789.8 464.3h0M785.9 465.6h0M793.7 466.7h0" stroke="#f9c81e" stroke-width="2.55"/>
<path d="M780.6 458.7h0M766.9 461.4h0M775.6 461.6h0M781.2 462h0M771.8 463h0M766 464.5h0M797.4 464.9h0" stroke="#f9c81e" stroke-width="3.25"/>
<path d="M784.1 459.3h0M776.8 459.8h0M770.1 462.6h0M782.5 464.4h0M798.1 466h0M787.2 466.5h0" stroke="#fddb4c" stroke-width="2.55"/>
<path d="M779.9 459.7h0M787.7 459.9h0M788.6 462.6h0M781.1 464.7h0M792.3 464.9h0M798.3 465h0M765.8 465.5h0M791.8 465.9h0" stroke="#fbcf2a" stroke-width="3.25"/>
<path d="M780.1 460.1h0M773.5 460.9h0M788.3 462.3h0M785.7 462.5h0M762.7 463.1h0M769.5 463.8h0M781.1 464.1h0" stroke="#fbd234" stroke-width="2.55"/>
<path d="M777.9 460.1h0M770.6 462.6h0M767 463h0M795.8 466.4h0M770.5 466.5h0" stroke="#fbcf2a" stroke-width="2.55"/>
<path d="M768.2 461.6h0M782 462.1h0M782.2 463.6h0M798.8 465.9h0M780.1 466.1h0M760.8 466.8h0" stroke="#fddb4c" stroke-width="3.25"/>
<path d="M764.4 462.1h0M766.7 462.3h0M796.9 464h0M776.3 465h0M796.4 466.4h0" stroke="#f7c118" stroke-width="2.55"/>
<path d="M764 467.6h0M772.9 467.6h0M788.2 467.7h0M772.3 467.8h0M778.5 467.8h0M762.3 467.9h0M785.4 468h0M764.6 468h0M769 468.1h0M787.4 468.1h0M798.2 468.3h0M798.4 468.4h0M799.2 468.5h0M759.7 468.5h0M763.9 468.6h0M795.5 468.6h0M763.3 468.8h0M792.5 469h0M788.5 469.2h0M768.6 469.3h0M782.7 469.5h0M800.1 469.6h0M800.3 469.6h0M798.2 469.6h0M797.2 469.7h0M791.7 469.7h0M773.2 470h0M794 470h0M787.7 470.1h0M790.6 470.3h0M793.7 470.4h0M773 470.5h0M787.1 470.5h0M759 470.5h0M798.2 470.6h0M760 470.6h0M770.8 470.7h0M775.4 470.8h0M783.7 470.8h0M771.5 470.9h0M785.9 471h0M789.2 471h0M758.9 471.2h0M796.8 471.2h0M763.8 471.3h0M800.7 471.3h0M800.1 471.5h0M770.9 471.5h0M795.6 471.5h0M803.1 471.7h0M784.8 471.7h0M760.2 472h0M796.3 472h0M801.4 472h0M799.6 472h0M757.7 472.1h0M798.7 472.1h0M760.7 472.1h0M801 472.3h0M790.1 472.4h0M779.6 472.4h0M797.5 472.7h0M768.7 472.7h0M755.3 473h0M798.2 473h0M804.7 473.1h0M801.6 473.2h0M772.2 473.2h0M767.9 473.2h0M779.9 473.2h0M757.9 473.4h0M788.3 473.4h0M769.3 473.4h0M763.9 473.5h0M769.5 473.5h0M786 473.5h0M768.3 473.6h0M766.3 473.6h0M759.2 473.6h0M764.9 473.7h0M760.1 474h0M783.6 474h0M790.1 474.1h0M792.5 474.1h0M797.2 474.2h0M799.5 474.3h0M804.6 474.3h0M782.4 474.4h0M792 474.4h0M789.1 474.5h0" stroke="#cf8f08" stroke-width="2.90"/>
<path d="M763.5 467h0M768.6 467.5h0M797.7 467.7h0M782.3 469h0M796.7 469.1h0M795.1 471h0M801 471.5h0M768.2 472.2h0M804.3 472.5h0M801.1 472.6h0M767.5 472.6h0M759.6 473.5h0M789.7 473.5h0M799 473.7h0" stroke="#f7c118" stroke-width="3.25"/>
<path d="M772.5 467h0M761.9 467.4h0M795 468.1h0M772.6 469.9h0M779.5 472.7h0M763.4 472.9h0" stroke="#f9c81e" stroke-width="2.55"/>
<path d="M787.8 467.1h0M763.5 468h0M792.1 468.5h0M791.3 469.2h0M775 470.2h0M799.6 471h0M800.5 471.8h0M765.9 473.1h0M758.7 473.1h0M804.1 473.8h0" stroke="#f9c81e" stroke-width="3.25"/>
<path d="M771.8 467.2h0M762.9 468.2h0M793.2 469.8h0M785.5 470.4h0M758.5 470.6h0M799.1 471.5h0M797 472.1h0M757.4 472.9h0M767.8 473h0M796.8 473.6h0" stroke="#fbcf2a" stroke-width="3.25"/>
<path d="M778.1 467.3h0M764.2 467.5h0M798.8 467.9h0M772.8 469.4h0M793.5 469.5h0M758.5 469.9h0M802.7 471.1h0M798.3 471.5h0M769.1 472.9h0M785.6 472.9h0" stroke="#f5bb12" stroke-width="2.55"/>
<path d="M785 467.5h0M797.9 467.9h0M799.9 469.1h0M771 470.4h0M784.4 471.2h0M795.8 471.5h0M789.7 471.8h0M768.8 472.9h0" stroke="#f7c118" stroke-width="2.55"/>
<path d="M786.9 467.6h0M768.2 468.7h0M797.8 469.1h0M754.9 472.4h0M792.1 473.6h0M782 473.9h0" stroke="#fddb4c" stroke-width="2.55"/>
<path d="M759.2 468h0M788.1 468.7h0M759.6 470.1h0M763.3 470.8h0M800.3 470.8h0M770.5 471h0" stroke="#fbd234" stroke-width="2.55"/>
<path d="M799.7 469h0M770.4 470.1h0M783.2 470.3h0M796.3 470.6h0M757.3 471.5h0M760.2 471.6h0M787.8 472.9h0M764.5 473.2h0M783.1 473.5h0M791.5 473.9h0" stroke="#fbd234" stroke-width="3.25"/>
<path d="M787.2 469.5h0M797.8 472.4h0" stroke="#fddb4c" stroke-width="3.25"/>
<path d="M790.1 469.7h0M797.8 470h0M779.2 471.8h0M771.8 472.6h0M788.6 474h0" stroke="#fbcf2a" stroke-width="2.55"/>
<path d="M786.6 469.9h0M788.7 470.4h0M759.7 471.4h0" stroke="#f5bb12" stroke-width="3.25"/>
<path d="M783.3 474.6h0M767.6 474.7h0M804.5 474.7h0M801.1 474.7h0M768.3 474.7h0M754.4 474.8h0M787.1 474.9h0M789.7 475h0M781.2 475.1h0M805.2 475.1h0M802.4 475.2h0M755.5 475.2h0M764.2 475.3h0M777.6 475.3h0M768.8 475.5h0M802.7 475.6h0M788.6 475.6h0M780.3 475.7h0M764.3 475.9h0M770.6 476h0M789.1 476h0M775.9 476.1h0M791 476.4h0M807 476.6h0M776.4 476.6h0M753.8 476.7h0M758.4 476.7h0M771.3 476.7h0M776.6 476.7h0M800.2 476.7h0M792.1 476.8h0M787.1 476.8h0M805.6 477h0M762.5 477h0M769.1 477.1h0M799 477.2h0M756.8 477.2h0M785.5 477.4h0M764.6 477.4h0M791.3 477.4h0M800.9 477.5h0M798.5 477.5h0M789.9 477.6h0M757.8 477.7h0M766.6 477.8h0M755.9 477.8h0M767.1 477.9h0M757.2 478.1h0M766.1 478.2h0M786.2 478.4h0M754.1 478.4h0M804.6 478.4h0M802.5 478.4h0M770.8 478.4h0M762.9 478.5h0M781.4 478.6h0M754.7 478.6h0M791.7 478.7h0M773.1 478.8h0M755.2 478.8h0M753.8 478.9h0M781.8 478.9h0M806 478.9h0M783.8 479.1h0M775.8 479.2h0M805.4 479.3h0M794.1 479.4h0M774.1 479.4h0M756.5 479.5h0M763.9 479.5h0M762.9 479.6h0M796.6 479.7h0M795 479.7h0M769.6 479.7h0M802 479.7h0M783.6 479.8h0M796.5 479.9h0M777 479.9h0M772.3 480h0M762.6 480.1h0M807 480.1h0M792.8 480.2h0M802.8 480.4h0M766.4 480.4h0M785.3 480.5h0M789.5 480.6h0M786.5 480.6h0M768.2 480.7h0M764.5 480.7h0M779.2 480.7h0" stroke="#cf8f08" stroke-width="2.90"/>
<path d="M782.9 474.1h0M804.1 474.1h0M800.6 474.2h0M790.6 475.9h0M755.4 477.3h0M756.7 477.6h0M766 479.8h0M767.7 480.1h0" stroke="#fddb4c" stroke-width="2.55"/>
<path d="M767.1 474.1h0M802 474.7h0M779.9 475.2h0M770.1 475.4h0M781 478h0M775.4 478.6h0M769.1 479.2h0M783.2 479.3h0M776.5 479.4h0M786.1 480h0" stroke="#fddb4c" stroke-width="3.25"/>
<path d="M767.8 474.2h0M786.6 474.4h0M775.5 475.5h0M766.2 477.2h0M802.4 479.8h0" stroke="#f7c118" stroke-width="3.25"/>
<path d="M754 474.2h0M753.4 476.1h0M768.6 476.6h0M785.7 477.8h0M804.1 477.9h0M796.1 479.1h0M796.1 479.3h0M806.6 479.6h0M764 480.1h0" stroke="#fbcf2a" stroke-width="3.25"/>
<path d="M789.3 474.4h0M802.2 475h0M788.2 475.1h0M806.5 476h0M757.9 476.1h0M776.1 476.2h0M786.7 476.3h0M762.1 476.4h0M798 477h0M765.7 477.6h0M756.1 478.9h0M792.4 479.7h0" stroke="#fbd234" stroke-width="3.25"/>
<path d="M780.8 474.5h0M763.9 475.3h0M789.4 477h0M781.4 478.3h0M804.9 478.8h0M762.5 479.1h0M784.8 479.9h0" stroke="#f5bb12" stroke-width="2.55"/>
<path d="M804.7 474.5h0M755 474.7h0M770.9 476.2h0M798.5 476.7h0M753.7 477.8h0M753.3 478.3h0M773.7 478.9h0M801.6 479.2h0M789.1 480h0" stroke="#f5bb12" stroke-width="3.25"/>
<path d="M763.8 474.7h0M799.8 476.2h0M800.4 476.9h0M762.1 479.5h0" stroke="#fbcf2a" stroke-width="2.55"/>
<path d="M777.2 474.8h0M768.4 475h0M776 476.1h0M756.4 476.7h0M790.9 476.8h0M802.1 477.9h0" stroke="#f7c118" stroke-width="2.55"/>
<path d="M788.6 475.4h0M762.4 477.9h0M754.2 478h0M791.3 478.1h0M772.6 478.3h0M794.5 479.1h0" stroke="#fbd234" stroke-width="2.55"/>
<path d="M791.6 476.2h0M757.4 477.1h0M766.7 477.3h0M770.4 477.9h0M754.8 478.3h0M771.8 479.5h0M778.8 480.1h0" stroke="#f9c81e" stroke-width="2.55"/>
<path d="M805.2 476.4h0" stroke="#efba1c" stroke-width="2.55"/>
<path d="M785 476.8h0M764.1 476.8h0M805.6 478.4h0M763.4 479h0" stroke="#f9c81e" stroke-width="3.25"/>
<path d="M783.4 478.5h0" stroke="#efbb21" stroke-width="2.55"/>
<path d="M793.7 478.8h0" stroke="#e3a50e" stroke-width="3.25"/>
<path d="M753.1 480.9h0M807 480.9h0M789.4 481.2h0M797.8 481.2h0M777 481.3h0M771.9 481.3h0M793.2 481.3h0M793.2 481.4h0M754.2 481.4h0M770.2 481.5h0M771.5 481.5h0M756.3 481.7h0M790.5 481.7h0M759 481.7h0M782.9 481.8h0M775 481.8h0M796.7 481.8h0M795 481.8h0M759.6 482.1h0M777 482.2h0M763.3 482.2h0M801.7 482.3h0M773 482.4h0M792.4 482.5h0M805.7 482.6h0M797 482.6h0M782.8 482.8h0M778.6 482.9h0M763 483h0M754.2 483h0M797.6 483h0M771.6 483.1h0M783.4 483.2h0M779.4 483.2h0M801.1 483.5h0M779 483.5h0M785.5 483.6h0M793.4 483.6h0M793.2 483.7h0M775.7 483.8h0M792.9 483.9h0M806.1 483.9h0M795.2 483.9h0M761.9 484h0M760 484.1h0M754.9 484.1h0M770.8 484.2h0M799.2 484.3h0M759.5 484.4h0M803.3 484.5h0M795.9 484.5h0M781.2 484.5h0M757.1 484.5h0M795.2 484.6h0M799.3 484.7h0M763.6 484.8h0M799.2 484.8h0M792.8 484.8h0M755.5 484.9h0M791 485h0M754.8 485h0M781 485.2h0M755.8 485.2h0M791.2 485.2h0M763.6 485.2h0M791.4 485.3h0M801.8 485.3h0M805 485.5h0M792.4 485.5h0M761.2 485.6h0M767.5 485.6h0M787.7 485.7h0M761.4 485.8h0M773.6 486h0M778.1 486h0M791.2 486.1h0M770.5 486.1h0M774.1 486.2h0M796 486.2h0M785.3 486.5h0M789.7 486.5h0M796.5 486.6h0M803.4 486.6h0M803.5 486.7h0M800.2 486.8h0M765.6 486.8h0M784.3 486.9h0M778.8 487h0M775 487h0M804.8 487.1h0" stroke="#cf8f08" stroke-width="2.90"/>
<path d="M752.6 480.3h0M773.2 485.4h0M770.1 485.5h0M784.8 485.9h0M765.2 486.3h0" stroke="#fddb4c" stroke-width="2.55"/>
<path d="M806.6 480.4h0M797.4 480.7h0M779 482.7h0M775.2 483.2h0M792.3 484.3h0M792 485h0M777.7 485.5h0M790.8 485.5h0M803 486.1h0" stroke="#f7c118" stroke-width="2.55"/>
<path d="M788.9 480.7h0M771.4 480.8h0M759.1 481.5h0M772.5 481.9h0M791.9 482h0M792.8 483.1h0M802.9 483.9h0M798.9 484.1h0M763.1 484.2h0M790.6 484.5h0" stroke="#fbcf2a" stroke-width="3.25"/>
<path d="M776.6 480.7h0M792.7 480.8h0M762.8 481.7h0M778.2 482.3h0M792.5 483.4h0M759.6 483.5h0M795.4 483.9h0M804.5 485h0M799.8 486.2h0" stroke="#f5bb12" stroke-width="3.25"/>
<path d="M792.8 480.8h0M771 481h0M755.8 481.1h0M754.4 483.5h0M798.7 483.7h0M778.4 486.4h0M804.3 486.5h0" stroke="#fbd234" stroke-width="3.25"/>
<path d="M753.7 480.8h0M796.5 482.1h0M783 482.7h0M805.6 483.4h0M780.8 483.9h0M754.4 484.5h0M755.3 484.6h0M790.7 484.7h0M790.9 484.8h0M789.2 486h0" stroke="#f9c81e" stroke-width="3.25"/>
<path d="M769.7 481h0M762.5 482.4h0M797.2 482.5h0M770.3 483.6h0M798.7 484.3h0M760.8 485h0" stroke="#fbd234" stroke-width="2.55"/>
<path d="M790.1 481.1h0M794.5 481.3h0M763.1 484.7h0M795.6 485.7h0M783.8 486.3h0M774.5 486.5h0" stroke="#f9c81e" stroke-width="2.55"/>
<path d="M758.6 481.1h0M767.1 485h0M787.2 485.2h0M773.6 485.6h0" stroke="#f7c118" stroke-width="3.25"/>
<path d="M782.4 481.2h0M776.5 481.6h0M805.2 482h0M782.3 482.2h0M761.5 483.4h0M759 483.8h0M780.6 484.6h0" stroke="#fbcf2a" stroke-width="2.55"/>
<path d="M774.6 481.2h0" stroke="#ecb010" stroke-width="2.55"/>
<path d="M796.3 481.2h0" stroke="#eeb616" stroke-width="2.55"/>
<path d="M801.3 481.8h0M753.8 482.4h0M771.2 482.6h0M778.5 482.9h0M793 483.1h0M794.7 484.1h0M801.4 484.8h0" stroke="#f5bb12" stroke-width="2.55"/>
<path d="M800.7 482.9h0M794.8 483.4h0" stroke="#e3a50e" stroke-width="3.25"/>
<path d="M785 483.1h0" stroke="#efbb21" stroke-width="3.25"/>
<path d="M756.6 484h0M755.1 484.4h0" stroke="#fddb4c" stroke-width="3.25"/>
<path d="M761 485.3h0M796 486h0" stroke="#e3a50e" stroke-width="2.55"/>
<path d="M803 486.1h0" stroke="#ecb010" stroke-width="3.25"/>
<path d="M756.1 487.1h0M761.8 487.1h0M794.1 487.1h0M787.2 487.2h0M782.6 487.2h0M760.8 487.2h0M783.8 487.3h0M767.2 487.5h0M791.3 487.6h0M795.5 487.6h0M761.1 487.7h0M781.4 487.7h0M799 487.8h0M769.3 487.9h0M798.7 488h0M798.6 488h0M791.8 488.1h0M764.7 488.1h0M775.6 488.5h0M756.1 488.5h0M795.4 488.5h0M786.7 488.5h0M763.1 488.6h0M787.2 488.7h0M768.9 488.7h0M769.9 488.8h0M805.9 489.1h0M765.9 489.1h0M762 489.2h0M772.7 489.2h0M768.4 489.3h0M772.1 489.3h0M792.7 489.4h0M805.2 489.6h0M760.6 489.6h0M793.1 489.6h0M797.4 489.7h0M801.1 489.7h0M798.5 489.7h0M765 489.9h0M760.6 490h0M757.8 490h0M754 490.2h0M769.4 490.3h0M800.4 490.3h0M758 490.5h0M787.5 490.5h0M784.8 490.5h0M798.7 490.6h0M789.9 490.6h0M799.7 490.6h0M804.2 490.8h0M760 490.8h0M784 490.8h0M791.1 490.9h0M795.1 491.4h0M778.3 491.4h0M755.4 491.4h0M762.6 491.6h0M788.9 491.6h0M780.2 491.7h0M777.5 491.7h0M754.9 491.9h0M759.6 491.9h0M779.9 492h0M795.6 492.1h0M776.6 492.1h0M790.2 492.1h0M762.8 492.2h0M789.7 492.2h0M754.5 492.2h0M787.7 492.3h0M765.6 492.5h0M778.4 492.5h0M754 492.5h0M797.6 492.6h0M798 492.6h0M768.5 492.6h0M784.9 492.7h0M805.9 492.7h0M792.4 492.8h0M789.6 492.8h0M802 492.9h0M802.5 492.9h0M796.4 493h0M793 493h0M806.3 493h0M769.6 493.1h0M773.4 493.1h0M786.2 493.2h0" stroke="#cf8f08" stroke-width="2.90"/>
<path d="M755.7 486.5h0M760.4 486.7h0M760.6 487.1h0M794.9 488h0M769.5 488.3h0M764.6 489.3h0M787 489.9h0M788.5 491h0M776.1 491.6h0M754 491.7h0" stroke="#f9c81e" stroke-width="2.55"/>
<path d="M761.4 486.6h0M762.6 488.1h0M803.8 490.2h0M779.8 491.1h0" stroke="#f5bb12" stroke-width="2.55"/>
<path d="M793.6 486.6h0M786.3 488h0M794.7 490.8h0" stroke="#e3a50e" stroke-width="2.55"/>
<path d="M786.8 486.6h0M782.2 486.6h0M766.8 486.9h0M791.3 487.6h0M789.5 490.1h0M754.9 490.8h0M797.6 492.1h0M805.8 492.5h0" stroke="#fbd234" stroke-width="3.25"/>
<path d="M783.3 486.7h0M798.2 487.4h0M769 489.7h0M784.3 490h0M787.2 491.8h0M795.9 492.4h0" stroke="#fbd234" stroke-width="2.55"/>
<path d="M790.9 487h0M780.9 487.2h0M798.2 487.5h0M805.4 488.5h0M761.5 488.6h0M753.5 489.6h0M753.6 492h0M801.6 492.3h0M769.2 492.5h0" stroke="#f9c81e" stroke-width="3.25"/>
<path d="M795 487.1h0M768.9 487.4h0M786.8 488.1h0M772.3 488.7h0M789.2 492.3h0" stroke="#fbcf2a" stroke-width="3.25"/>
<path d="M798.6 487.2h0M755.7 488h0M796.9 489.1h0M762.2 491h0M777.1 491.2h0M762.4 491.6h0M791.9 492.2h0" stroke="#f7c118" stroke-width="2.55"/>
<path d="M764.2 487.6h0M789.8 491.6h0M797.1 492h0" stroke="#efbb21" stroke-width="3.25"/>
<path d="M775.1 488h0" stroke="#ecb010" stroke-width="2.55"/>
<path d="M768.4 488.1h0M771.6 488.7h0M792.7 489.1h0M777.9 492h0M805.5 492.2h0M802.1 492.4h0" stroke="#f7c118" stroke-width="3.25"/>
<path d="M765.5 488.5h0M760.1 489h0M759.6 490.2h0M789.3 491.6h0M765.1 491.9h0" stroke="#f5bb12" stroke-width="3.25"/>
<path d="M768 488.7h0" stroke="#fbcf2a" stroke-width="2.55"/>
<path d="M792.2 488.9h0M800.7 489.2h0M760.2 489.5h0M757.3 489.5h0M757.6 489.9h0M792.6 492.4h0" stroke="#fddb4c" stroke-width="2.55"/>
<path d="M804.8 489h0M777.8 490.8h0M754.5 491.3h0" stroke="#eeb616" stroke-width="2.55"/>
<path d="M798.1 489.2h0M798.3 490.1h0M785.7 492.6h0" stroke="#e3a50e" stroke-width="3.25"/>
<path d="M799.9 489.8h0M759.1 491.3h0M768.1 492.1h0M772.9 492.6h0" stroke="#fddb4c" stroke-width="3.25"/>
<path d="M799.3 490.1h0" stroke="#eeb616" stroke-width="3.25"/>
<path d="M783.6 490.3h0" stroke="#f0c02d" stroke-width="2.55"/>
<path d="M790.7 490.4h0" stroke="#edb313" stroke-width="2.55"/>
<path d="M779.4 491.5h0" stroke="#ecb010" stroke-width="3.25"/>
<path d="M795.1 491.5h0" stroke="#efbb21" stroke-width="2.55"/>
<path d="M784.5 492.1h0" stroke="#f0c02d" stroke-width="3.25"/>
<path d="M784 493.2h0M771.9 493.2h0M757.3 493.2h0M753 493.3h0M796 493.3h0M789.9 493.3h0M787.9 493.3h0M794.3 493.4h0M794.8 493.5h0M773.9 493.6h0M781.4 493.7h0M765.4 493.8h0M783.6 493.9h0M768.5 494h0M803.3 494h0M759.9 494.1h0M763.9 494.3h0M801.2 494.4h0M756.6 494.5h0M804.6 494.6h0M789.9 494.6h0M768.3 494.6h0M783.9 494.6h0M771 494.7h0M761.8 494.7h0M755 494.8h0M776 494.8h0M791.3 494.8h0M775.1 494.8h0M796.9 495h0M774.7 495h0M788.6 495h0M758 495.1h0M756.3 495.2h0M764.7 495.4h0M756.2 495.5h0M802.5 495.5h0M771.8 495.8h0M773.6 495.8h0M781.2 495.8h0M785.9 495.9h0M775.9 495.9h0M801 496h0M775.7 496h0M778.6 496.1h0M779.5 496.2h0M768.2 496.5h0M780.7 496.5h0M782 496.6h0M805.2 496.8h0M776.7 496.9h0M754.6 497h0M772.1 497.1h0M780 497.1h0M783.8 497.2h0M804.1 497.3h0M795.9 497.3h0M803.1 497.4h0M797.5 497.4h0M803.4 497.5h0M781.4 497.5h0M764.2 497.5h0M760.4 497.6h0M802.4 497.7h0M763.5 497.8h0M780.6 497.8h0M757.3 498h0M775.3 498.2h0M776.4 498.3h0M786.2 498.5h0M766.5 498.6h0M773.1 498.6h0M762.5 498.7h0M781.3 498.8h0M768.3 498.8h0M802.3 498.9h0M767.6 498.9h0M764.8 499h0M767.3 499.1h0M768.5 499.1h0M770.4 499.3h0M773 499.6h0M790.6 499.6h0M770.7 499.6h0M786.6 499.9h0M778.8 500h0M763.4 500h0M756.4 500.1h0M758.1 500.2h0M775.1 500.3h0" stroke="#cf8f08" stroke-width="2.90"/>
<path d="M783.6 492.6h0M795.5 492.7h0M800.7 493.9h0M756 499.6h0" stroke="#ecb010" stroke-width="2.55"/>
<path d="M771.4 492.7h0M789.4 492.7h0M790.8 494.3h0M802.1 495h0M756.8 497.5h0M790.1 499.1h0M786.2 499.3h0" stroke="#fddb4c" stroke-width="3.25"/>
<path d="M756.9 492.7h0M794.3 493h0M785.4 495.4h0M776.3 496.3h0M780.2 497.3h0" stroke="#f5bb12" stroke-width="2.55"/>
<path d="M752.5 492.7h0M773.5 493h0M779.1 495.6h0M771.6 496.6h0M775.9 497.8h0M766.1 498h0M762.1 498.1h0" stroke="#fbcf2a" stroke-width="2.55"/>
<path d="M787.5 492.8h0M770.6 494.2h0M781.5 496h0M779.6 496.6h0M767.2 498.4h0" stroke="#f9c81e" stroke-width="3.25"/>
<path d="M793.8 492.9h0M768 493.4h0M756.1 493.9h0M775.3 495.5h0M780.2 496h0M763.8 497h0M774.7 499.7h0" stroke="#f7c118" stroke-width="2.55"/>
<path d="M781 493.2h0M783.4 494.1h0M800.5 495.5h0M754.2 496.4h0M797.1 496.8h0" stroke="#fbd234" stroke-width="2.55"/>
<path d="M764.9 493.2h0M754.5 494.2h0M775.5 494.2h0M767.7 495.9h0M768.1 498.6h0M772.5 499h0M757.7 499.6h0" stroke="#fddb4c" stroke-width="2.55"/>
<path d="M783.2 493.4h0M796.5 494.4h0M755.9 494.7h0M804.8 496.3h0M795.5 496.8h0M763.1 497.2h0" stroke="#e3a50e" stroke-width="2.55"/>
<path d="M802.9 493.5h0M767.8 494.1h0M770.2 499.1h0" stroke="#fbcf2a" stroke-width="3.25"/>
<path d="M759.4 493.5h0" stroke="#edb313" stroke-width="2.55"/>
<path d="M763.5 493.7h0M771.3 495.2h0M802.7 496.8h0M774.9 497.7h0M785.7 497.9h0M767.8 498.3h0" stroke="#e3a50e" stroke-width="3.25"/>
<path d="M804.2 494h0M759.9 497.1h0" stroke="#efba1c" stroke-width="2.55"/>
<path d="M789.5 494h0" stroke="#eeb616" stroke-width="3.25"/>
<path d="M761.3 494.2h0M803.7 496.7h0M801.9 497.1h0M772.6 498.1h0M801.8 498.4h0" stroke="#fbd234" stroke-width="3.25"/>
<path d="M774.6 494.3h0M781 496.9h0M766.8 498.5h0" stroke="#f7c118" stroke-width="3.25"/>
<path d="M774.3 494.4h0M773.1 495.2h0M778.1 495.6h0M780.9 498.2h0M770 498.7h0" stroke="#f5bb12" stroke-width="3.25"/>
<path d="M788.1 494.5h0M757.5 494.5h0M764.3 494.8h0M775.5 495.4h0M783.4 496.6h0M803 496.9h0M762.9 499.5h0" stroke="#f9c81e" stroke-width="2.55"/>
<path d="M755.7 494.9h0M780.7 495.3h0" stroke="#eeb616" stroke-width="2.55"/>
<path d="M764.3 498.4h0" stroke="#f0c02d" stroke-width="3.25"/>
<path d="M778.4 499.4h0" stroke="#efbb21" stroke-width="2.55"/>
<path d="M770.7 500.3h0M787.6 500.4h0M793.5 500.4h0M770 500.4h0M778.3 500.5h0M803.6 500.5h0M795.5 500.5h0M797.8 500.6h0M781.9 500.6h0M760.9 500.7h0M758.7 500.7h0M757.6 500.8h0M762 500.9h0M771.3 500.9h0M773.8 500.9h0M794.2 501h0M793.7 501.1h0M775.8 501.3h0M789.3 501.5h0M795.8 501.7h0M775.7 501.8h0M756.4 501.9h0M766.1 501.9h0M770 502h0M787.1 502h0M785.6 502.1h0M773.8 502.1h0M802.5 502.2h0M787.2 502.2h0M774.1 502.2h0M774 502.2h0M763.2 502.3h0M768.9 502.4h0M760.6 502.4h0M782 502.5h0M796.7 502.5h0M796.2 502.5h0M792.4 502.6h0M777.1 502.6h0M802.3 502.6h0M772.4 502.6h0M773.7 502.6h0M787.7 502.8h0M797.9 502.9h0M762.7 502.9h0M788.7 503h0M765.5 503.2h0M757.1 503.2h0M801.1 503.4h0M777.2 503.5h0M773 503.7h0M760.9 503.9h0M779.5 504h0M772.3 504.1h0M776.8 504.1h0M772 504.3h0M779.4 504.3h0M770 504.4h0M758.1 504.5h0M773.3 504.6h0M782.3 504.6h0M768.5 504.7h0M785.6 504.7h0M757.9 504.7h0M795.7 504.8h0M775.8 504.8h0M757.3 504.9h0M790.3 505h0M801.2 505h0M799.2 505h0M763.9 505.1h0M800.8 505.1h0M776.7 505.2h0M791.4 505.3h0M764.2 505.3h0M775.9 505.3h0M779.2 505.3h0M800.7 505.6h0M800.3 505.6h0M759.5 505.6h0M787 505.6h0M779.9 505.6h0M774.5 505.6h0M763.3 505.8h0M794.5 506h0M771.1 506h0M788.2 506.2h0M800 506.2h0M773 506.2h0M797.7 506.5h0" stroke="#cf8f08" stroke-width="2.90"/>
<path d="M770.2 499.8h0M760.1 501.8h0M778.9 503.8h0M763.8 504.7h0M799.8 505h0" stroke="#edb313" stroke-width="2.55"/>
<path d="M787.1 499.9h0M797.4 500h0M788.3 502.4h0M800.6 502.8h0M771.5 503.8h0M756.8 504.4h0M786.5 505.1h0" stroke="#fddb4c" stroke-width="3.25"/>
<path d="M793.1 499.9h0M781.5 500h0M788.9 501h0M775.3 501.2h0M776.8 503h0M795.2 504.2h0M787.8 505.6h0" stroke="#f9c81e" stroke-width="3.25"/>
<path d="M769.6 499.9h0M758.2 500.2h0M795.3 501.1h0M768.4 501.8h0M772.8 504h0M785.2 504.1h0M798.8 504.5h0" stroke="#f7c118" stroke-width="3.25"/>
<path d="M777.9 499.9h0M800.4 504.6h0M800.2 505h0" stroke="#f9c81e" stroke-width="2.55"/>
<path d="M803.1 500h0M770.9 500.4h0M797.5 502.3h0M760.4 503.3h0" stroke="#fddb4c" stroke-width="2.55"/>
<path d="M795 500h0M760.5 500.1h0M756 501.3h0M781.5 501.9h0M773.3 502.1h0M756.7 502.7h0M776.3 503.6h0" stroke="#fbcf2a" stroke-width="3.25"/>
<path d="M757.2 500.3h0" stroke="#f0c02d" stroke-width="2.55"/>
<path d="M761.6 500.3h0M771.9 503.6h0M775.4 504.3h0" stroke="#f7c118" stroke-width="2.55"/>
<path d="M773.3 500.4h0M786.7 501.6h0M795.8 502h0M791 504.7h0" stroke="#f5bb12" stroke-width="2.55"/>
<path d="M793.7 500.5h0M802.1 501.6h0M768.1 504.1h0M789.9 504.4h0M770.7 505.5h0M797.3 505.9h0" stroke="#e3a50e" stroke-width="2.55"/>
<path d="M793.2 500.6h0M785.1 501.5h0M796.3 501.9h0M776.6 502h0M763.5 504.5h0M775.5 504.7h0M778.7 504.8h0M774.1 505.1h0M794 505.5h0M772.6 505.7h0" stroke="#e3a50e" stroke-width="3.25"/>
<path d="M775.4 500.8h0M786.6 501.5h0M801.8 502h0M779 503.5h0" stroke="#f5bb12" stroke-width="3.25"/>
<path d="M765.7 501.3h0" stroke="#efba1c" stroke-width="2.55"/>
<path d="M769.6 501.4h0M757.7 504h0" stroke="#f0c02d" stroke-width="3.25"/>
<path d="M773.4 501.6h0" stroke="#efbb21" stroke-width="2.55"/>
<path d="M773.7 501.7h0M776.3 504.7h0M759 505.1h0" stroke="#fbd234" stroke-width="3.25"/>
<path d="M773.6 501.7h0M791.9 502h0" stroke="#fbd234" stroke-width="2.55"/>
<path d="M762.7 501.7h0" stroke="#eeb616" stroke-width="2.55"/>
<path d="M771.9 502h0M787.2 502.3h0" stroke="#fbcf2a" stroke-width="2.55"/>
<path d="M762.3 502.4h0M772.5 503.1h0M781.8 504h0" stroke="#eeb616" stroke-width="3.25"/>
<path d="M765 502.6h0M769.6 503.9h0M800.8 504.5h0" stroke="#efbb21" stroke-width="3.25"/>
<path d="M757.4 504.1h0M799.5 505.6h0" stroke="#efba1c" stroke-width="3.25"/>
<path d="M779.4 505.1h0M762.9 505.3h0" stroke="#edb313" stroke-width="3.25"/>
<path d="M799 506.6h0M761.2 506.6h0M796.7 506.6h0M787 506.8h0M786.6 506.8h0M776.2 506.9h0M799.3 506.9h0M795.5 506.9h0M787.9 507h0M788.3 507.1h0M782.1 507.2h0M791.5 507.2h0M796.8 507.3h0M797.5 507.8h0M778.2 507.8h0M794 507.8h0M770.1 507.8h0M769 508h0M791 508h0M772.8 508.1h0M765.8 508.1h0M795.6 508.1h0M773.5 508.1h0M762.5 508.1h0M764.3 508.2h0M771.6 508.2h0M796.1 508.2h0M785.2 508.3h0M795 508.3h0M778.6 508.4h0M789.6 508.4h0M777.8 508.4h0M765.3 508.7h0M787.7 508.8h0M777.2 508.8h0M779.7 508.9h0M791.9 508.9h0M788.5 509h0M794.9 509.1h0M793.4 509.2h0M763.6 509.2h0M770.6 509.2h0M794.3 509.3h0M781 509.3h0M776.6 509.4h0M765 509.4h0M788.6 509.4h0M773.1 509.4h0M765.6 509.5h0M780 509.5h0M789 509.7h0M767 509.9h0M780.5 510.1h0M790.7 510.2h0M776.3 510.3h0M773.7 510.4h0M768.3 510.4h0M773.3 510.9h0M787.4 510.9h0M766.3 511h0M781.7 511.2h0M780.3 511.5h0M786.5 511.6h0M763.6 511.7h0M783.7 512.2h0M776.1 512.3h0M774.3 512.6h0M764.9 512.6h0M786.4 512.6h0M770.7 513h0M772.3 513h0M779.3 513h0M775.9 513.1h0M766.2 513.1h0M769.1 513.3h0M777.6 513.3h0M780.3 513.4h0M776.5 513.7h0M765.6 513.8h0M767.2 514h0M781.6 514h0M785.3 514.1h0M781.5 514.1h0M783.7 514.4h0M778.9 514.6h0M784.1 514.9h0M781.7 515.3h0M780.3 515.4h0M783.1 516.9h0M782.8 517h0" stroke="#cf8f08" stroke-width="2.90"/>
<path d="M798.5 506.1h0M781.7 506.6h0M764.8 508.1h0M768.6 512.7h0M765.1 513.3h0" stroke="#f5bb12" stroke-width="2.55"/>
<path d="M760.7 506.1h0M798.8 506.3h0M795.2 507.5h0M789.1 507.8h0M781.3 510.6h0" stroke="#f7c118" stroke-width="2.55"/>
<path d="M796.2 506.1h0M793.6 507.2h0M779.6 508.9h0M775.6 511.7h0M778.9 512.5h0M783.2 513.9h0" stroke="#f5bb12" stroke-width="3.25"/>
<path d="M786.6 506.2h0M775.8 506.3h0M796.4 506.8h0M776.7 508.3h0M776.2 508.8h0M788.1 508.9h0M763.2 511.2h0M773.8 512h0" stroke="#fbcf2a" stroke-width="3.25"/>
<path d="M786.1 506.2h0M795.1 506.3h0M762 507.6h0M794.6 507.8h0M794.5 508.6h0M780.6 508.8h0M786.9 510.4h0M765.9 510.4h0M786.1 511.1h0M781.2 514.7h0" stroke="#e3a50e" stroke-width="3.25"/>
<path d="M787.5 506.5h0M787.9 506.6h0M769.7 507.3h0M768.5 507.4h0M777.4 507.8h0M793.8 508.8h0M771.9 512.4h0M775.5 512.5h0M781.1 513.5h0" stroke="#fbd234" stroke-width="2.55"/>
<path d="M791.1 506.7h0M764.4 512h0M779.9 512.8h0M779.9 514.8h0M782.3 516.4h0" stroke="#e3a50e" stroke-width="2.55"/>
<path d="M797.1 507.2h0M793 508.6h0M763.2 508.6h0M764.5 508.8h0M780 509.6h0" stroke="#fddb4c" stroke-width="3.25"/>
<path d="M777.8 507.2h0M770.2 508.6h0M766.5 509.3h0" stroke="#fbd234" stroke-width="3.25"/>
<path d="M790.6 507.5h0M788.1 508.4h0M785.9 512h0M781 513.6h0" stroke="#efba1c" stroke-width="2.55"/>
<path d="M772.4 507.5h0M775.8 509.7h0M779.8 511h0" stroke="#efbb21" stroke-width="2.55"/>
<path d="M765.3 507.5h0M795.6 507.7h0M791.5 508.4h0" stroke="#f9c81e" stroke-width="2.55"/>
<path d="M773.1 507.6h0" stroke="#efbb21" stroke-width="3.25"/>
<path d="M763.9 507.6h0M771.1 507.6h0M767.9 509.9h0M770.3 512.4h0M766.8 513.4h0" stroke="#f9c81e" stroke-width="3.25"/>
<path d="M784.7 507.7h0" stroke="#edb313" stroke-width="3.25"/>
<path d="M778.2 507.8h0M788.5 509.2h0M782.6 516.3h0" stroke="#ecb010" stroke-width="2.55"/>
<path d="M787.3 508.2h0M772.9 510.4h0M783.6 514.3h0" stroke="#fddb4c" stroke-width="2.55"/>
<path d="M779.3 508.3h0M772.6 508.9h0M783.2 511.7h0" stroke="#ecb010" stroke-width="3.25"/>
<path d="M765.1 508.9h0" stroke="#edb313" stroke-width="2.55"/>
<path d="M790.2 509.7h0" stroke="#fbcf2a" stroke-width="2.55"/>
<path d="M773.2 509.8h0M765.8 512.5h0" stroke="#eeb616" stroke-width="2.55"/>
<path d="M777.1 512.8h0M776.1 513.2h0" stroke="#eeb616" stroke-width="3.25"/>
<path d="M784.8 513.5h0M778.5 514.1h0" stroke="#efba1c" stroke-width="3.25"/></g>
<ellipse cx="763.5" cy="452.5" rx="1.38" ry="1.14" fill="#f7c51c"/><ellipse cx="772.0" cy="454.0" rx="1.22" ry="1.26" fill="#fbd234"/><ellipse cx="779.0" cy="453.0" rx="1.40" ry="1.36" fill="#f7c51c"/><ellipse cx="733.0" cy="466.0" rx="1.31" ry="1.37" fill="#f7c51c"/><ellipse cx="748.0" cy="481.0" rx="1.53" ry="1.05" fill="#fbd234"/><ellipse cx="809.0" cy="494.0" rx="1.65" ry="1.16" fill="#f7c51c"/><ellipse cx="806.0" cy="500.0" rx="1.25" ry="1.03" fill="#f7c51c"/><ellipse cx="752.0" cy="510.0" rx="1.55" ry="1.14" fill="#f7c51c"/>
<g stroke-linecap="round" fill="none"><polygon points="750.4,505.0 749.0,510.1 748.9,515.7 744.7,519.7 740.5,523.2 736.9,527.7 732.3,532.6 725.7,533.2 719.1,533.0 713.7,529.1 707.5,528.4 703.4,524.0 700.0,519.7 697.4,515.0 695.1,510.2 690.2,505.0 691.5,499.1 693.7,493.4 697.0,488.3 703.8,486.3 708.1,482.7 713.0,478.9 719.1,477.1 725.7,476.5 732.2,477.6 736.0,483.7 742.6,484.7 747.1,488.7 749.5,494.1 749.5,499.8" fill="#1756c4" />
<path d="M721.3 475.2h0M719.5 475.3h0M726.5 475.3h0M732 475.4h0M724.7 475.8h0M729.7 476.1h0M716.2 476.4h0M728 476.4h0M733.3 476.7h0M729.7 476.7h0M717.9 476.8h0M714.5 476.9h0M732.2 477h0M722.9 477h0M719.1 477.7h0M718.2 477.7h0M724.9 477.8h0M726.3 477.8h0M718.3 477.9h0M719.5 477.9h0M734.1 478.1h0M729.1 478.1h0M732.2 478.3h0M728.8 478.6h0M716.4 478.7h0M734.6 478.9h0M723.6 478.9h0M713.3 479h0M729.2 479.1h0M710.2 479.2h0M714.5 479.3h0M711.9 479.4h0M712.5 479.6h0M727 479.6h0M712.9 479.7h0M734.8 479.7h0M733.5 479.9h0M734.1 480h0M735.2 480h0M724.5 480.1h0M728.3 480.1h0M715 480.1h0M731.9 480.3h0M709 480.5h0M736.8 480.7h0M712.9 481.1h0M716 481.2h0M711.5 481.4h0M716.2 481.6h0M719.7 482h0M724 482.1h0M719.7 482.3h0M720.1 482.4h0M707.5 482.4h0M705.9 482.5h0M712 482.5h0M728.3 482.6h0M721.4 482.6h0M720.6 482.7h0M709.8 482.7h0M729 482.8h0M708.4 482.8h0M737.4 482.9h0M730.3 483h0M715.6 483.1h0M741.1 483.2h0M737.1 483.3h0M726.3 483.3h0M722 483.4h0M740.4 483.5h0M714.9 483.6h0M735.9 483.6h0M722.1 483.6h0M723 483.6h0M742.7 483.7h0M732.7 483.8h0M704.4 484h0M728.3 484.1h0M738.3 484.2h0M732.6 484.3h0M706.2 484.3h0M714.7 484.4h0M710.9 484.4h0M705.9 484.5h0M720.9 484.5h0M738.4 484.5h0M743.7 484.6h0M724.8 484.6h0M733.2 484.6h0M743.6 484.7h0" stroke="#0f44a8" stroke-width="3.00"/>
<path d="M720.8 474.6h0M727.5 475.9h0M731.8 477.7h0M714.5 479.6h0M719.2 481.8h0M732.7 484.1h0" stroke="#2b82f2" stroke-width="3.36"/>
<path d="M719 474.7h0M729.2 476.1h0M717.5 476.2h0M711.4 478.8h0M734.8 479.4h0" stroke="#2a7df0" stroke-width="3.36"/>
<path d="M726 474.7h0M724.2 475.3h0M718.7 477.2h0M734.2 478.4h0M733 479.4h0M705.4 482h0M715.1 482.5h0M742.2 483.2h0M727.9 483.6h0M705.5 483.9h0M743.1 484.2h0" stroke="#2276ea" stroke-width="2.64"/>
<path d="M731.5 474.8h0M726.6 479.1h0M733.6 479.4h0M711 480.9h0M715.8 481h0M720.9 482h0M721.6 483.1h0M732.3 483.2h0M703.9 483.4h0M732.2 483.7h0M710.4 483.9h0M743.3 484h0" stroke="#1d6adc" stroke-width="3.36"/>
<path d="M729.2 475.5h0M731.8 476.5h0M717.7 477.2h0M728.8 478.6h0M724 479.5h0M736.3 480.2h0M723.5 481.6h0M729.8 482.4h0M721.5 482.9h0" stroke="#2276ea" stroke-width="3.36"/>
<path d="M715.7 475.9h0M724.5 477.2h0M719 477.4h0M734.4 479.2h0M715.5 480.6h0M705.7 483.7h0" stroke="#3d8cf5" stroke-width="3.36"/>
<path d="M732.8 476.1h0M722.4 476.5h0M733.6 477.6h0M728.3 478.1h0M712.1 479h0M731.5 479.8h0M712.4 480.6h0M707.1 481.9h0M740.7 482.7h0M714.4 483h0M737.8 483.7h0M724.4 484.1h0" stroke="#1f72e6" stroke-width="3.36"/>
<path d="M714.1 476.4h0M728.7 477.6h0M716 478.1h0M714.1 478.8h0M712.5 479.2h0M719.3 481.5h0M727.9 482h0M735.5 483.1h0" stroke="#2b82f2" stroke-width="2.64"/>
<path d="M725.9 477.3h0M717.9 477.4h0M708.5 480h0" stroke="#1f72e6" stroke-width="2.64"/>
<path d="M723.2 478.4h0M727.9 479.5h0M719.7 481.9h0M720.2 482.1h0M725.9 482.7h0" stroke="#3d8cf5" stroke-width="2.64"/>
<path d="M712.9 478.4h0M709.7 478.7h0M709.4 482.2h0M736.9 482.3h0M736.7 482.7h0M739.9 483h0M720.5 483.9h0" stroke="#2a7df0" stroke-width="2.64"/>
<path d="M711.6 482h0M728.5 482.2h0M707.9 482.3h0M722.5 483.1h0M714.3 483.9h0M738 484h0" stroke="#1d6adc" stroke-width="2.64"/>
<path d="M721.9 484.8h0M725.8 484.8h0M727.7 484.8h0M721.3 484.9h0M728.3 484.9h0M718.2 485h0M720.2 485h0M745.5 485.1h0M706.1 485.2h0M717.9 485.2h0M716.8 485.2h0M727.7 485.3h0M732.6 485.3h0M709.5 485.3h0M720.7 485.4h0M740.3 485.5h0M731.4 485.5h0M720.6 485.6h0M704 485.6h0M737.7 485.7h0M733.6 485.9h0M725 486h0M731.6 486h0M703.5 486h0M737.6 486.1h0M710.6 486.1h0M719.5 486.1h0M701.4 486.2h0M723 486.4h0M736.5 486.5h0M726.2 486.5h0M731.8 486.6h0M715.1 486.6h0M739.8 486.6h0M715.9 486.6h0M740 486.7h0M717.9 486.8h0M729.6 486.9h0M733.6 486.9h0M709.7 486.9h0M697.4 487h0M730.8 487h0M726.2 487h0M702 487.1h0M695.2 487.3h0M745.2 487.3h0M701.2 487.4h0M732.3 487.5h0M699.6 487.5h0M708.5 487.7h0M728.9 487.8h0M716.9 487.8h0M717.8 487.8h0M700.9 487.9h0M749.8 487.9h0M711.6 488h0M723.9 488h0M735.3 488h0M720.5 488.1h0M709.3 488.1h0M746.1 488.1h0M736.9 488.2h0M711 488.2h0M746.6 488.2h0M738 488.2h0M696.3 488.3h0M722.5 488.3h0M716.8 488.4h0M720 488.5h0M746 488.6h0M738.9 488.8h0M716.9 488.8h0M748.9 488.9h0M748.4 488.9h0M704.7 489.1h0M725.3 489.2h0M730.8 489.2h0M720.5 489.3h0M699.8 489.3h0M707.6 489.4h0M747.4 489.5h0M725.1 489.6h0M705.7 489.6h0M721.3 489.8h0M711.1 489.8h0M701.2 489.8h0M727.9 489.8h0M722.1 489.8h0M695.9 489.9h0M737.8 489.9h0" stroke="#0f44a8" stroke-width="3.00"/>
<path d="M721.5 484.2h0M717.7 484.4h0M739.6 486.1h0M746.1 487.6h0" stroke="#2a7df0" stroke-width="2.64"/>
<path d="M725.4 484.2h0M731.4 486h0M715.5 486.1h0M717.4 486.2h0M733.2 486.3h0M696.9 486.4h0M704.3 488.6h0" stroke="#1d6adc" stroke-width="2.64"/>
<path d="M727.3 484.3h0M703.5 485.1h0M724.6 485.4h0M694.8 486.7h0M731.9 487h0M699.1 487h0M716.5 487.3h0M720.1 487.5h0M699.4 488.7h0M707.2 488.8h0" stroke="#2b82f2" stroke-width="3.36"/>
<path d="M720.8 484.3h0M705.7 484.6h0M717.4 484.6h0M733.1 485.4h0M701 485.7h0M739.4 486.1h0M744.8 486.8h0M748.4 488.4h0M747 488.9h0M705.2 489.1h0M737.3 489.3h0" stroke="#1f72e6" stroke-width="3.36"/>
<path d="M727.9 484.4h0M745.1 484.6h0M727.2 484.7h0M722.5 485.9h0M725.8 485.9h0M730.4 486.4h0M717.3 487.3h0M724.8 488.6h0M730.4 488.7h0" stroke="#2b82f2" stroke-width="2.64"/>
<path d="M719.7 484.4h0M714.7 486h0M729.1 486.3h0M700.7 486.9h0M728.5 487.2h0M722.1 487.8h0M716.4 487.8h0" stroke="#2a7df0" stroke-width="3.36"/>
<path d="M716.4 484.6h0M732.2 484.8h0M739.9 484.9h0M730.9 485h0M737.2 485.2h0M731.1 485.5h0M703.1 485.5h0M710.2 485.5h0M725.8 486.5h0M749.3 487.4h0M710.6 487.6h0M737.5 487.7h0M700.7 489.2h0M727.4 489.2h0M721.7 489.3h0" stroke="#3d8cf5" stroke-width="3.36"/>
<path d="M709.1 484.8h0M720.2 485h0M700.4 487.3h0M745.7 487.6h0M695.9 487.7h0M724.7 489h0M710.6 489.2h0" stroke="#1d6adc" stroke-width="3.36"/>
<path d="M720.3 484.9h0M736.1 485.9h0M723.5 487.5h0M708.8 487.6h0M736.5 487.6h0M748 488.4h0M720.1 488.7h0M720.9 489.2h0" stroke="#1f72e6" stroke-width="2.64"/>
<path d="M737.1 485.5h0M719.1 485.6h0M711.2 487.5h0M738.4 488.3h0M716.4 488.3h0M695.4 489.3h0" stroke="#2276ea" stroke-width="3.36"/>
<path d="M709.2 486.4h0M701.5 486.5h0M708.1 487.2h0" stroke="#3d8cf5" stroke-width="2.64"/>
<path d="M734.9 487.5h0M719.6 488h0M745.6 488h0" stroke="#2276ea" stroke-width="2.64"/>
<path d="M698.5 489.9h0M695.6 490h0M719.3 490.1h0M711.1 490.1h0M696.6 490.1h0M705.4 490.1h0M722.4 490.2h0M718.4 490.3h0M696.3 490.3h0M744.4 490.3h0M749.4 490.4h0M696.7 490.5h0M738.1 490.5h0M718.6 490.6h0M726.2 490.6h0M748.8 490.6h0M726.3 490.6h0M722.5 490.7h0M736.4 490.7h0M694.7 490.8h0M740.5 490.8h0M733.9 490.8h0M748.6 490.9h0M695.8 491h0M703.1 491.1h0M727.8 491.1h0M700.3 491.2h0M720.7 491.4h0M728.8 491.4h0M728.3 491.5h0M744.4 491.6h0M748.9 491.7h0M712.8 491.7h0M693 491.8h0M749.7 491.8h0M695.2 491.8h0M739.7 491.9h0M693.3 492h0M698.9 492.1h0M750.8 492.1h0M705.1 492.3h0M709.5 492.3h0M744 492.4h0M725.9 492.4h0M718.3 492.4h0M719.7 492.5h0M704.1 492.5h0M743.4 492.6h0M724.6 492.6h0M730.1 492.6h0M713.7 492.6h0M706.6 492.7h0M733.4 492.8h0M715.1 492.8h0M713.1 492.8h0M716.9 492.8h0M706.7 492.8h0M732.9 492.9h0M720.3 493.1h0M721.1 493.1h0M733.6 493.2h0M729.4 493.2h0M703.5 493.2h0M751 493.2h0M727.8 493.2h0M692.6 493.3h0M743.6 493.5h0M738.2 493.5h0M707.6 493.6h0M719.8 493.6h0M701.2 493.7h0M738.3 493.8h0M692.7 493.9h0M730.3 493.9h0M706.2 494h0M743.4 494h0M707.1 494.1h0M744.7 494.2h0M722.3 494.2h0M750.9 494.3h0M739.5 494.3h0M726.5 494.3h0M717.2 494.3h0M726.6 494.4h0M705.7 494.4h0M705.7 494.4h0M745.4 494.6h0M739.8 494.6h0M706.3 494.6h0M730.5 494.6h0" stroke="#0f44a8" stroke-width="3.00"/>
<path d="M698 489.4h0M749 489.8h0M694.7 491.2h0M709 491.8h0M743.5 491.8h0M750.6 492.7h0M727.4 492.7h0M719.4 493h0M706.7 493.6h0M726.1 493.7h0M705.3 493.8h0M705.9 494.1h0" stroke="#2b82f2" stroke-width="3.36"/>
<path d="M695.1 489.4h0M718 489.7h0M695.8 489.8h0M725.8 490.1h0M725.5 491.9h0M712.7 492.3h0M720.6 492.6h0M692.2 492.8h0M737.8 492.9h0" stroke="#1f72e6" stroke-width="3.36"/>
<path d="M718.8 489.5h0M710.6 489.5h0M722.1 490.1h0M719.2 491.9h0M733 492.2h0M692.3 493.4h0M705.7 493.4h0" stroke="#2a7df0" stroke-width="3.36"/>
<path d="M696.1 489.6h0M735.9 490.2h0M733.5 490.3h0M702.7 490.5h0M744 491.1h0M716.5 492.3h0M700.8 493.2h0M721.9 493.7h0" stroke="#2b82f2" stroke-width="2.64"/>
<path d="M704.9 489.6h0M737.7 490h0M692.6 491.2h0M703.6 492h0M719.8 492.6h0M739 493.7h0" stroke="#3d8cf5" stroke-width="2.64"/>
<path d="M721.9 489.6h0M696.3 489.9h0M748.3 490.1h0M743 492h0M714.7 492.3h0M743 493.5h0M716.7 493.8h0" stroke="#1d6adc" stroke-width="2.64"/>
<path d="M743.9 489.8h0M718.2 490.1h0M712.4 491.1h0M724.2 492h0M706.1 492.1h0M706.3 492.3h0M729 492.6h0M729.8 493.4h0" stroke="#2276ea" stroke-width="3.36"/>
<path d="M725.8 490.1h0M740 490.3h0M699.9 490.7h0M720.3 490.8h0M728.3 490.8h0M717.8 491.9h0M744.3 493.7h0M705.2 493.9h0" stroke="#1f72e6" stroke-width="2.64"/>
<path d="M694.2 490.3h0M727.9 490.9h0M749.3 491.2h0M698.4 491.6h0M732.4 492.3h0M750.5 493.7h0" stroke="#3d8cf5" stroke-width="3.36"/>
<path d="M748.2 490.4h0M727.4 490.6h0M748.4 491.1h0M739.2 491.3h0M704.6 491.7h0M726.2 493.8h0" stroke="#1d6adc" stroke-width="3.36"/>
<path d="M695.3 490.4h0M729.7 492.1h0M713.2 492.1h0M703 492.6h0M737.9 493.2h0M745 494h0M739.3 494h0" stroke="#2276ea" stroke-width="2.64"/>
<path d="M692.8 491.5h0M733.1 492.6h0M707.2 493h0" stroke="#2a7df0" stroke-width="2.64"/>
<path d="M750.3 491.6h0" stroke="#1f67d8" stroke-width="3.36"/>
<path d="M743.2 492.9h0" stroke="#1552c0" stroke-width="2.64"/>
<path d="M730.1 494.1h0" stroke="#1552c0" stroke-width="3.36"/>
<path d="M746.7 494.6h0M723.9 494.7h0M736.5 494.7h0M744.2 494.9h0M725.2 494.9h0M737.7 495h0M692.6 495h0M697.9 495.2h0M742.5 495.4h0M717 495.4h0M721.4 495.6h0M727 495.6h0M729.4 495.8h0M693.6 495.8h0M722.7 495.9h0M751.6 495.9h0M751.8 496h0M696.4 496h0M730.5 496.1h0M722.4 496.2h0M703.4 496.5h0M717.5 496.5h0M733.6 496.6h0M709.5 496.7h0M735.1 496.7h0M743 496.8h0M693.1 496.8h0M733.5 496.8h0M737.2 496.9h0M736.4 497.1h0M724.1 497.1h0M703.8 497.1h0M740.8 497.2h0M732.5 497.3h0M697.4 497.4h0M725.3 497.4h0M730.6 497.5h0M706.1 497.6h0M705.4 497.6h0M727.2 497.6h0M712 497.6h0M736.9 497.7h0M743.6 497.8h0M724.3 497.8h0M690.7 497.9h0M691.5 498h0M721 498h0M691.2 498h0M707.1 498h0M741.1 498.1h0M710.5 498.2h0M714.9 498.3h0M720.1 498.3h0M750.5 498.3h0M747.8 498.3h0M701.7 498.5h0M720 498.5h0M692.1 498.5h0M737.5 498.6h0M726.2 498.6h0M716.7 498.6h0M694.2 498.8h0M700.6 498.9h0M707 499h0M749.5 499.1h0M726.8 499.1h0M724.8 499.2h0M710.4 499.2h0M728.7 499.3h0M750.8 499.4h0M721.5 499.4h0M691.5 499.5h0M714 499.7h0M693 499.7h0M751.2 499.8h0M736.1 499.8h0M752.4 499.9h0M695.6 499.9h0M750.3 500h0M722.7 500h0M739.6 500.1h0M710.4 500.1h0M706.9 500.2h0M739 500.5h0M737.2 500.6h0M697.8 500.7h0M698.5 500.8h0M730.9 500.8h0M690.2 500.9h0M734.9 500.9h0" stroke="#0f44a8" stroke-width="3.00"/>
<path d="M746.3 494.1h0M728.9 495.2h0M751.3 495.4h0M717 495.9h0M734.6 496.1h0M736.8 496.3h0M740.7 497.6h0M692.5 499.2h0M697.4 500.1h0" stroke="#2a7df0" stroke-width="2.64"/>
<path d="M723.5 494.1h0M703.4 496.5h0M730.1 496.9h0M723.8 497.3h0M706.7 497.5h0M737.1 498h0M750.7 499.2h0M739.2 499.6h0" stroke="#2b82f2" stroke-width="2.64"/>
<path d="M736.1 494.2h0M726.5 495.1h0M693.2 495.3h0M725.7 498h0M695.2 499.4h0M722.2 499.5h0M689.7 500.3h0" stroke="#3d8cf5" stroke-width="2.64"/>
<path d="M743.8 494.3h0M697 496.8h0M705.6 497h0M714.5 497.7h0M716.2 498h0M713.6 499.2h0M738.5 499.9h0" stroke="#1d6adc" stroke-width="3.36"/>
<path d="M724.8 494.4h0M742.1 494.8h0M720.9 495h0M709.1 496.1h0M733.1 496.3h0M690.2 497.4h0M701.3 497.9h0M693.8 498.2h0M706.5 498.4h0" stroke="#2a7df0" stroke-width="3.36"/>
<path d="M737.3 494.4h0M692.1 494.5h0M742.6 496.2h0M732.1 496.8h0M705 497.1h0M691.1 497.4h0M710.1 497.6h0M719.7 497.7h0M700.1 498.4h0M728.3 498.7h0M750.3 498.8h0" stroke="#2b82f2" stroke-width="3.36"/>
<path d="M697.4 494.7h0M695.9 495.5h0M733.2 496h0M736.4 497.1h0M743.1 497.3h0M719.5 498h0M691.7 498h0M709.9 498.7h0M735.6 499.3h0M736.7 500h0" stroke="#2276ea" stroke-width="2.64"/>
<path d="M716.6 494.9h0M730 495.5h0M724.4 498.6h0" stroke="#1f72e6" stroke-width="2.64"/>
<path d="M722.3 495.3h0" stroke="#195ece" stroke-width="3.36"/>
<path d="M751.1 495.3h0M721.9 495.7h0M723.6 496.5h0M740.4 496.7h0M690.8 497.5h0M706.4 499.7h0M698 500.2h0" stroke="#2276ea" stroke-width="3.36"/>
<path d="M702.9 495.9h0M692.6 496.3h0M747.4 497.8h0M726.3 498.6h0M710 499.6h0" stroke="#3d8cf5" stroke-width="3.36"/>
<path d="M736 496.5h0M724.8 496.8h0M711.6 497.1h0M721.1 498.8h0M691 499h0" stroke="#1f72e6" stroke-width="3.36"/>
<path d="M726.8 497.1h0M730.5 500.3h0" stroke="#1d6adc" stroke-width="2.64"/>
<path d="M720.6 497.5h0" stroke="#1f67d8" stroke-width="2.64"/>
<path d="M750 497.7h0M749 498.5h0" stroke="#1a62d3" stroke-width="2.64"/>
<path d="M751.9 499.4h0" stroke="#1552c0" stroke-width="2.64"/>
<path d="M749.9 499.4h0" stroke="#195ece" stroke-width="2.64"/>
<path d="M734.5 500.3h0" stroke="#206ad9" stroke-width="3.36"/>
<path d="M745.9 501h0M728.2 501.1h0M730.7 501.2h0M723.5 501.4h0M690 501.4h0M709.6 501.5h0M724.7 501.5h0M739.5 501.5h0M695.7 501.7h0M697.9 501.7h0M701.8 501.8h0M727.8 501.8h0M714 501.8h0M715.4 501.9h0M737.7 501.9h0M751.9 501.9h0M734.8 502h0M694.6 502h0M700.3 502h0M750.5 502h0M713.2 502.1h0M697.8 502.2h0M700.7 502.2h0M729.8 502.2h0M749.9 502.4h0M717.2 502.4h0M731.5 502.4h0M741.5 502.5h0M690.4 502.5h0M724.4 502.6h0M698.7 502.6h0M691.4 502.6h0M721.3 502.6h0M739.8 502.7h0M744.6 502.7h0M720.5 502.7h0M735.3 502.7h0M714.7 502.8h0M747.5 503h0M703.6 503h0M718.6 503h0M744.5 503.1h0M695.8 503.2h0M703.7 503.2h0M697.1 503.2h0M706.3 503.4h0M730.3 503.4h0M737.9 503.5h0M752.1 503.7h0M743.1 503.7h0M734.8 503.7h0M717.7 503.8h0M697.7 503.9h0M689.9 504h0M736.5 504h0M690.1 504h0M721.2 504.1h0M697.2 504.1h0M696 504.2h0M691.7 504.3h0M697 504.6h0M751.2 504.6h0M746.8 504.7h0M723.6 504.8h0M698.8 504.8h0M692 504.8h0M705.3 504.9h0M698.6 505h0M717.2 505.2h0M748.4 505.2h0M742.3 505.3h0M733.3 505.3h0M719.9 505.3h0M720.4 505.3h0M689.7 505.5h0M753.2 505.6h0M722.7 505.6h0M727.2 505.6h0M724 505.6h0M730.1 505.7h0M747.9 505.7h0M748 505.8h0M717.4 505.8h0M734.3 505.8h0M749 505.8h0M690.3 505.9h0M730.4 506h0M707.6 506h0M692.3 506.1h0M702.8 506.2h0" stroke="#0f44a8" stroke-width="3.00"/>
<path d="M745.5 500.5h0M742.6 503.2h0M723.2 504.2h0M732.8 504.8h0" stroke="#1552c0" stroke-width="3.36"/>
<path d="M727.8 500.6h0M734.3 501.4h0M720.8 502.1h0M695.6 503.7h0M748.6 505.3h0" stroke="#2a7df0" stroke-width="3.36"/>
<path d="M730.3 500.6h0" stroke="#206ad9" stroke-width="3.36"/>
<path d="M723.1 500.8h0M750.1 501.5h0M716.8 501.9h0M723.9 502h0M739.4 502.1h0M718.2 502.5h0M705.9 502.9h0M704.8 504.3h0M689.3 505h0M723.6 505.1h0" stroke="#2b82f2" stroke-width="3.36"/>
<path d="M689.5 500.8h0M700.3 501.6h0M744 502.6h0M736 503.5h0M698.4 504.3h0M702.3 505.7h0" stroke="#2b82f2" stroke-width="2.64"/>
<path d="M709.2 500.9h0M751.5 501.4h0M731 501.9h0M751.6 503.2h0M691.6 504.3h0M716.8 504.6h0M730 505.4h0" stroke="#3d8cf5" stroke-width="2.64"/>
<path d="M724.3 500.9h0M694.1 501.4h0M697.4 501.6h0M741 501.9h0M698.2 502h0M720 502.2h0M703.3 502.7h0M698.1 504.4h0M719.4 504.8h0" stroke="#1f72e6" stroke-width="3.36"/>
<path d="M739.1 501h0M727.3 501.2h0M699.8 501.4h0M734.9 502.2h0M703.1 502.4h0M734.4 503.2h0M689.7 503.5h0M746.3 504.2h0M720 504.8h0M717 505.2h0" stroke="#1d6adc" stroke-width="2.64"/>
<path d="M695.3 501.1h0M697.4 501.2h0M689.9 502h0M697.3 503.4h0M729.7 505.1h0M733.8 505.3h0" stroke="#3d8cf5" stroke-width="3.36"/>
<path d="M701.4 501.2h0" stroke="#1b64d5" stroke-width="3.36"/>
<path d="M713.5 501.3h0M712.8 501.5h0M747.1 502.4h0M691.2 503.7h0M752.7 505h0M722.2 505.1h0M747.5 505.2h0" stroke="#2276ea" stroke-width="3.36"/>
<path d="M715 501.3h0M744.1 502.1h0M689.5 503.4h0" stroke="#2276ea" stroke-width="2.64"/>
<path d="M737.2 501.4h0M729.3 501.7h0M749.4 501.8h0M690.9 502h0M695.3 502.7h0M696.7 502.7h0M717.3 503.2h0M696.7 503.6h0M750.8 504.1h0" stroke="#2a7df0" stroke-width="2.64"/>
<path d="M714.3 502.3h0" stroke="#195ece" stroke-width="2.64"/>
<path d="M729.9 502.9h0M720.8 503.6h0M707.1 505.4h0M691.9 505.6h0" stroke="#1d6adc" stroke-width="3.36"/>
<path d="M737.4 502.9h0" stroke="#206ad9" stroke-width="2.64"/>
<path d="M696.5 504h0M726.8 505.1h0" stroke="#1552c0" stroke-width="2.64"/>
<path d="M747.9 504.7h0M741.9 504.7h0M689.8 505.4h0" stroke="#1f72e6" stroke-width="2.64"/>
<path d="M747.4 505.1h0" stroke="#1f67d8" stroke-width="3.36"/>
<path d="M707.3 506.3h0M749.9 506.4h0M752 506.4h0M745.9 506.5h0M705.1 506.5h0M702.5 506.8h0M726.5 506.8h0M713.6 506.9h0M689.6 507h0M719.7 507h0M727.1 507h0M695.2 507h0M724.2 507h0M718.5 507.2h0M750.7 507.2h0M742.2 507.2h0M712 507.2h0M745.1 507.3h0M751.8 507.3h0M734.9 507.5h0M741.1 507.5h0M724.1 507.5h0M716.2 507.5h0M749 507.5h0M716.2 507.6h0M739 507.6h0M697.8 507.6h0M714.5 507.6h0M697 507.6h0M739.2 507.7h0M715.6 507.7h0M697.5 507.7h0M726.7 507.9h0M741.7 507.9h0M706.7 508h0M701.2 508.1h0M740.7 508.1h0M710.1 508.1h0M691.6 508.3h0M692.1 508.3h0M746 508.4h0M711 508.4h0M723.6 508.4h0M709 508.5h0M705.5 508.5h0M703.4 508.5h0M748.7 508.6h0M706.5 508.6h0M731.8 508.8h0M703.9 508.8h0M735.6 509h0M750.1 509h0M712.5 509.1h0M698.1 509.3h0M707.5 509.3h0M723.4 509.4h0M713.3 509.4h0M700.4 509.6h0M705.6 509.6h0M739.5 509.7h0M724.4 509.7h0M745.3 509.8h0M691.8 509.9h0M736.2 509.9h0M724.8 509.9h0M728.3 509.9h0M703.9 509.9h0M749.8 509.9h0M721.7 510h0M748.7 510h0M703.5 510h0M717.2 510.1h0M726.2 510.2h0M751.5 510.3h0M739.8 510.4h0M710.9 510.4h0M702.3 510.5h0M719.4 510.6h0M734.9 510.6h0M701.6 510.8h0M750.3 510.8h0M738.7 510.9h0M747.9 510.9h0M727.2 510.9h0M725.6 510.9h0M714.1 510.9h0M718.4 511.2h0M706.3 511.2h0M693.6 511.2h0M722.1 511.2h0" stroke="#0f44a8" stroke-width="3.00"/>
<path d="M706.9 505.8h0M689.2 506.4h0M715.7 506.9h0M715.8 507h0M710.6 507.9h0M731.3 508.2h0M749.7 508.4h0M739 509.1h0M751 509.7h0M719 510.1h0M738.3 510.3h0M747.4 510.3h0" stroke="#2a7df0" stroke-width="3.36"/>
<path d="M749.5 505.8h0M745.5 505.9h0M702.1 506.2h0M694.8 506.5h0M744.6 506.8h0M723.6 506.9h0M691.4 509.3h0M749.9 510.3h0M713.6 510.4h0M693.2 510.7h0M721.7 510.7h0" stroke="#1f72e6" stroke-width="3.36"/>
<path d="M751.6 505.9h0M718.1 506.6h0M734.4 506.9h0M702.9 508h0M735.1 508.4h0" stroke="#1d6adc" stroke-width="2.64"/>
<path d="M704.6 506h0M748.2 508h0M705.9 510.6h0" stroke="#1f72e6" stroke-width="2.64"/>
<path d="M726 506.2h0M738.8 507.1h0M745.6 507.8h0M703.4 508.2h0" stroke="#2276ea" stroke-width="2.64"/>
<path d="M713.2 506.3h0M711.5 506.7h0M697 507.2h0M705 508h0M697.6 508.8h0M699.9 509h0M735.8 509.3h0M701.2 510.2h0" stroke="#3d8cf5" stroke-width="2.64"/>
<path d="M719.3 506.5h0M697.4 507h0M723 508.9h0" stroke="#2b82f2" stroke-width="3.36"/>
<path d="M726.6 506.5h0M696.6 507.1h0M712.9 508.9h0M725.2 510.4h0" stroke="#1a62d3" stroke-width="3.36"/>
<path d="M723.8 506.5h0M715.2 507.1h0M741.2 507.3h0M700.8 507.5h0M691.2 507.8h0M706 508.1h0M718 510.6h0" stroke="#3d8cf5" stroke-width="3.36"/>
<path d="M750.3 506.7h0M709.7 507.5h0M708.5 507.9h0M724 509.1h0M724.4 509.3h0M727.8 509.3h0M703 509.5h0M710.5 509.9h0M701.9 510h0" stroke="#1d6adc" stroke-width="3.36"/>
<path d="M741.8 506.7h0M740.6 506.9h0M706.2 507.4h0M749.3 509.4h0M748.3 509.5h0" stroke="#1552c0" stroke-width="3.36"/>
<path d="M751.4 506.8h0M726.3 507.3h0M740.3 507.5h0M705.2 509h0M716.7 509.6h0" stroke="#2276ea" stroke-width="3.36"/>
<path d="M748.6 507h0M712 508.6h0" stroke="#1f67d8" stroke-width="3.36"/>
<path d="M738.6 507h0M714.1 507.1h0M723.1 507.9h0M707 508.8h0M725.7 509.6h0" stroke="#2a7df0" stroke-width="2.64"/>
<path d="M691.6 507.8h0M703.4 509.3h0M721.2 509.4h0" stroke="#2b82f2" stroke-width="2.64"/>
<path d="M744.8 509.2h0M734.5 510.1h0" stroke="#1552c0" stroke-width="2.64"/>
<path d="M739.4 509.8h0" stroke="#195ece" stroke-width="2.64"/>
<path d="M726.7 510.3h0" stroke="#206ad9" stroke-width="3.36"/>
<path d="M704.9 511.3h0M736 511.3h0M707.7 511.3h0M727.1 511.4h0M709.2 511.5h0M726.4 511.6h0M735.5 511.6h0M706.8 511.6h0M721.8 511.6h0M711.1 511.6h0M742.5 511.7h0M696.6 511.8h0M745.3 511.9h0M702.4 512.1h0M738.9 512.2h0M734.2 512.2h0M723.5 512.2h0M745.4 512.2h0M734 512.2h0M744.5 512.2h0M699.6 512.3h0M699.8 512.4h0M748.6 512.4h0M698.8 512.4h0M723.9 512.4h0M741.6 512.5h0M726.1 512.5h0M726 512.6h0M744.8 512.6h0M749.9 512.6h0M736.8 512.7h0M695.2 512.7h0M718.1 512.7h0M744 512.8h0M732.2 512.9h0M704.7 512.9h0M746 513h0M723 513.1h0M705.9 513.1h0M729.5 513.2h0M706.2 513.2h0M715 513.3h0M722.7 513.3h0M709.1 513.5h0M706.3 513.5h0M741.5 513.7h0M747.9 513.7h0M740.5 513.7h0M709.9 513.7h0M697.3 513.9h0M746.5 514.1h0M717.3 514.1h0M731.2 514.1h0M712.9 514.2h0M715.8 514.2h0M710.9 514.3h0M699.5 514.4h0M749.6 514.4h0M734.2 514.5h0M716.3 514.5h0M724.7 514.5h0M701.2 514.6h0M707.7 514.8h0M702 514.8h0M745.9 514.9h0M728.4 514.9h0M732.1 514.9h0M727.2 515h0M720.7 515.3h0M743.9 515.3h0M698.8 515.3h0M734 515.4h0M710.7 515.4h0M733.5 515.5h0M699.5 515.6h0M727.6 515.6h0M716.1 515.6h0M720.8 515.6h0M741.7 515.9h0M731.6 516h0M739.5 516.1h0M722.5 516.2h0M725 516.3h0M742.3 516.3h0M749.6 516.3h0M719.8 516.3h0M696 516.4h0M707.9 516.4h0M714.6 516.4h0M721.9 516.5h0" stroke="#0f44a8" stroke-width="3.00"/>
<path d="M704.5 510.7h0M702 511.5h0M748.2 511.8h0M745.5 514.3h0M733.1 515h0M714.2 515.9h0" stroke="#1f72e6" stroke-width="2.64"/>
<path d="M735.5 510.8h0M733.7 511.6h0M744 511.7h0M699.3 511.8h0M723.5 511.9h0M722 515.6h0M749.1 515.8h0" stroke="#2b82f2" stroke-width="3.36"/>
<path d="M707.2 510.8h0M725.9 511h0M699.2 511.7h0M715.3 513.7h0M710.4 513.8h0M724.3 514h0M715.7 515.1h0M741.2 515.4h0M719.4 515.8h0" stroke="#3d8cf5" stroke-width="3.36"/>
<path d="M726.6 510.8h0M706.3 511.1h0M733.6 511.7h0M704.2 512.4h0M749.1 513.9h0" stroke="#1552c0" stroke-width="3.36"/>
<path d="M708.8 511h0M721.3 511.1h0M730.7 513.6h0M733.8 514h0M727.2 515.1h0M695.5 515.9h0M707.5 515.9h0" stroke="#2276ea" stroke-width="2.64"/>
<path d="M735 511h0M710.7 511.1h0M725.5 512h0M749.5 512.1h0M715.8 514h0" stroke="#3d8cf5" stroke-width="2.64"/>
<path d="M742 511.2h0M696.2 511.2h0M723.1 511.6h0M694.8 512.2h0M729 512.7h0M741.1 513.1h0M743.4 514.7h0" stroke="#1f72e6" stroke-width="3.36"/>
<path d="M744.9 511.3h0M738.4 511.6h0M740.1 513.1h0M709.5 513.2h0M716.9 513.5h0M733.6 514.8h0" stroke="#1d6adc" stroke-width="3.36"/>
<path d="M744.9 511.7h0M725.6 512h0M743.6 512.2h0M714.6 512.7h0M700.8 514h0M701.6 514.2h0M698.4 514.8h0M710.2 514.8h0M731.1 515.5h0M724.5 515.7h0" stroke="#2276ea" stroke-width="3.36"/>
<path d="M698.4 511.9h0M745.5 512.4h0" stroke="#195ece" stroke-width="2.64"/>
<path d="M741.1 512h0M747.4 513.1h0" stroke="#206ad9" stroke-width="2.64"/>
<path d="M744.4 512h0M722.6 512.5h0M705.5 512.5h0M705.9 512.9h0M726.8 514.5h0" stroke="#2a7df0" stroke-width="3.36"/>
<path d="M736.4 512.1h0M707.2 514.2h0" stroke="#1a62d3" stroke-width="3.36"/>
<path d="M717.7 512.2h0M708.6 512.9h0M696.8 513.4h0M731.6 514.3h0M720.3 515.1h0" stroke="#1552c0" stroke-width="2.64"/>
<path d="M731.8 512.3h0M746.1 513.5h0M699.1 515.1h0" stroke="#1d6adc" stroke-width="2.64"/>
<path d="M705.8 512.7h0M699.1 513.8h0M727.9 514.3h0" stroke="#2a7df0" stroke-width="2.64"/>
<path d="M722.3 512.8h0" stroke="#206ad9" stroke-width="3.36"/>
<path d="M712.5 513.6h0" stroke="#1b64d5" stroke-width="3.36"/>
<path d="M720.3 514.7h0" stroke="#1f67d8" stroke-width="3.36"/>
<path d="M739 515.5h0" stroke="#195ece" stroke-width="3.36"/>
<path d="M741.8 515.7h0M721.5 515.9h0" stroke="#296fda" stroke-width="2.64"/>
<path d="M721.6 516.5h0M734.8 516.6h0M748.2 516.6h0M707.7 516.6h0M728.2 516.7h0M731.3 516.8h0M706.1 517h0M740.4 517.2h0M742.5 517.4h0M748 517.6h0M732.9 517.7h0M697.6 517.7h0M704.5 517.8h0M703.6 518.1h0M730.9 518.1h0M729.3 518.1h0M745 518.2h0M726.5 518.3h0M732.3 518.3h0M745.3 518.3h0M699.6 518.4h0M698.2 518.4h0M717.2 518.6h0M702 518.7h0M703.2 518.8h0M745.1 518.8h0M737.3 518.9h0M709.1 519.1h0M747.1 519.2h0M733.8 519.3h0M745.6 519.3h0M703.5 519.4h0M736.8 519.4h0M716.3 519.4h0M731.3 519.4h0M711.2 519.5h0M699.5 519.5h0M740.7 519.8h0M744.3 519.8h0M728.5 519.9h0M722.1 519.9h0M728.2 519.9h0M697.6 520h0M721.1 520h0M732.5 520.1h0M700.6 520.1h0M743 520.1h0M730.9 520.2h0M733.1 520.2h0M711.5 520.3h0M744.6 520.3h0M730.5 520.3h0M720 520.4h0M721.4 520.4h0M716.1 520.4h0M710.5 520.5h0M700.7 520.5h0M742.7 520.7h0M699.1 520.7h0M722.3 520.8h0M699.6 520.8h0M716.8 520.8h0M724.2 521.1h0M746.6 521.1h0M729.6 521.1h0M713.9 521.1h0M711.3 521.2h0M715.9 521.3h0M708 521.3h0M734.3 521.3h0M743.9 521.3h0M738.1 521.4h0M724.6 521.5h0M706.5 521.7h0M717.5 521.7h0M744.3 521.8h0M701.4 521.8h0M741 521.9h0M745.3 522h0M710.4 522h0M736.7 522.2h0M709.7 522.3h0M731.4 522.3h0M718.6 522.4h0M726.9 522.4h0M742.3 522.5h0M744.6 522.6h0M730.7 522.6h0M721.4 522.6h0M709.9 522.7h0" stroke="#0f44a8" stroke-width="3.00"/>
<path d="M721.1 516h0M707.2 516.1h0M727.7 516.1h0M747.5 517h0M697.2 517.2h0M710.1 519.9h0" stroke="#1f72e6" stroke-width="3.36"/>
<path d="M734.3 516h0M732.4 517.1h0M742.3 520.1h0M733.8 520.8h0" stroke="#2276ea" stroke-width="3.36"/>
<path d="M747.8 516h0M702.8 518.2h0M720.9 519.8h0M716.4 520.3h0M706 521.1h0M726.5 521.9h0" stroke="#3d8cf5" stroke-width="2.64"/>
<path d="M730.9 516.2h0M726.1 517.7h0M699.2 517.8h0M744.7 518.3h0M728.1 519.3h0M709.4 522.1h0" stroke="#2b82f2" stroke-width="3.36"/>
<path d="M705.6 516.4h0M719.5 519.8h0" stroke="#296fda" stroke-width="3.36"/>
<path d="M739.9 516.6h0M728.8 517.6h0M716.8 518.1h0M742.6 519.6h0M732.7 519.7h0M744.2 519.8h0M710.9 520.6h0M743.9 521.3h0" stroke="#1552c0" stroke-width="3.36"/>
<path d="M742 516.8h0M730.4 517.6h0M746.7 518.6h0M703.1 518.8h0M710.8 518.9h0M721.8 520.2h0M746.2 520.6h0M713.5 520.6h0M743.5 520.8h0M730.3 522.1h0" stroke="#3d8cf5" stroke-width="3.36"/>
<path d="M704.1 517.3h0M736.9 518.4h0M698.7 520.2h0M736.3 521.6h0M718.2 521.9h0" stroke="#1d6adc" stroke-width="2.64"/>
<path d="M703.2 517.6h0M699.1 518.9h0M743.9 519.3h0M720.6 519.4h0M715.6 519.9h0M723.8 520.5h0M724.2 520.9h0M709.2 521.7h0M720.9 522.1h0" stroke="#1552c0" stroke-width="2.64"/>
<path d="M744.6 517.7h0M715.4 520.7h0M707.5 520.8h0M737.6 520.9h0" stroke="#2b82f2" stroke-width="2.64"/>
<path d="M731.9 517.8h0M708.6 518.6h0M733.3 518.8h0M700.1 519.6h0" stroke="#2a7df0" stroke-width="3.36"/>
<path d="M744.9 517.8h0M730.1 519.8h0M731 521.7h0" stroke="#1d6adc" stroke-width="3.36"/>
<path d="M697.8 517.8h0M701 521.3h0" stroke="#206ad9" stroke-width="2.64"/>
<path d="M701.5 518.2h0M744.9 521.4h0" stroke="#1b64d5" stroke-width="2.64"/>
<path d="M745.2 518.8h0M699.2 520.3h0" stroke="#1f67d8" stroke-width="3.36"/>
<path d="M736.3 518.9h0M715.9 518.9h0" stroke="#2a7df0" stroke-width="2.64"/>
<path d="M730.8 518.9h0M721.6 519.4h0M697.1 519.4h0" stroke="#195ece" stroke-width="2.64"/>
<path d="M740.3 519.2h0M730.5 519.7h0" stroke="#1a62d3" stroke-width="3.36"/>
<path d="M727.7 519.4h0M700.2 520h0M740.6 521.4h0M710 521.5h0" stroke="#1f72e6" stroke-width="2.64"/>
<path d="M732 519.6h0M711 519.8h0" stroke="#2276ea" stroke-width="2.64"/>
<path d="M729.1 520.6h0M717 521.2h0" stroke="#206ad9" stroke-width="3.36"/>
<path d="M741.8 521.9h0" stroke="#1f67d8" stroke-width="2.64"/>
<path d="M744.1 522.1h0" stroke="#1a62d3" stroke-width="2.64"/>
<path d="M721.9 522.7h0M727.8 522.8h0M713.3 523h0M720.5 523.1h0M725.2 523.2h0M723.5 523.2h0M723 523.3h0M720.1 523.3h0M737.6 523.3h0M737.1 523.3h0M713.6 523.4h0M717.7 523.5h0M732.8 523.5h0M710.6 523.5h0M733.3 523.6h0M720.1 523.7h0M717.3 523.7h0M707.3 523.8h0M726.3 523.8h0M715.7 523.8h0M735.3 523.9h0M733 524.1h0M730 524.4h0M738.2 524.4h0M704 524.4h0M725.8 524.4h0M701.4 524.4h0M742.1 524.6h0M712.7 524.6h0M730 524.7h0M722.8 524.7h0M723.4 524.8h0M742.1 524.8h0M711.9 524.9h0M711.7 524.9h0M712.2 525h0M730.4 525.1h0M723.8 525.1h0M735.8 525.2h0M741.4 525.2h0M729.8 525.3h0M722.1 525.5h0M725 525.5h0M705.5 525.6h0M715.7 525.6h0M705.7 525.6h0M707.3 525.6h0M712.9 525.7h0M729.7 525.8h0M740.3 525.9h0M724.4 526h0M719.5 526h0M727.7 526.1h0M705.2 526.1h0M719.9 526.2h0M734.7 526.3h0M716.8 526.3h0M711.9 526.4h0M715.6 526.5h0M722.3 526.5h0M730.3 526.8h0M737 526.9h0M708.6 527h0M737.2 527h0M722.1 527.2h0M738.9 527.2h0M720.6 527.3h0M721.5 527.3h0M713.5 527.3h0M727.9 527.5h0M708.2 527.8h0M707.6 527.9h0M723.4 528.2h0M722.1 528.2h0M705.9 528.5h0M722.6 528.6h0M713.9 528.7h0M711.5 528.7h0M708.9 528.9h0M722.3 528.9h0M737.9 529h0M728.8 529h0M737.3 529.1h0M725 529.2h0M715.9 529.2h0M706.7 529.5h0M707.3 529.6h0M707.5 529.6h0M721.5 529.8h0M735.8 529.9h0" stroke="#0f44a8" stroke-width="3.00"/>
<path d="M721.5 522.2h0M737.2 522.8h0M732.4 522.9h0M703.6 523.9h0M722.3 524.2h0M729.9 524.5h0M705 525h0M704.7 525.6h0M719.4 525.6h0M707.2 527.4h0M728.4 528.5h0" stroke="#1552c0" stroke-width="2.64"/>
<path d="M727.3 522.3h0M715.3 523.3h0M737.8 523.8h0M711.8 524.4h0M715.2 525.9h0M729.9 526.2h0" stroke="#1d6adc" stroke-width="2.64"/>
<path d="M712.9 522.5h0M713.1 522.8h0M735.3 524.6h0M721.6 527.7h0" stroke="#1f72e6" stroke-width="3.36"/>
<path d="M720.1 522.5h0M735.3 529.4h0" stroke="#1b64d5" stroke-width="3.36"/>
<path d="M724.7 522.6h0M706.8 523.2h0M741.6 524.2h0M719.1 525.5h0M724.5 528.7h0" stroke="#1f72e6" stroke-width="2.64"/>
<path d="M723.1 522.6h0M732.6 523.5h0M713.4 528.1h0M737.4 528.4h0" stroke="#2276ea" stroke-width="3.36"/>
<path d="M722.6 522.7h0M725.4 523.9h0M724.6 525h0M705.3 525h0M722.1 528.1h0M706.3 528.9h0M707.1 529.1h0" stroke="#2b82f2" stroke-width="2.64"/>
<path d="M719.7 522.8h0M700.9 523.9h0M711.5 524.4h0M721.6 524.9h0M706.8 525.1h0M729.3 525.2h0M713.1 526.8h0" stroke="#2a7df0" stroke-width="3.36"/>
<path d="M736.6 522.8h0M715.3 525h0M736.7 526.5h0" stroke="#1a62d3" stroke-width="2.64"/>
<path d="M717.3 522.9h0M710.2 523h0M723.4 524.5h0M740.9 524.7h0M712.5 525.2h0M708.2 526.5h0M721.1 526.7h0M721 529.3h0" stroke="#1552c0" stroke-width="3.36"/>
<path d="M732.9 523h0M729.6 523.8h0M736.5 526.4h0" stroke="#1a62d3" stroke-width="3.36"/>
<path d="M719.7 523.1h0M721.6 526.6h0M738.5 526.7h0M736.8 528.5h0" stroke="#206ad9" stroke-width="3.36"/>
<path d="M716.8 523.1h0M727.5 527h0M707.7 527.2h0" stroke="#296fda" stroke-width="3.36"/>
<path d="M725.8 523.3h0M705.5 527.9h0M708.5 528.3h0" stroke="#195ece" stroke-width="2.64"/>
<path d="M734.9 523.3h0M741.7 524h0M729.4 524.8h0M734.2 525.7h0M721.9 526h0" stroke="#2a7df0" stroke-width="2.64"/>
<path d="M712.3 524h0M711.3 524.4h0" stroke="#3d8cf5" stroke-width="2.64"/>
<path d="M729.5 524.2h0M716.4 525.8h0" stroke="#1f67d8" stroke-width="3.36"/>
<path d="M723 524.2h0M720.1 526.7h0" stroke="#195ece" stroke-width="3.36"/>
<path d="M739.9 525.3h0" stroke="#206ad9" stroke-width="2.64"/>
<path d="M723.9 525.5h0M711.4 525.8h0M706.8 529h0" stroke="#2b82f2" stroke-width="3.36"/>
<path d="M727.3 525.5h0" stroke="#296fda" stroke-width="2.64"/>
<path d="M723 527.7h0M721.9 528.4h0M715.4 528.7h0" stroke="#1d6adc" stroke-width="3.36"/>
<path d="M711 528.2h0" stroke="#2276ea" stroke-width="2.64"/>
<path d="M736.9 530h0M720.4 530.1h0M708 530.2h0M736.6 530.2h0M719.5 530.3h0M728 530.3h0M725.1 530.4h0M710.5 530.6h0M735 530.6h0M708.7 530.6h0M711.3 530.7h0M722.1 530.8h0M713.8 530.9h0M730.2 530.9h0M725.6 530.9h0M723.4 531.1h0M729.9 531.2h0M722.5 531.4h0M722.7 531.4h0M711.9 531.5h0M715.3 531.8h0M733.1 531.8h0M720.7 531.8h0M726.1 531.9h0M721.1 531.9h0M718.1 531.9h0M729.7 532h0M729.2 532.1h0M726.5 532.3h0M719.4 532.3h0M734.1 532.3h0M728.5 532.4h0M726.2 532.5h0M729.6 532.7h0M727.4 532.7h0M734.5 532.7h0M727.6 532.8h0M716.3 532.8h0M735.1 532.8h0M716.6 533.3h0M719.6 533.3h0M726.4 533.3h0M723.8 533.5h0M727.8 533.6h0M719.2 533.8h0M726.2 534.5h0M718 534.5h0M719.5 534.6h0M719.4 534.6h0M724.6 534.7h0M733.4 534.7h0M724.2 534.9h0M726.2 535.1h0M732 535.9h0M730.2 535.9h0M721.2 536.1h0M723 536.1h0" stroke="#0f44a8" stroke-width="3.00"/>
<path d="M736.5 529.4h0M724.7 529.9h0M729.1 532.2h0M720.8 535.5h0" stroke="#1d6adc" stroke-width="2.64"/>
<path d="M720 529.6h0M725.9 532.8h0M727.3 533h0" stroke="#1f72e6" stroke-width="3.36"/>
<path d="M707.5 529.6h0M722.1 530.8h0M716.2 532.7h0" stroke="#1d6adc" stroke-width="3.36"/>
<path d="M736.2 529.6h0M734.5 530h0M713.4 530.3h0M720.6 531.3h0" stroke="#3d8cf5" stroke-width="2.64"/>
<path d="M719.1 529.7h0M710.1 530h0" stroke="#2276ea" stroke-width="2.64"/>
<path d="M727.6 529.8h0M722.9 530.5h0M725.6 531.3h0M727 532.2h0M719.1 532.8h0M723.4 532.9h0M717.6 533.9h0M732.9 534.1h0" stroke="#1552c0" stroke-width="3.36"/>
<path d="M708.3 530.1h0M732.6 531.3h0" stroke="#2276ea" stroke-width="3.36"/>
<path d="M710.8 530.1h0M729.5 530.7h0M719 531.7h0M734 532.2h0M734.7 532.3h0" stroke="#2b82f2" stroke-width="2.64"/>
<path d="M721.6 530.2h0M722.3 530.9h0M725.8 532h0M722.6 535.6h0" stroke="#2a7df0" stroke-width="2.64"/>
<path d="M729.7 530.3h0M729.2 531.5h0M715.9 532.3h0" stroke="#1f72e6" stroke-width="2.64"/>
<path d="M725.1 530.4h0M711.4 531h0M728.8 531.6h0M723.7 534.3h0" stroke="#1552c0" stroke-width="2.64"/>
<path d="M714.8 531.2h0M726 531.7h0" stroke="#2a7df0" stroke-width="3.36"/>
<path d="M720.2 531.3h0M727.2 532.2h0" stroke="#1b64d5" stroke-width="2.64"/>
<path d="M717.7 531.4h0M729.7 535.4h0" stroke="#195ece" stroke-width="2.64"/>
<path d="M733.6 531.8h0" stroke="#1a62d3" stroke-width="3.36"/>
<path d="M728 531.9h0" stroke="#1f67d8" stroke-width="2.64"/>
<path d="M718.8 533.3h0" stroke="#206ad9" stroke-width="2.64"/>
<path d="M725.8 533.9h0" stroke="#1f67d8" stroke-width="3.36"/>
<path d="M719.1 534h0" stroke="#1b64d5" stroke-width="3.36"/>
<path d="M718.9 534h0M731.6 535.3h0" stroke="#296fda" stroke-width="3.36"/>
<path d="M724.1 534.1h0" stroke="#195ece" stroke-width="3.36"/>
<path d="M725.7 534.5h0" stroke="#2b82f2" stroke-width="3.36"/></g>
<ellipse cx="681.5" cy="486.0" rx="1.54" ry="1.24" fill="#1a5cd0"/><ellipse cx="703.0" cy="480.0" rx="1.21" ry="1.26" fill="#2a7df0"/><ellipse cx="749.0" cy="477.0" rx="1.69" ry="1.34" fill="#1f6fe0"/><ellipse cx="747.5" cy="487.0" rx="1.22" ry="1.27" fill="#1f6fe0"/><ellipse cx="762.0" cy="524.0" rx="1.35" ry="1.48" fill="#2a7df0"/><ellipse cx="688.5" cy="494.0" rx="1.23" ry="1.44" fill="#1a5cd0"/><ellipse cx="692.0" cy="497.0" rx="1.41" ry="1.24" fill="#1a5cd0"/><ellipse cx="744.0" cy="531.0" rx="1.36" ry="1.13" fill="#2a7df0"/><ellipse cx="727.0" cy="536.0" rx="1.60" ry="1.11" fill="#1f6fe0"/><ellipse cx="720.0" cy="535.5" rx="1.78" ry="1.33" fill="#1f6fe0"/>
<defs><filter id="waste" x="0" y="0" width="100%" height="100%"><feTurbulence type="fractalNoise" baseFrequency="0.16" numOctaves="3" seed="7" result="n"/><feColorMatrix in="n" type="matrix" values="0 0 0 0 0.74  0 0 0 0 0.66  0 0 0 0 0.52  2.6 0 0 0 -1.05" result="light"/><feColorMatrix in="n" type="matrix" values="0 0 0 0 0.30  0 0 0 0 0.26  0 0 0 0 0.20  0 -3.2 0 0 1.45" result="dark"/><feColorMatrix in="n" type="matrix" values="0 0 0 0 0.90  0 0 0 0 0.88  0 0 0 0 0.84  0 0 3.4 0 -1.75" result="white"/><feMerge result="m"><feMergeNode in="SourceGraphic"/><feMergeNode in="dark"/><feMergeNode in="white"/></feMerge><feComposite in="m" in2="SourceGraphic" operator="in"/></filter><linearGradient id="skin1" x1="0" y1="0" x2="1" y2="1"><stop offset="0" stop-color="#e2b5a5"/><stop offset="0.55" stop-color="#d3a08f"/><stop offset="1" stop-color="#b27a6d"/></linearGradient><linearGradient id="skin2" x1="0" y1="0" x2="0.4" y2="1"><stop offset="0" stop-color="#e3b7a7"/><stop offset="0.55" stop-color="#d6a393"/><stop offset="1" stop-color="#b87469"/></linearGradient></defs>
<polygon points="168.0,257.5 201.5,270.8 193.2,281.5 183.2,299.8 176.6,310.1 168.0,305.1" fill="#1d3523" />
<polygon points="180.8,305.6 209.8,306.4 229.7,304.8 229.7,323.0 193.2,316.4 182.4,318.1" fill="#b5837a" />
<polygon points="201.5,270.8 214.8,263.3 231.4,257.5 253.0,257.0 255.5,260.0 248.0,266.6 249.6,273.2 246.3,293.2 233.0,299.8 226.4,304.8 209.8,308.1 201.5,311.8 184.9,308.4 178.6,304.8 181.6,293.2 189.9,282.4" fill="url(#skin1)" />
<polygon points="181.6,316.4 193.2,312.3 209.8,311.4 226.4,319.7 239.7,328.0 259.6,336.3 266.3,344.6 266.3,349.6 259.6,356.3 231.4,357.6 206.5,356.3 189.9,351.3 183.2,343.0 179.9,329.7" fill="url(#skin2)" />
<polygon points="250.5,344.3 261.3,346.3 264.3,349.6 259.6,353.8 252.1,352.1" fill="#c8908a" />
<polygon points="170.0,316.7 183.2,308.4 187.4,310.8 178.6,321.7 175.9,336.3 178.6,351.6 173.6,351.6 168.3,349.6 168.0,316.7" fill="#d5652d" />
<path d="M189.1,311.8 Q176.6,328.0 182.9,351.6" stroke="#5cae98" stroke-width="2" fill="none"/>
<path d="M176.6,313.9 Q169.1,333.0 175.8,351.6" stroke="#e98a3a" stroke-width="1.2" fill="none"/>
<defs><clipPath id="wclip"><polygon points="198.4,307.4 201.4,305.4 204.7,302.2 206.0,301.8 209.3,298.4 214.2,298.5 217.2,298.1 220.1,297.0 223.4,298.1 225.4,294.5 227.9,289.7 230.3,287.6 232.6,285.1 237.2,284.8 240.2,284.5 243.5,283.3 243.4,279.9 244.1,277.1 245.7,272.1 244.7,269.3 248.2,267.1 249.1,264.1 250.5,261.6 251.8,259.3 255.9,259.5 259.6,259.1 263.5,258.7 266.6,256.4 270.4,258.2 273.8,257.3 276.7,256.5 280.3,257.3 282.4,256.2 287.0,258.2 288.6,257.8 292.6,257.4 295.7,259.8 300.3,259.2 303.0,260.3 306.2,261.9 309.6,264.3 311.8,265.4 314.3,264.3 317.9,265.2 318.2,269.5 320.2,272.3 320.1,277.3 321.8,280.9 322.7,282.9 321.3,286.6 321.3,290.1 320.7,293.4 321.2,297.1 319.8,301.4 319.1,304.3 320.1,307.8 318.5,309.7 317.5,313.9 316.0,317.0 316.7,318.8 316.8,323.0 317.1,326.0 317.3,330.2 316.0,332.0 317.6,337.3 316.3,339.6 316.6,342.7 315.7,346.1 315.3,350.2 314.7,353.1 315.3,355.7 311.7,357.4 308.0,356.4 305.9,356.6 301.3,357.1 299.3,356.5 295.3,357.2 293.3,357.5 290.1,357.1 285.8,358.2 283.9,357.7 279.4,356.9 277.0,356.9 274.5,358.3 270.1,356.9 268.3,357.7 265.3,356.9 262.1,353.6 261.9,350.4 259.3,347.6 257.8,344.4 256.1,341.7 251.3,341.2 250.5,339.1 246.5,338.1 244.5,335.7 241.1,336.2 237.8,334.7 234.0,333.5 230.8,332.1 228.6,330.5 226.1,328.0 223.3,327.5 220.4,325.9 217.3,323.2 212.5,321.7 209.9,318.9 208.1,317.5 204.6,316.5 203.1,312.5 200.4,310.8" fill="#000" /></clipPath><filter id="wnoise" x="0" y="0" width="100%" height="100%" color-interpolation-filters="sRGB"><feTurbulence type="fractalNoise" baseFrequency="0.2" numOctaves="3" seed="7" result="n"/><feColorMatrix in="n" type="matrix" values="0 0 0 0 0.32  0 0 0 0 0.28  0 0 0 0 0.21  0 -3.8 0 0 1.68" result="dark"/><feColorMatrix in="n" type="matrix" values="0 0 0 0 0.88  0 0 0 0 0.85  0 0 0 0 0.78  0 0 4.2 0 -2.4" result="white"/><feMerge result="mm"><feMergeNode in="dark"/><feMergeNode in="white"/></feMerge><feGaussianBlur in="mm" stdDeviation="0.35"/></filter><filter id="wblur" x="-30%" y="-30%" width="160%" height="160%"><feGaussianBlur stdDeviation="2.2"/></filter></defs>
<g clip-path="url(#wclip)"><rect x="195" y="255" width="135" height="105" fill="#ad9c7e"/><ellipse cx="233.0" cy="294.8" rx="13.3" ry="10.0" fill="#ccb48e" opacity="1.0" filter="url(#wblur)"/><ellipse cx="253.0" cy="304.8" rx="18.3" ry="6.6" fill="#c2ad8a" opacity="1.0" filter="url(#wblur)"/><ellipse cx="214.8" cy="308.1" rx="10.0" ry="5.8" fill="#9c9884" opacity="1.0" filter="url(#wblur)"/><ellipse cx="246.3" cy="323.0" rx="21.6" ry="8.3" fill="#6b5d46" opacity="1.0" filter="url(#wblur)"/><ellipse cx="276.2" cy="333.0" rx="19.9" ry="11.6" fill="#776b56" opacity="1.0" filter="url(#wblur)"/><ellipse cx="296.1" cy="274.9" rx="18.3" ry="10.0" fill="#8a8068" opacity="1.0" filter="url(#wblur)"/><ellipse cx="306.1" cy="304.8" rx="11.6" ry="18.3" fill="#7c735f" opacity="1.0" filter="url(#wblur)"/><ellipse cx="274.6" cy="288.2" rx="14.9" ry="10.0" fill="#b9ab90" opacity="1.0" filter="url(#wblur)"/><ellipse cx="266.3" cy="264.9" rx="11.6" ry="6.6" fill="#a8a08a" opacity="1.0" filter="url(#wblur)"/><ellipse cx="301.1" cy="349.6" rx="16.6" ry="8.3" fill="#d9d6d6" opacity="1.0" filter="url(#wblur)"/><ellipse cx="266.3" cy="347.9" rx="8.3" ry="8.3" fill="#8d8574" opacity="1.0" filter="url(#wblur)"/><ellipse cx="250.5" cy="328.0" rx="6.6" ry="4.3" fill="#d49c22" opacity="1.0" filter="url(#wblur)"/><ellipse cx="254.6" cy="267.4" rx="5.6" ry="3.3" fill="#2f8fd2" opacity="1.0" filter="url(#wblur)"/><ellipse cx="268.7" cy="271.9" rx="6.0" ry="4.0" fill="#3598d8" opacity="1.0" filter="url(#wblur)"/><ellipse cx="276.2" cy="277.4" rx="5.0" ry="3.0" fill="#5aa0c8" opacity="0.8" filter="url(#wblur)"/><ellipse cx="314.4" cy="294.5" rx="3.7" ry="3.7" fill="#3a94d0" opacity="1.0" filter="url(#wblur)"/><ellipse cx="214.0" cy="305.6" rx="2.3" ry="2.0" fill="#2a9a8a" opacity="1.0" filter="url(#wblur)"/><ellipse cx="286.2" cy="273.2" rx="3.0" ry="2.3" fill="#4a82aa" opacity="1.0" filter="url(#wblur)"/><rect x="195" y="255" width="135" height="105" fill="#fff" filter="url(#wnoise)"/></g>
<polygon points="289.1,441.3 343.8,438.6 356.1,450.5 298.7,453.0" fill="#f4625e" />
<polygon points="289.1,441.3 298.7,453.0 298.7,509.0 289.9,496.7" fill="#e03642" />
<polygon points="298.7,453.0 356.1,450.5 355.7,505.9 298.7,509.0" fill="#ee3f49" />
<path d="M298.7,458.6L356.1,456.0M298.7,464.2L356.1,461.6M298.7,469.8L356.0,467.1M298.7,475.4L356.0,472.7M298.7,481.0L355.9,478.2M298.7,486.6L355.9,483.7M298.7,492.2L355.8,489.3M298.7,497.8L355.8,494.8M298.7,503.4L355.8,500.3" stroke="#d22c3a" stroke-width="0.4" opacity="0.4" fill="none"/>
<polygon points="373.6,462.8 428.9,459.7 447.4,472.7 388.9,476.8" fill="#1ba6ec" />
<polygon points="373.6,462.8 388.9,476.8 388.9,516.1 374.2,502.8" fill="#0e84ce" />
<polygon points="388.9,476.8 447.4,472.7 446.8,512.0 388.9,516.1" fill="#1292df" />
<path d="M394.8,476.3L394.7,515.7M400.6,475.9L400.5,515.3M406.5,475.5L406.3,514.9M412.3,475.1L412.1,514.5M418.2,474.7L417.9,514.1M424.0,474.3L423.7,513.7M429.9,473.9L429.4,513.3M435.7,473.5L435.2,512.9M441.6,473.1L441.0,512.4M388.9,480.7L447.3,476.6M388.9,484.6L447.3,480.5M388.9,488.6L447.2,484.5M388.9,492.5L447.2,488.4M388.9,496.4L447.1,492.3M388.9,500.4L447.0,496.3M388.9,504.3L447.0,500.2M388.9,508.3L446.9,504.2M388.9,512.2L446.8,508.1" stroke="#0f6fb2" stroke-width="0.35" opacity="0.5" fill="none"/>
<path d="M379.1,462.5L394.8,476.3M384.6,462.2L400.6,475.9M390.2,461.9L406.5,475.5M395.7,461.6L412.3,475.1M401.3,461.3L418.2,474.7M406.8,461.0L424.0,474.3M412.3,460.7L429.9,473.9M417.9,460.4L435.7,473.5M423.4,460.0L441.6,473.1M375.1,464.2L430.8,461.0M376.6,465.6L432.6,462.3M378.2,467.0L434.5,463.6M379.7,468.4L436.3,464.9M381.3,469.8L438.2,466.2M382.8,471.2L440.0,467.5M384.3,472.6L441.9,468.8M385.9,474.0L443.7,470.1M387.4,475.4L445.6,471.4" stroke="#1a86c8" stroke-width="0.35" opacity="0.5" fill="none"/>
<polygon points="303.8,513.1 315.5,538.7 316.1,551.4 304.5,526.4" fill="#0e84ce" />
<polygon points="303.8,513.1 370.5,510.4 382.8,534.6 315.5,538.7" fill="#1aa1e9" />
<polygon points="315.5,538.7 382.8,534.6 382.8,547.3 316.1,551.4" fill="#1090dc" />
<path d="M310.5,512.8L322.3,538.3M317.2,512.5L329.0,537.9M323.8,512.3L335.7,537.5M330.5,512.0L342.4,537.1M337.2,511.7L349.2,536.6M343.8,511.5L355.9,536.2M350.5,511.2L362.6,535.8M357.2,510.9L369.3,535.4M363.8,510.7L376.1,535.0M305.0,515.6L371.7,512.8M306.2,518.2L373.0,515.2M307.3,520.8L374.2,517.7M308.5,523.3L375.4,520.1M309.7,525.9L376.6,522.5M310.9,528.4L377.9,524.9M312.0,531.0L379.1,527.3M313.2,533.6L380.3,529.8M314.4,536.1L381.6,532.2" stroke="#1378bb" stroke-width="0.35" opacity="0.5" fill="none"/>
<polygon points="303.8,511.6 370.5,509.2 370.9,519.8 347.5,521.3 347.5,518.2 306.9,520.2" fill="#6fdcb8" />
<polygon points="347.5,515.1 370.9,514.1 370.9,520.2 347.5,521.5" fill="#2fb488" />
<polygon points="306.9,518.6 346.9,516.5 346.9,524.7 307.9,526.4" fill="#e8dc4a" />
<polygon points="306.9,518.6 346.9,516.5 346.9,519.8 307.3,521.9" fill="#f4ec7a" />
<polygon points="387.9,521.9 407.8,537.1 408.4,544.4 388.5,528.0" fill="#0e84ce" />
<polygon points="387.9,521.9 450.5,517.2 470.6,530.9 407.8,537.1" fill="#189fe7" />
<polygon points="407.8,537.1 470.6,530.9 470.6,538.3 408.4,544.4" fill="#1090dc" />
<path d="M394.2,521.4L414.1,536.4M400.4,520.9L420.4,535.8M406.7,520.5L426.6,535.2M412.9,520.0L432.9,534.6M419.2,519.5L439.2,534.0M425.5,519.0L445.5,533.4M431.7,518.6L451.7,532.7M438.0,518.1L458.0,532.1M444.2,517.6L464.3,531.5M389.9,523.4L452.5,518.5M391.9,524.9L454.5,519.9M393.9,526.4L456.5,521.3M395.9,527.9L458.5,522.7M397.9,529.5L460.5,524.0M399.9,531.0L462.5,525.4M401.8,532.5L464.5,526.8M403.8,534.0L466.6,528.2M405.8,535.5L468.6,529.5" stroke="#0f6fb2" stroke-width="0.4" opacity="0.6" fill="none"/>
<polygon points="420.7,516.5 426.9,516.1 426.9,522.7 421.1,523.3" fill="#e8d83a" />
<polygon points="443.9,509.0 449.5,511.6 434.1,534.6 428.3,531.5" fill="#3cc796" />
<polygon points="443.9,509.0 446.0,510.0 430.6,533.2 428.3,531.5" fill="#62dbb0" />
<polygon points="223.7,495.1 256.7,496.4 262.0,503.0 215.8,507.6" fill="#1c9f79" />
<polygon points="221.9,490.3 278.0,493.0 277.7,498.5 221.6,495.9" fill="#27b98b" /><polygon points="221.9,490.3 278.0,493.0 277.8,495.4 221.8,492.8" fill="#46d9ac" />
<polygon points="212.6,496.0 258.2,497.3 257.9,504.4 212.4,503.1" fill="#27b98b" /><polygon points="212.6,496.0 258.2,497.3 258.1,500.2 212.6,498.8" fill="#46d9ac" />
<polygon points="211.6,507.6 225.1,503.0 227.0,508.3 213.2,513.3" fill="#27b98b" />
<polygon points="211.6,507.6 225.1,503.0 225.9,505.4 212.1,510.1" fill="#46d9ac" />
<polygon points="228.0,507.2 241.6,502.7 243.3,508.5 229.3,513.5" fill="#27b98b" />
<polygon points="228.0,507.2 241.6,502.7 242.2,505.4 228.5,510.0" fill="#46d9ac" />
<polygon points="245.5,507.2 262.0,502.3 263.6,508.3 246.8,513.8" fill="#27b98b" />
<polygon points="245.5,507.2 262.0,502.3 262.7,505.1 246.0,510.1" fill="#46d9ac" />
<polygon points="247.1,485.1 288.7,509.8 285.5,515.2 243.9,490.5" fill="#2cc193" /><polygon points="247.1,485.1 288.7,509.8 287.1,512.5 245.5,487.8" fill="#5ce6bb" />
<polygon points="207.9,538.6 214.5,532.0 225.1,526.7 239.6,522.1 250.1,518.2 262.0,520.8 275.2,522.8 287.1,527.4 287.7,533.3 273.9,541.2 263.3,546.5 209.2,547.2" fill="#f2d932" />
<rect x="243.7" y="521.1" width="4.6" height="1.9" fill="#fcf07a"/><rect x="243.7" y="523.1" width="4.6" height="2.8" fill="#efd22a"/><rect x="247.2" y="523.1" width="1.1" height="2.8" fill="#d4b01a"/><rect x="243.7" y="525.4" width="4.6" height="0.7" fill="#d4b01a" opacity="0.7"/>
<rect x="249.6" y="521.3" width="4.6" height="1.9" fill="#f9e84e"/><rect x="249.6" y="523.2" width="4.6" height="2.8" fill="#f3da34"/><rect x="253.1" y="523.2" width="1.1" height="2.8" fill="#d4b01a"/><rect x="249.6" y="525.5" width="4.6" height="0.7" fill="#d4b01a" opacity="0.7"/>
<rect x="244.2" y="521.7" width="4.6" height="1.9" fill="#fbef6c"/><rect x="244.2" y="523.6" width="4.6" height="2.8" fill="#e6c41e"/><rect x="247.7" y="523.6" width="1.1" height="2.8" fill="#d4b01a"/><rect x="244.2" y="525.9" width="4.6" height="0.7" fill="#d4b01a" opacity="0.7"/>
<rect x="245.9" y="522.5" width="4.6" height="1.9" fill="#fcf07a"/><rect x="245.9" y="524.4" width="4.6" height="2.8" fill="#f3da34"/><rect x="249.4" y="524.4" width="1.1" height="2.8" fill="#d4b01a"/><rect x="245.9" y="526.7" width="4.6" height="0.7" fill="#d4b01a" opacity="0.7"/>
<rect x="239.7" y="522.8" width="4.6" height="1.9" fill="#fbef6c"/><rect x="239.7" y="524.8" width="4.6" height="2.8" fill="#f3da34"/><rect x="243.2" y="524.8" width="1.1" height="2.8" fill="#d4b01a"/><rect x="239.7" y="527.1" width="4.6" height="0.7" fill="#d4b01a" opacity="0.7"/>
<rect x="240.6" y="522.9" width="4.6" height="1.9" fill="#fbef6c"/><rect x="240.6" y="524.8" width="4.6" height="2.8" fill="#e6c41e"/><rect x="244.1" y="524.8" width="1.1" height="2.8" fill="#d4b01a"/><rect x="240.6" y="527.1" width="4.6" height="0.7" fill="#d4b01a" opacity="0.7"/>
<rect x="275.7" y="523.7" width="4.6" height="1.9" fill="#fbef6c"/><rect x="275.7" y="525.6" width="4.6" height="2.8" fill="#e6c41e"/><rect x="279.2" y="525.6" width="1.1" height="2.8" fill="#d4b01a"/><rect x="275.7" y="527.9" width="4.6" height="0.7" fill="#d4b01a" opacity="0.7"/>
<rect x="264.4" y="523.8" width="4.6" height="1.9" fill="#fbef6c"/><rect x="264.4" y="525.8" width="4.6" height="2.8" fill="#efd22a"/><rect x="267.9" y="525.8" width="1.1" height="2.8" fill="#d4b01a"/><rect x="264.4" y="528.1" width="4.6" height="0.7" fill="#d4b01a" opacity="0.7"/>
<rect x="274.9" y="524.1" width="4.6" height="1.9" fill="#fcf07a"/><rect x="274.9" y="526.0" width="4.6" height="2.8" fill="#e6c41e"/><rect x="278.4" y="526.0" width="1.1" height="2.8" fill="#d4b01a"/><rect x="274.9" y="528.3" width="4.6" height="0.7" fill="#d4b01a" opacity="0.7"/>
<rect x="267.8" y="525.2" width="4.6" height="1.9" fill="#f9e84e"/><rect x="267.8" y="527.2" width="4.6" height="2.8" fill="#f3da34"/><rect x="271.3" y="527.2" width="1.1" height="2.8" fill="#c9a315"/><rect x="267.8" y="529.5" width="4.6" height="0.7" fill="#c9a315" opacity="0.7"/>
<rect x="275.1" y="525.8" width="4.6" height="1.9" fill="#fcf07a"/><rect x="275.1" y="527.7" width="4.6" height="2.8" fill="#efd22a"/><rect x="278.6" y="527.7" width="1.1" height="2.8" fill="#c9a315"/><rect x="275.1" y="530.0" width="4.6" height="0.7" fill="#c9a315" opacity="0.7"/>
<rect x="278.5" y="526.3" width="4.6" height="1.9" fill="#fbef6c"/><rect x="278.5" y="528.2" width="4.6" height="2.8" fill="#efd22a"/><rect x="282.0" y="528.2" width="1.1" height="2.8" fill="#d4b01a"/><rect x="278.5" y="530.5" width="4.6" height="0.7" fill="#d4b01a" opacity="0.7"/>
<rect x="255.1" y="526.4" width="4.6" height="1.9" fill="#fcf07a"/><rect x="255.1" y="528.3" width="4.6" height="2.8" fill="#efd22a"/><rect x="258.6" y="528.3" width="1.1" height="2.8" fill="#d4b01a"/><rect x="255.1" y="530.6" width="4.6" height="0.7" fill="#d4b01a" opacity="0.7"/>
<rect x="229.9" y="526.5" width="4.6" height="1.9" fill="#fcf07a"/><rect x="229.9" y="528.4" width="4.6" height="2.8" fill="#f3da34"/><rect x="233.4" y="528.4" width="1.1" height="2.8" fill="#c9a315"/><rect x="229.9" y="530.7" width="4.6" height="0.7" fill="#c9a315" opacity="0.7"/>
<rect x="225.8" y="526.5" width="4.6" height="1.9" fill="#f9e84e"/><rect x="225.8" y="528.4" width="4.6" height="2.8" fill="#f3da34"/><rect x="229.3" y="528.4" width="1.1" height="2.8" fill="#c9a315"/><rect x="225.8" y="530.7" width="4.6" height="0.7" fill="#c9a315" opacity="0.7"/>
<rect x="270.7" y="526.6" width="4.6" height="1.9" fill="#fcf07a"/><rect x="270.7" y="528.5" width="4.6" height="2.8" fill="#f3da34"/><rect x="274.2" y="528.5" width="1.1" height="2.8" fill="#d4b01a"/><rect x="270.7" y="530.8" width="4.6" height="0.7" fill="#d4b01a" opacity="0.7"/>
<rect x="225.9" y="526.6" width="4.6" height="1.9" fill="#f9e84e"/><rect x="225.9" y="528.5" width="4.6" height="2.8" fill="#efd22a"/><rect x="229.4" y="528.5" width="1.1" height="2.8" fill="#d4b01a"/><rect x="225.9" y="530.8" width="4.6" height="0.7" fill="#d4b01a" opacity="0.7"/>
<rect x="233.5" y="526.6" width="4.6" height="1.9" fill="#fcf07a"/><rect x="233.5" y="528.5" width="4.6" height="2.8" fill="#efd22a"/><rect x="237.0" y="528.5" width="1.1" height="2.8" fill="#d4b01a"/><rect x="233.5" y="530.8" width="4.6" height="0.7" fill="#d4b01a" opacity="0.7"/>
<rect x="275.8" y="527.0" width="4.6" height="1.9" fill="#fbef6c"/><rect x="275.8" y="529.0" width="4.6" height="2.8" fill="#f3da34"/><rect x="279.3" y="529.0" width="1.1" height="2.8" fill="#c9a315"/><rect x="275.8" y="531.3" width="4.6" height="0.7" fill="#c9a315" opacity="0.7"/>
<rect x="236.6" y="527.5" width="4.6" height="1.9" fill="#f9e84e"/><rect x="236.6" y="529.4" width="4.6" height="2.8" fill="#e6c41e"/><rect x="240.1" y="529.4" width="1.1" height="2.8" fill="#d4b01a"/><rect x="236.6" y="531.7" width="4.6" height="0.7" fill="#d4b01a" opacity="0.7"/>
<rect x="269.1" y="527.9" width="4.6" height="1.9" fill="#f9e84e"/><rect x="269.1" y="529.8" width="4.6" height="2.8" fill="#e6c41e"/><rect x="272.6" y="529.8" width="1.1" height="2.8" fill="#d4b01a"/><rect x="269.1" y="532.1" width="4.6" height="0.7" fill="#d4b01a" opacity="0.7"/>
<rect x="265.7" y="528.1" width="4.6" height="1.9" fill="#fcf07a"/><rect x="265.7" y="530.0" width="4.6" height="2.8" fill="#f3da34"/><rect x="269.2" y="530.0" width="1.1" height="2.8" fill="#c9a315"/><rect x="265.7" y="532.3" width="4.6" height="0.7" fill="#c9a315" opacity="0.7"/>
<rect x="267.5" y="528.2" width="4.6" height="1.9" fill="#fcf07a"/><rect x="267.5" y="530.1" width="4.6" height="2.8" fill="#efd22a"/><rect x="271.0" y="530.1" width="1.1" height="2.8" fill="#d4b01a"/><rect x="267.5" y="532.4" width="4.6" height="0.7" fill="#d4b01a" opacity="0.7"/>
<rect x="239.5" y="528.5" width="4.6" height="1.9" fill="#fbef6c"/><rect x="239.5" y="530.4" width="4.6" height="2.8" fill="#efd22a"/><rect x="243.0" y="530.4" width="1.1" height="2.8" fill="#c9a315"/><rect x="239.5" y="532.7" width="4.6" height="0.7" fill="#c9a315" opacity="0.7"/>
<rect x="240.9" y="528.5" width="4.6" height="1.9" fill="#fcf07a"/><rect x="240.9" y="530.4" width="4.6" height="2.8" fill="#e6c41e"/><rect x="244.4" y="530.4" width="1.1" height="2.8" fill="#d4b01a"/><rect x="240.9" y="532.7" width="4.6" height="0.7" fill="#d4b01a" opacity="0.7"/>
<rect x="260.3" y="528.6" width="4.6" height="1.9" fill="#f9e84e"/><rect x="260.3" y="530.6" width="4.6" height="2.8" fill="#e6c41e"/><rect x="263.8" y="530.6" width="1.1" height="2.8" fill="#c9a315"/><rect x="260.3" y="532.9" width="4.6" height="0.7" fill="#c9a315" opacity="0.7"/>
<rect x="247.2" y="528.6" width="4.6" height="1.9" fill="#f9e84e"/><rect x="247.2" y="530.6" width="4.6" height="2.8" fill="#efd22a"/><rect x="250.7" y="530.6" width="1.1" height="2.8" fill="#d4b01a"/><rect x="247.2" y="532.9" width="4.6" height="0.7" fill="#d4b01a" opacity="0.7"/>
<rect x="274.4" y="528.7" width="4.6" height="1.9" fill="#fbef6c"/><rect x="274.4" y="530.6" width="4.6" height="2.8" fill="#e6c41e"/><rect x="277.9" y="530.6" width="1.1" height="2.8" fill="#d4b01a"/><rect x="274.4" y="532.9" width="4.6" height="0.7" fill="#d4b01a" opacity="0.7"/>
<rect x="226.5" y="529.9" width="4.6" height="1.9" fill="#fcf07a"/><rect x="226.5" y="531.8" width="4.6" height="2.8" fill="#f3da34"/><rect x="230.0" y="531.8" width="1.1" height="2.8" fill="#d4b01a"/><rect x="226.5" y="534.1" width="4.6" height="0.7" fill="#d4b01a" opacity="0.7"/>
<rect x="257.1" y="530.0" width="4.6" height="1.9" fill="#f9e84e"/><rect x="257.1" y="532.0" width="4.6" height="2.8" fill="#e6c41e"/><rect x="260.6" y="532.0" width="1.1" height="2.8" fill="#d4b01a"/><rect x="257.1" y="534.3" width="4.6" height="0.7" fill="#d4b01a" opacity="0.7"/>
<rect x="243.7" y="530.1" width="4.6" height="1.9" fill="#f9e84e"/><rect x="243.7" y="532.1" width="4.6" height="2.8" fill="#e6c41e"/><rect x="247.2" y="532.1" width="1.1" height="2.8" fill="#d4b01a"/><rect x="243.7" y="534.4" width="4.6" height="0.7" fill="#d4b01a" opacity="0.7"/>
<rect x="229.7" y="530.2" width="4.6" height="1.9" fill="#fcf07a"/><rect x="229.7" y="532.1" width="4.6" height="2.8" fill="#f3da34"/><rect x="233.2" y="532.1" width="1.1" height="2.8" fill="#c9a315"/><rect x="229.7" y="534.4" width="4.6" height="0.7" fill="#c9a315" opacity="0.7"/>
<rect x="229.3" y="530.3" width="4.6" height="1.9" fill="#f9e84e"/><rect x="229.3" y="532.2" width="4.6" height="2.8" fill="#f3da34"/><rect x="232.8" y="532.2" width="1.1" height="2.8" fill="#d4b01a"/><rect x="229.3" y="534.5" width="4.6" height="0.7" fill="#d4b01a" opacity="0.7"/>
<rect x="237.0" y="530.4" width="4.6" height="1.9" fill="#f9e84e"/><rect x="237.0" y="532.3" width="4.6" height="2.8" fill="#efd22a"/><rect x="240.5" y="532.3" width="1.1" height="2.8" fill="#c9a315"/><rect x="237.0" y="534.6" width="4.6" height="0.7" fill="#c9a315" opacity="0.7"/>
<rect x="239.1" y="530.5" width="4.6" height="1.9" fill="#f9e84e"/><rect x="239.1" y="532.4" width="4.6" height="2.8" fill="#f3da34"/><rect x="242.6" y="532.4" width="1.1" height="2.8" fill="#d4b01a"/><rect x="239.1" y="534.7" width="4.6" height="0.7" fill="#d4b01a" opacity="0.7"/>
<rect x="237.1" y="530.5" width="4.6" height="1.9" fill="#f9e84e"/><rect x="237.1" y="532.5" width="4.6" height="2.8" fill="#e6c41e"/><rect x="240.6" y="532.5" width="1.1" height="2.8" fill="#d4b01a"/><rect x="237.1" y="534.8" width="4.6" height="0.7" fill="#d4b01a" opacity="0.7"/>
<rect x="221.6" y="530.6" width="4.6" height="1.9" fill="#fbef6c"/><rect x="221.6" y="532.6" width="4.6" height="2.8" fill="#f3da34"/><rect x="225.1" y="532.6" width="1.1" height="2.8" fill="#c9a315"/><rect x="221.6" y="534.9" width="4.6" height="0.7" fill="#c9a315" opacity="0.7"/>
<rect x="259.3" y="531.3" width="4.6" height="1.9" fill="#fbef6c"/><rect x="259.3" y="533.2" width="4.6" height="2.8" fill="#f3da34"/><rect x="262.8" y="533.2" width="1.1" height="2.8" fill="#c9a315"/><rect x="259.3" y="535.5" width="4.6" height="0.7" fill="#c9a315" opacity="0.7"/>
<rect x="265.2" y="531.7" width="4.6" height="1.9" fill="#fbef6c"/><rect x="265.2" y="533.6" width="4.6" height="2.8" fill="#f3da34"/><rect x="268.7" y="533.6" width="1.1" height="2.8" fill="#d4b01a"/><rect x="265.2" y="535.9" width="4.6" height="0.7" fill="#d4b01a" opacity="0.7"/>
<rect x="266.9" y="531.9" width="4.6" height="1.9" fill="#fbef6c"/><rect x="266.9" y="533.8" width="4.6" height="2.8" fill="#efd22a"/><rect x="270.4" y="533.8" width="1.1" height="2.8" fill="#d4b01a"/><rect x="266.9" y="536.1" width="4.6" height="0.7" fill="#d4b01a" opacity="0.7"/>
<rect x="244.3" y="532.4" width="4.6" height="1.9" fill="#f9e84e"/><rect x="244.3" y="534.3" width="4.6" height="2.8" fill="#efd22a"/><rect x="247.8" y="534.3" width="1.1" height="2.8" fill="#c9a315"/><rect x="244.3" y="536.6" width="4.6" height="0.7" fill="#c9a315" opacity="0.7"/>
<rect x="256.4" y="532.4" width="4.6" height="1.9" fill="#fbef6c"/><rect x="256.4" y="534.4" width="4.6" height="2.8" fill="#efd22a"/><rect x="259.9" y="534.4" width="1.1" height="2.8" fill="#d4b01a"/><rect x="256.4" y="536.7" width="4.6" height="0.7" fill="#d4b01a" opacity="0.7"/>
<rect x="268.5" y="532.6" width="4.6" height="1.9" fill="#fcf07a"/><rect x="268.5" y="534.5" width="4.6" height="2.8" fill="#efd22a"/><rect x="272.0" y="534.5" width="1.1" height="2.8" fill="#d4b01a"/><rect x="268.5" y="536.8" width="4.6" height="0.7" fill="#d4b01a" opacity="0.7"/>
<rect x="275.5" y="532.6" width="4.6" height="1.9" fill="#f9e84e"/><rect x="275.5" y="534.5" width="4.6" height="2.8" fill="#efd22a"/><rect x="279.0" y="534.5" width="1.1" height="2.8" fill="#c9a315"/><rect x="275.5" y="536.8" width="4.6" height="0.7" fill="#c9a315" opacity="0.7"/>
<rect x="272.3" y="532.6" width="4.6" height="1.9" fill="#fcf07a"/><rect x="272.3" y="534.6" width="4.6" height="2.8" fill="#efd22a"/><rect x="275.8" y="534.6" width="1.1" height="2.8" fill="#c9a315"/><rect x="272.3" y="536.9" width="4.6" height="0.7" fill="#c9a315" opacity="0.7"/>
<rect x="250.3" y="532.8" width="4.6" height="1.9" fill="#fcf07a"/><rect x="250.3" y="534.7" width="4.6" height="2.8" fill="#e6c41e"/><rect x="253.8" y="534.7" width="1.1" height="2.8" fill="#d4b01a"/><rect x="250.3" y="537.0" width="4.6" height="0.7" fill="#d4b01a" opacity="0.7"/>
<rect x="216.5" y="533.1" width="4.6" height="1.9" fill="#fbef6c"/><rect x="216.5" y="535.0" width="4.6" height="2.8" fill="#efd22a"/><rect x="220.0" y="535.0" width="1.1" height="2.8" fill="#c9a315"/><rect x="216.5" y="537.3" width="4.6" height="0.7" fill="#c9a315" opacity="0.7"/>
<rect x="226.4" y="533.2" width="4.6" height="1.9" fill="#f9e84e"/><rect x="226.4" y="535.2" width="4.6" height="2.8" fill="#e6c41e"/><rect x="229.9" y="535.2" width="1.1" height="2.8" fill="#c9a315"/><rect x="226.4" y="537.5" width="4.6" height="0.7" fill="#c9a315" opacity="0.7"/>
<rect x="247.2" y="533.3" width="4.6" height="1.9" fill="#f9e84e"/><rect x="247.2" y="535.3" width="4.6" height="2.8" fill="#efd22a"/><rect x="250.7" y="535.3" width="1.1" height="2.8" fill="#c9a315"/><rect x="247.2" y="537.6" width="4.6" height="0.7" fill="#c9a315" opacity="0.7"/>
<rect x="238.9" y="534.6" width="4.6" height="1.9" fill="#fcf07a"/><rect x="238.9" y="536.6" width="4.6" height="2.8" fill="#efd22a"/><rect x="242.4" y="536.6" width="1.1" height="2.8" fill="#c9a315"/><rect x="238.9" y="538.9" width="4.6" height="0.7" fill="#c9a315" opacity="0.7"/>
<rect x="217.8" y="534.8" width="4.6" height="1.9" fill="#f9e84e"/><rect x="217.8" y="536.8" width="4.6" height="2.8" fill="#f3da34"/><rect x="221.3" y="536.8" width="1.1" height="2.8" fill="#d4b01a"/><rect x="217.8" y="539.1" width="4.6" height="0.7" fill="#d4b01a" opacity="0.7"/>
<rect x="266.0" y="535.4" width="4.6" height="1.9" fill="#fbef6c"/><rect x="266.0" y="537.3" width="4.6" height="2.8" fill="#e6c41e"/><rect x="269.5" y="537.3" width="1.1" height="2.8" fill="#c9a315"/><rect x="266.0" y="539.6" width="4.6" height="0.7" fill="#c9a315" opacity="0.7"/>
<rect x="215.4" y="535.6" width="4.6" height="1.9" fill="#fbef6c"/><rect x="215.4" y="537.5" width="4.6" height="2.8" fill="#efd22a"/><rect x="218.9" y="537.5" width="1.1" height="2.8" fill="#d4b01a"/><rect x="215.4" y="539.8" width="4.6" height="0.7" fill="#d4b01a" opacity="0.7"/>
<rect x="218.9" y="535.7" width="4.6" height="1.9" fill="#fcf07a"/><rect x="218.9" y="537.6" width="4.6" height="2.8" fill="#e6c41e"/><rect x="222.4" y="537.6" width="1.1" height="2.8" fill="#c9a315"/><rect x="218.9" y="539.9" width="4.6" height="0.7" fill="#c9a315" opacity="0.7"/>
<rect x="231.2" y="535.8" width="4.6" height="1.9" fill="#f9e84e"/><rect x="231.2" y="537.7" width="4.6" height="2.8" fill="#e6c41e"/><rect x="234.7" y="537.7" width="1.1" height="2.8" fill="#c9a315"/><rect x="231.2" y="540.0" width="4.6" height="0.7" fill="#c9a315" opacity="0.7"/>
<rect x="213.0" y="536.0" width="4.6" height="1.9" fill="#fbef6c"/><rect x="213.0" y="537.9" width="4.6" height="2.8" fill="#e6c41e"/><rect x="216.5" y="537.9" width="1.1" height="2.8" fill="#c9a315"/><rect x="213.0" y="540.2" width="4.6" height="0.7" fill="#c9a315" opacity="0.7"/>
<rect x="267.5" y="536.8" width="4.6" height="1.9" fill="#f9e84e"/><rect x="267.5" y="538.7" width="4.6" height="2.8" fill="#e6c41e"/><rect x="271.0" y="538.7" width="1.1" height="2.8" fill="#c9a315"/><rect x="267.5" y="541.0" width="4.6" height="0.7" fill="#c9a315" opacity="0.7"/>
<rect x="247.8" y="536.8" width="4.6" height="1.9" fill="#fbef6c"/><rect x="247.8" y="538.8" width="4.6" height="2.8" fill="#efd22a"/><rect x="251.3" y="538.8" width="1.1" height="2.8" fill="#d4b01a"/><rect x="247.8" y="541.1" width="4.6" height="0.7" fill="#d4b01a" opacity="0.7"/>
<rect x="239.0" y="537.0" width="4.6" height="1.9" fill="#fcf07a"/><rect x="239.0" y="538.9" width="4.6" height="2.8" fill="#e6c41e"/><rect x="242.5" y="538.9" width="1.1" height="2.8" fill="#d4b01a"/><rect x="239.0" y="541.2" width="4.6" height="0.7" fill="#d4b01a" opacity="0.7"/>
<rect x="238.2" y="537.2" width="4.6" height="1.9" fill="#f9e84e"/><rect x="238.2" y="539.1" width="4.6" height="2.8" fill="#f3da34"/><rect x="241.7" y="539.1" width="1.1" height="2.8" fill="#d4b01a"/><rect x="238.2" y="541.4" width="4.6" height="0.7" fill="#d4b01a" opacity="0.7"/>
<rect x="215.8" y="538.0" width="4.6" height="1.9" fill="#fcf07a"/><rect x="215.8" y="539.9" width="4.6" height="2.8" fill="#efd22a"/><rect x="219.3" y="539.9" width="1.1" height="2.8" fill="#d4b01a"/><rect x="215.8" y="542.2" width="4.6" height="0.7" fill="#d4b01a" opacity="0.7"/>
<rect x="235.1" y="538.0" width="4.6" height="1.9" fill="#fbef6c"/><rect x="235.1" y="540.0" width="4.6" height="2.8" fill="#f3da34"/><rect x="238.6" y="540.0" width="1.1" height="2.8" fill="#c9a315"/><rect x="235.1" y="542.3" width="4.6" height="0.7" fill="#c9a315" opacity="0.7"/>
<rect x="248.6" y="538.3" width="4.6" height="1.9" fill="#fbef6c"/><rect x="248.6" y="540.3" width="4.6" height="2.8" fill="#efd22a"/><rect x="252.1" y="540.3" width="1.1" height="2.8" fill="#d4b01a"/><rect x="248.6" y="542.6" width="4.6" height="0.7" fill="#d4b01a" opacity="0.7"/>
<rect x="218.1" y="538.4" width="4.6" height="1.9" fill="#fbef6c"/><rect x="218.1" y="540.4" width="4.6" height="2.8" fill="#f3da34"/><rect x="221.6" y="540.4" width="1.1" height="2.8" fill="#d4b01a"/><rect x="218.1" y="542.7" width="4.6" height="0.7" fill="#d4b01a" opacity="0.7"/>
<rect x="248.4" y="538.5" width="4.6" height="1.9" fill="#fbef6c"/><rect x="248.4" y="540.5" width="4.6" height="2.8" fill="#f3da34"/><rect x="251.9" y="540.5" width="1.1" height="2.8" fill="#c9a315"/><rect x="248.4" y="542.8" width="4.6" height="0.7" fill="#c9a315" opacity="0.7"/>
<rect x="243.2" y="539.0" width="4.6" height="1.9" fill="#f9e84e"/><rect x="243.2" y="541.0" width="4.6" height="2.8" fill="#e6c41e"/><rect x="246.7" y="541.0" width="1.1" height="2.8" fill="#d4b01a"/><rect x="243.2" y="543.3" width="4.6" height="0.7" fill="#d4b01a" opacity="0.7"/>
<rect x="254.3" y="539.1" width="4.6" height="1.9" fill="#f9e84e"/><rect x="254.3" y="541.1" width="4.6" height="2.8" fill="#f3da34"/><rect x="257.8" y="541.1" width="1.1" height="2.8" fill="#d4b01a"/><rect x="254.3" y="543.4" width="4.6" height="0.7" fill="#d4b01a" opacity="0.7"/>
<rect x="213.5" y="539.3" width="4.6" height="1.9" fill="#fcf07a"/><rect x="213.5" y="541.2" width="4.6" height="2.8" fill="#efd22a"/><rect x="217.0" y="541.2" width="1.1" height="2.8" fill="#c9a315"/><rect x="213.5" y="543.5" width="4.6" height="0.7" fill="#c9a315" opacity="0.7"/>
<rect x="252.5" y="539.3" width="4.6" height="1.9" fill="#f9e84e"/><rect x="252.5" y="541.3" width="4.6" height="2.8" fill="#efd22a"/><rect x="256.0" y="541.3" width="1.1" height="2.8" fill="#c9a315"/><rect x="252.5" y="543.6" width="4.6" height="0.7" fill="#c9a315" opacity="0.7"/>
<rect x="222.1" y="539.7" width="4.6" height="1.9" fill="#fcf07a"/><rect x="222.1" y="541.7" width="4.6" height="2.8" fill="#e6c41e"/><rect x="225.6" y="541.7" width="1.1" height="2.8" fill="#c9a315"/><rect x="222.1" y="544.0" width="4.6" height="0.7" fill="#c9a315" opacity="0.7"/>
<rect x="218.8" y="540.2" width="4.6" height="1.9" fill="#fcf07a"/><rect x="218.8" y="542.1" width="4.6" height="2.8" fill="#efd22a"/><rect x="222.3" y="542.1" width="1.1" height="2.8" fill="#c9a315"/><rect x="218.8" y="544.4" width="4.6" height="0.7" fill="#c9a315" opacity="0.7"/>
<rect x="224.1" y="540.2" width="4.6" height="1.9" fill="#f9e84e"/><rect x="224.1" y="542.2" width="4.6" height="2.8" fill="#f3da34"/><rect x="227.6" y="542.2" width="1.1" height="2.8" fill="#c9a315"/><rect x="224.1" y="544.5" width="4.6" height="0.7" fill="#c9a315" opacity="0.7"/>
<rect x="236.8" y="541.4" width="4.6" height="1.9" fill="#f9e84e"/><rect x="236.8" y="543.4" width="4.6" height="2.8" fill="#f3da34"/><rect x="240.3" y="543.4" width="1.1" height="2.8" fill="#c9a315"/><rect x="236.8" y="545.7" width="4.6" height="0.7" fill="#c9a315" opacity="0.7"/>
<rect x="217.4" y="542.1" width="4.6" height="1.9" fill="#fcf07a"/><rect x="217.4" y="544.0" width="4.6" height="2.8" fill="#e6c41e"/><rect x="220.9" y="544.0" width="1.1" height="2.8" fill="#c9a315"/><rect x="217.4" y="546.3" width="4.6" height="0.7" fill="#c9a315" opacity="0.7"/>
<rect x="223.4" y="542.1" width="4.6" height="1.9" fill="#f9e84e"/><rect x="223.4" y="544.0" width="4.6" height="2.8" fill="#e6c41e"/><rect x="226.9" y="544.0" width="1.1" height="2.8" fill="#c9a315"/><rect x="223.4" y="546.3" width="4.6" height="0.7" fill="#c9a315" opacity="0.7"/>
</svg>
</body></html>
